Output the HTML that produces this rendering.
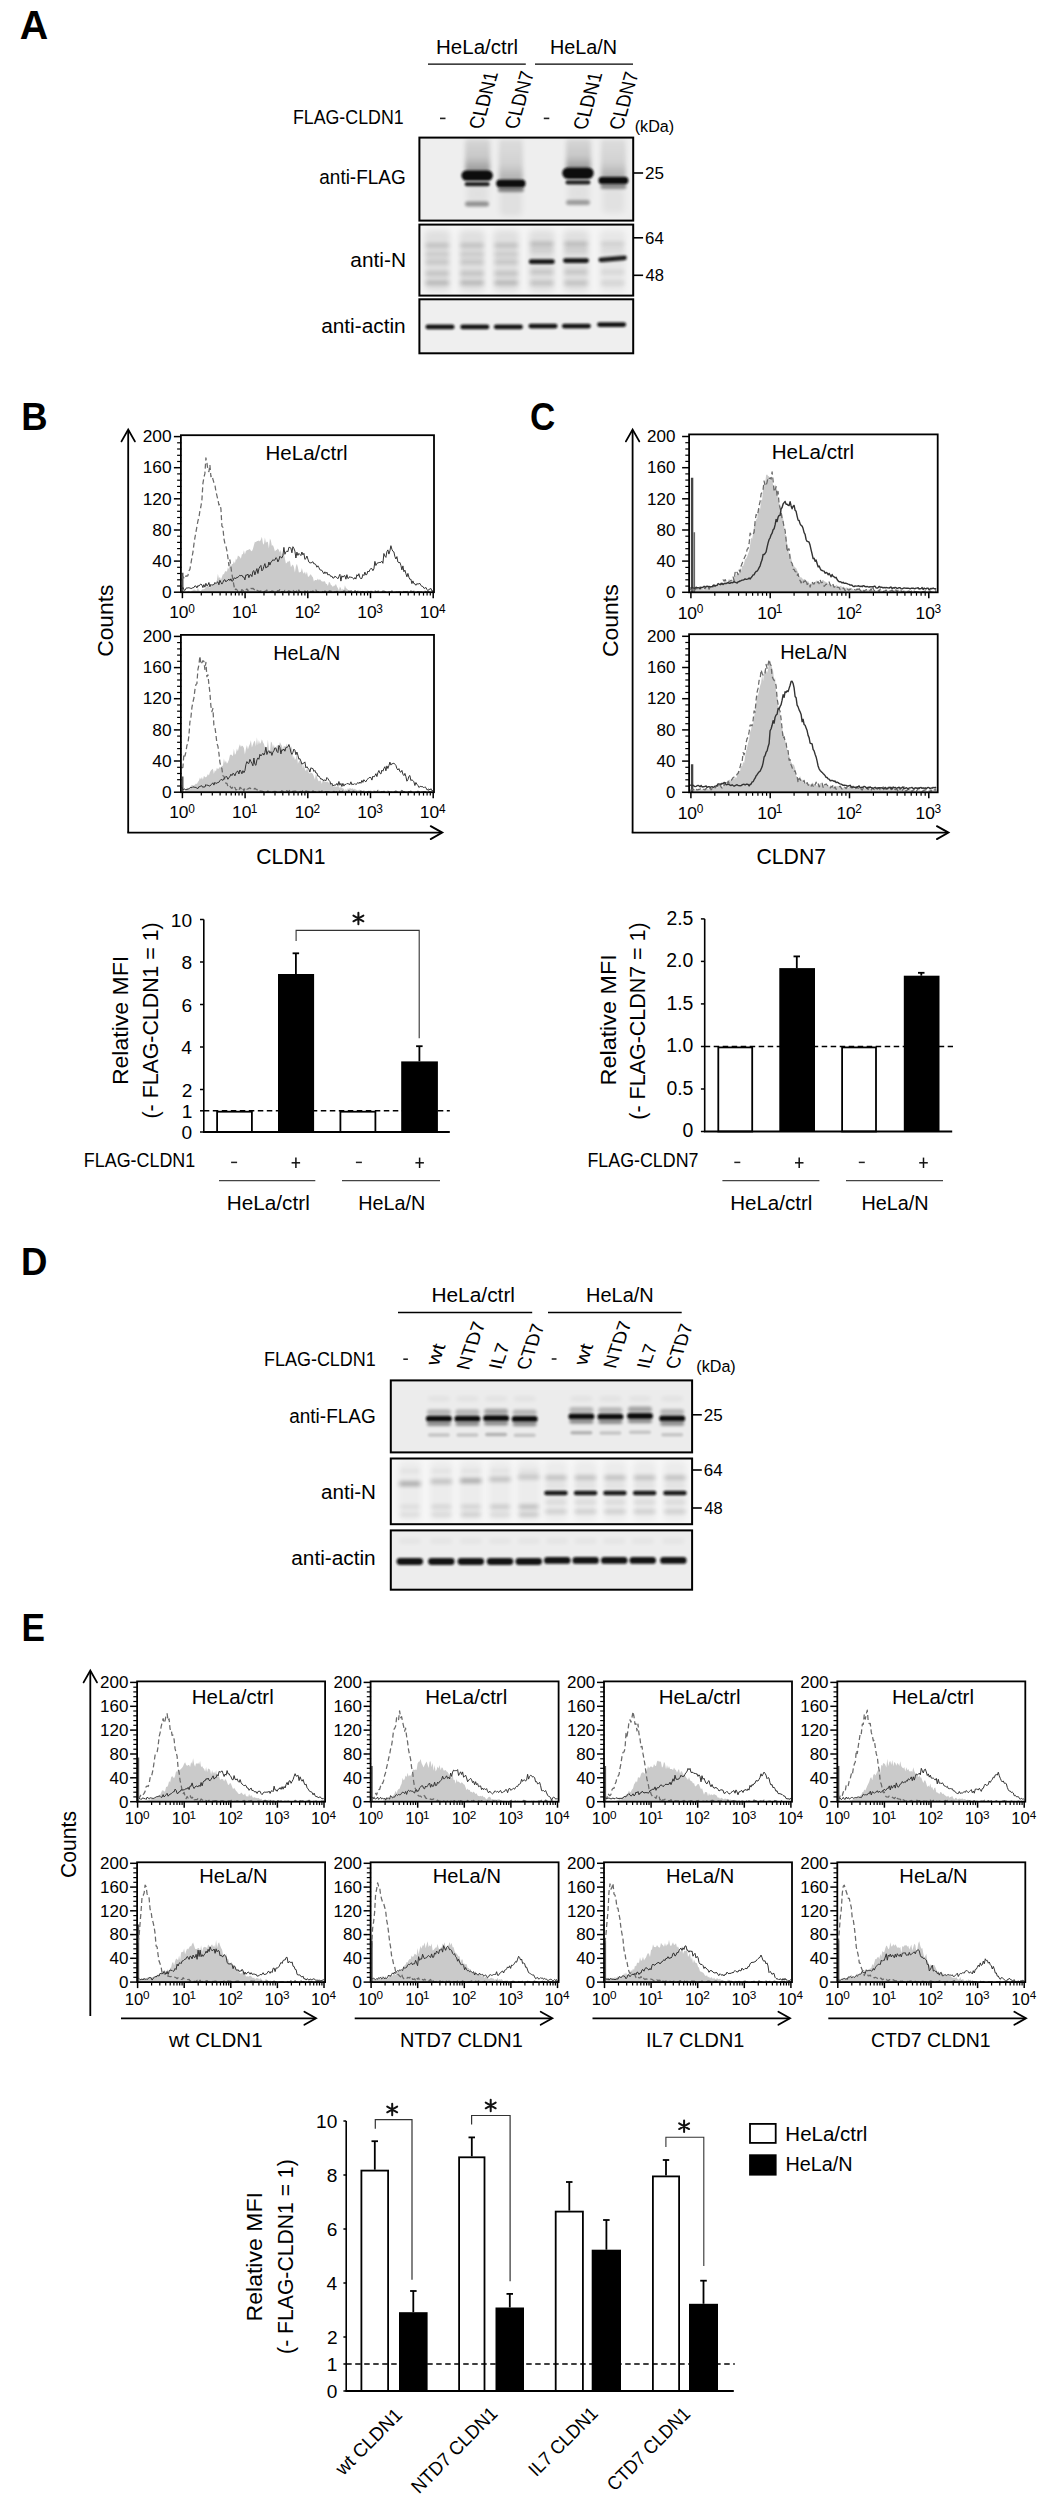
<!DOCTYPE html>
<html><head><meta charset="utf-8"><title>Figure</title>
<style>
html,body{margin:0;padding:0;background:#fff;}
svg{display:block;font-family:"Liberation Sans",sans-serif;}
text{stroke:none;}
</style></head><body>
<svg width="1044" height="2500" viewBox="0 0 1044 2500">
<defs><filter id="b1" x="-40%" y="-300%" width="180%" height="700%"><feGaussianBlur stdDeviation="1"/></filter><filter id="b15" x="-40%" y="-300%" width="180%" height="700%"><feGaussianBlur stdDeviation="1.5"/></filter><filter id="b2" x="-40%" y="-300%" width="180%" height="700%"><feGaussianBlur stdDeviation="2"/></filter><filter id="b3" x="-40%" y="-300%" width="180%" height="700%"><feGaussianBlur stdDeviation="3"/></filter><filter id="b5" x="-40%" y="-300%" width="180%" height="700%"><feGaussianBlur stdDeviation="5"/></filter><linearGradient id="smr" x1="0" y1="0" x2="0" y2="1"><stop offset="0" stop-color="#000" stop-opacity="0.10"/><stop offset="0.55" stop-color="#000" stop-opacity="0.16"/><stop offset="1" stop-color="#000" stop-opacity="0.38"/></linearGradient><linearGradient id="smr2" x1="0" y1="0" x2="0" y2="1"><stop offset="0" stop-color="#000" stop-opacity="0.07"/><stop offset="0.6" stop-color="#000" stop-opacity="0.12"/><stop offset="1" stop-color="#000" stop-opacity="0.28"/></linearGradient><clipPath id="ca1"><rect x="419.4" y="137.6" width="213.80000000000007" height="83.0"/></clipPath><clipPath id="ca2"><rect x="419.4" y="224.6" width="213.80000000000007" height="71.00000000000003"/></clipPath><clipPath id="ca3"><rect x="419.4" y="299.3" width="213.80000000000007" height="54.0"/></clipPath><clipPath id="cd1"><rect x="390.8" y="1380.4" width="301.3" height="72.0"/></clipPath><clipPath id="cd2"><rect x="390.8" y="1458.5" width="301.3" height="65.70000000000005"/></clipPath><clipPath id="cd3"><rect x="390.8" y="1530.4" width="301.3" height="59.299999999999955"/></clipPath><clipPath id="hc1"><rect x="180.9" y="435.2" width="253.1" height="157.00000000000006"/></clipPath><clipPath id="hc2"><rect x="180.9" y="634.9" width="253.1" height="157.30000000000007"/></clipPath><clipPath id="hc3"><rect x="689.1" y="434.4" width="248.60000000000002" height="157.89999999999998"/></clipPath><clipPath id="hc4"><rect x="689.1" y="634.2" width="248.60000000000002" height="158.0999999999999"/></clipPath><clipPath id="hc10"><rect x="137.1" y="1681.4" width="188.00000000000003" height="120.29999999999995"/></clipPath><clipPath id="hc20"><rect x="137.1" y="1862.3" width="188.00000000000003" height="119.79999999999995"/></clipPath><clipPath id="hc11"><rect x="370.6" y="1681.4" width="188.0" height="120.29999999999995"/></clipPath><clipPath id="hc21"><rect x="370.6" y="1862.3" width="188.0" height="119.79999999999995"/></clipPath><clipPath id="hc12"><rect x="604.0" y="1681.4" width="188.0" height="120.29999999999995"/></clipPath><clipPath id="hc22"><rect x="604.0" y="1862.3" width="188.0" height="119.79999999999995"/></clipPath><clipPath id="hc13"><rect x="837.3" y="1681.4" width="188.0" height="120.29999999999995"/></clipPath><clipPath id="hc23"><rect x="837.3" y="1862.3" width="188.0" height="119.79999999999995"/></clipPath></defs>
<rect width="1044" height="2500" fill="#fff"/>
<text x="19.71" y="39.10" font-size="40.00" textLength="28.46" lengthAdjust="spacingAndGlyphs" font-weight="bold" fill="#000" >A</text>
<text x="436.06" y="53.70" font-size="19.71" textLength="82.00" lengthAdjust="spacingAndGlyphs" >HeLa/ctrl</text>
<text x="549.91" y="53.70" font-size="19.71" textLength="67.18" lengthAdjust="spacingAndGlyphs" >HeLa/N</text>
<line x1="428.0" y1="64.1" x2="525.8" y2="64.1" stroke="#000" stroke-width="1.4" />
<line x1="535.0" y1="64.1" x2="633.0" y2="64.1" stroke="#000" stroke-width="1.4" />
<text x="292.88" y="123.60" font-size="20.00" textLength="110.80" lengthAdjust="spacingAndGlyphs" >FLAG-CLDN1</text>
<line x1="440.0" y1="118.4" x2="445.5" y2="118.4" stroke="#222" stroke-width="1.6" />
<line x1="543.8" y1="118.4" x2="549.3" y2="118.4" stroke="#222" stroke-width="1.6" />
<g transform="translate(482.37 128.79) skewX(-16) rotate(-90)"><text x="0" y="0" font-size="20.50" textLength="56.58" lengthAdjust="spacingAndGlyphs" font-style="italic">CLDN1</text></g>
<g transform="translate(517.94 128.81) skewX(-16) rotate(-90)"><text x="0" y="0" font-size="20.50" textLength="57.61" lengthAdjust="spacingAndGlyphs" font-style="italic">CLDN7</text></g>
<g transform="translate(586.56 129.60) skewX(-16) rotate(-90)"><text x="0" y="0" font-size="20.50" textLength="56.90" lengthAdjust="spacingAndGlyphs" font-style="italic">CLDN1</text></g>
<g transform="translate(622.54 129.61) skewX(-16) rotate(-90)"><text x="0" y="0" font-size="20.50" textLength="57.61" lengthAdjust="spacingAndGlyphs" font-style="italic">CLDN7</text></g>
<text x="634.73" y="132.00" font-size="16.23" textLength="39.41" lengthAdjust="spacingAndGlyphs" >(kDa)</text>
<text x="319.34" y="184.10" font-size="19.71" textLength="86.33" lengthAdjust="spacingAndGlyphs" >anti-FLAG</text>
<text x="350.37" y="267.20" font-size="19.71" textLength="55.66" lengthAdjust="spacingAndGlyphs" >anti-N</text>
<text x="321.17" y="333.30" font-size="19.71" textLength="84.54" lengthAdjust="spacingAndGlyphs" >anti-actin</text>
<g clip-path="url(#ca1)">
<rect x="419.4" y="137.6" width="213.8" height="83.0" fill="#eeeeee" />
<rect x="465.1" y="139.0" width="25.0" height="33.0" rx="3" fill="url(#smr)" filter="url(#b2)"/>
<rect x="498.9" y="139.0" width="24.0" height="42.0" rx="3" fill="url(#smr2)" filter="url(#b2)"/>
<rect x="566.0" y="139.0" width="25.0" height="31.0" rx="3" fill="url(#smr)" filter="url(#b2)"/>
<rect x="600.9" y="139.0" width="25.0" height="39.0" rx="3" fill="url(#smr2)" filter="url(#b2)"/>
<rect x="499.9" y="190.0" width="22.0" height="26.0" rx="4.0" fill="#000" opacity="0.06" filter="url(#b3)"/>
<rect x="602.4" y="187.0" width="22.0" height="26.0" rx="4.0" fill="#000" opacity="0.05" filter="url(#b3)"/>
<rect x="466.6" y="184.0" width="22.0" height="20.0" rx="4.0" fill="#000" opacity="0.05" filter="url(#b3)"/>
<rect x="567.5" y="183.0" width="22.0" height="20.0" rx="4.0" fill="#000" opacity="0.05" filter="url(#b3)"/>
<rect x="497.9" y="187.0" width="26.0" height="5.0" rx="2.5" fill="#000" opacity="0.45" filter="url(#b15)"/>
<rect x="600.4" y="184.0" width="26.0" height="5.0" rx="2.5" fill="#000" opacity="0.4" filter="url(#b15)"/>
<rect x="464.7" y="182.1" width="25.0" height="4.2" rx="2.1" fill="#000" opacity="0.85" filter="url(#b1)"/>
<rect x="565.5" y="180.3" width="25.0" height="4.2" rx="2.1" fill="#000" opacity="0.85" filter="url(#b1)"/>
<rect x="465.0" y="201.5" width="24.0" height="5.0" rx="2.5" fill="#000" opacity="0.38" filter="url(#b15)"/>
<rect x="566.0" y="200.0" width="24.0" height="5.0" rx="2.5" fill="#000" opacity="0.33" filter="url(#b15)"/>
<rect x="461.4" y="170.2" width="31.5" height="10.5" rx="5.2" fill="#111" opacity="1.0" filter="url(#b1)"/>
<rect x="496.1" y="179.4" width="29.5" height="8.0" rx="4.0" fill="#111" opacity="1.0" filter="url(#b1)"/>
<rect x="562.2" y="167.4" width="31.5" height="11.5" rx="5.8" fill="#111" opacity="1.0" filter="url(#b1)"/>
<rect x="598.4" y="176.7" width="30.0" height="7.5" rx="3.8" fill="#111" opacity="1.0" filter="url(#b1)"/>
</g>
<rect x="419.4" y="137.6" width="213.8" height="83.0" fill="none" stroke="#000" stroke-width="2" />
<line x1="633.6" y1="173.0" x2="643.1" y2="173.0" stroke="#000" stroke-width="1.6" />
<text x="645.05" y="178.90" font-size="16.86" textLength="18.98" lengthAdjust="spacingAndGlyphs" >25</text>
<g clip-path="url(#ca2)">
<rect x="419.4" y="224.6" width="213.8" height="71.0" fill="#f4f4f4" />
<rect x="424.3" y="230.0" width="26.0" height="62.0" rx="5.0" fill="#000" opacity="0.08" filter="url(#b3)"/>
<rect x="425.3" y="243.4" width="24.0" height="4.0" rx="2.0" fill="#000" opacity="0.17" filter="url(#b2)"/>
<rect x="425.3" y="252.2" width="24.0" height="4.0" rx="2.0" fill="#000" opacity="0.12" filter="url(#b2)"/>
<rect x="425.3" y="259.9" width="24.0" height="4.0" rx="2.0" fill="#000" opacity="0.14" filter="url(#b2)"/>
<rect x="425.3" y="271.4" width="24.0" height="4.0" rx="2.0" fill="#000" opacity="0.16" filter="url(#b2)"/>
<rect x="425.3" y="280.8" width="24.0" height="4.0" rx="2.0" fill="#000" opacity="0.22" filter="url(#b2)"/>
<rect x="459.0" y="230.0" width="26.0" height="62.0" rx="5.0" fill="#000" opacity="0.08" filter="url(#b3)"/>
<rect x="460.0" y="243.4" width="24.0" height="4.0" rx="2.0" fill="#000" opacity="0.17" filter="url(#b2)"/>
<rect x="460.0" y="252.2" width="24.0" height="4.0" rx="2.0" fill="#000" opacity="0.12" filter="url(#b2)"/>
<rect x="460.0" y="259.9" width="24.0" height="4.0" rx="2.0" fill="#000" opacity="0.14" filter="url(#b2)"/>
<rect x="460.0" y="271.4" width="24.0" height="4.0" rx="2.0" fill="#000" opacity="0.16" filter="url(#b2)"/>
<rect x="460.0" y="280.8" width="24.0" height="4.0" rx="2.0" fill="#000" opacity="0.22" filter="url(#b2)"/>
<rect x="493.2" y="230.0" width="26.0" height="62.0" rx="5.0" fill="#000" opacity="0.08" filter="url(#b3)"/>
<rect x="494.2" y="243.4" width="24.0" height="4.0" rx="2.0" fill="#000" opacity="0.17" filter="url(#b2)"/>
<rect x="494.2" y="252.2" width="24.0" height="4.0" rx="2.0" fill="#000" opacity="0.12" filter="url(#b2)"/>
<rect x="494.2" y="259.9" width="24.0" height="4.0" rx="2.0" fill="#000" opacity="0.14" filter="url(#b2)"/>
<rect x="494.2" y="271.4" width="24.0" height="4.0" rx="2.0" fill="#000" opacity="0.16" filter="url(#b2)"/>
<rect x="494.2" y="280.8" width="24.0" height="4.0" rx="2.0" fill="#000" opacity="0.22" filter="url(#b2)"/>
<rect x="528.8" y="230.0" width="26.0" height="62.0" rx="5.0" fill="#000" opacity="0.08" filter="url(#b3)"/>
<rect x="529.8" y="241.9" width="24.0" height="4.0" rx="2.0" fill="#000" opacity="0.2" filter="url(#b2)"/>
<rect x="529.8" y="248.2" width="24.0" height="4.0" rx="2.0" fill="#000" opacity="0.1" filter="url(#b2)"/>
<rect x="529.8" y="270.1" width="24.0" height="4.0" rx="2.0" fill="#000" opacity="0.14" filter="url(#b2)"/>
<rect x="529.8" y="281.0" width="24.0" height="4.0" rx="2.0" fill="#000" opacity="0.16" filter="url(#b2)"/>
<rect x="563.0" y="230.0" width="26.0" height="62.0" rx="5.0" fill="#000" opacity="0.08" filter="url(#b3)"/>
<rect x="564.0" y="241.9" width="24.0" height="4.0" rx="2.0" fill="#000" opacity="0.2" filter="url(#b2)"/>
<rect x="564.0" y="248.2" width="24.0" height="4.0" rx="2.0" fill="#000" opacity="0.1" filter="url(#b2)"/>
<rect x="564.0" y="270.1" width="24.0" height="4.0" rx="2.0" fill="#000" opacity="0.14" filter="url(#b2)"/>
<rect x="564.0" y="281.0" width="24.0" height="4.0" rx="2.0" fill="#000" opacity="0.16" filter="url(#b2)"/>
<rect x="599.6" y="230.0" width="26.0" height="62.0" rx="5.0" fill="#000" opacity="0.05" filter="url(#b3)"/>
<rect x="600.6" y="241.9" width="24.0" height="4.0" rx="2.0" fill="#000" opacity="0.12" filter="url(#b2)"/>
<rect x="600.6" y="248.2" width="24.0" height="4.0" rx="2.0" fill="#000" opacity="0.06" filter="url(#b2)"/>
<rect x="600.6" y="270.1" width="24.0" height="4.0" rx="2.0" fill="#000" opacity="0.084" filter="url(#b2)"/>
<rect x="600.6" y="281.0" width="24.0" height="4.0" rx="2.0" fill="#000" opacity="0.096" filter="url(#b2)"/>
<rect x="528.8" y="259.3" width="26.0" height="4.8" rx="2.4" fill="#111" opacity="0.95" filter="url(#b1)"/>
<rect x="563.0" y="258.2" width="26.0" height="4.8" rx="2.4" fill="#111" opacity="0.95" filter="url(#b1)"/>
<rect x="598.4" y="256.4" width="28.5" height="4.8" rx="2.4" fill="#111" opacity="0.93" filter="url(#b1)" transform="rotate(-5 612.6 258.8)"/>
</g>
<rect x="419.4" y="224.6" width="213.8" height="71.0" fill="none" stroke="#000" stroke-width="2" />
<line x1="633.6" y1="237.8" x2="643.1" y2="237.8" stroke="#000" stroke-width="1.6" />
<text x="645.06" y="243.70" font-size="16.86" textLength="18.79" lengthAdjust="spacingAndGlyphs" >64</text>
<line x1="633.6" y1="275.3" x2="643.1" y2="275.3" stroke="#000" stroke-width="1.6" />
<text x="645.57" y="281.20" font-size="16.86" textLength="18.43" lengthAdjust="spacingAndGlyphs" >48</text>
<g clip-path="url(#ca3)">
<rect x="419.4" y="299.3" width="213.8" height="54.0" fill="#efefef" />
<rect x="425.5" y="324.6" width="29.0" height="4.6" rx="2.3" fill="#111" opacity="0.97" filter="url(#b1)"/>
<rect x="460.3" y="324.6" width="29.0" height="4.6" rx="2.3" fill="#111" opacity="0.97" filter="url(#b1)"/>
<rect x="493.9" y="324.6" width="29.0" height="4.6" rx="2.3" fill="#111" opacity="0.97" filter="url(#b1)"/>
<rect x="528.5" y="323.8" width="29.0" height="4.6" rx="2.3" fill="#111" opacity="0.97" filter="url(#b1)"/>
<rect x="561.9" y="323.8" width="29.0" height="4.6" rx="2.3" fill="#111" opacity="0.97" filter="url(#b1)"/>
<rect x="597.1" y="322.3" width="29.0" height="4.6" rx="2.3" fill="#111" opacity="0.97" filter="url(#b1)"/>
</g>
<rect x="419.4" y="299.3" width="213.8" height="54.0" fill="none" stroke="#000" stroke-width="2" />
<text x="21.02" y="1274.50" font-size="39.57" textLength="26.42" lengthAdjust="spacingAndGlyphs" font-weight="bold" fill="#000" >D</text>
<text x="431.43" y="1302.20" font-size="19.71" textLength="83.56" lengthAdjust="spacingAndGlyphs" >HeLa/ctrl</text>
<text x="586.10" y="1302.20" font-size="19.71" textLength="67.60" lengthAdjust="spacingAndGlyphs" >HeLa/N</text>
<line x1="398.0" y1="1312.5" x2="532.2" y2="1312.5" stroke="#000" stroke-width="1.4" />
<line x1="548.0" y1="1312.5" x2="681.7" y2="1312.5" stroke="#000" stroke-width="1.4" />
<text x="264.06" y="1365.60" font-size="19.57" textLength="111.72" lengthAdjust="spacingAndGlyphs" >FLAG-CLDN1</text>
<line x1="403.3" y1="1359.2" x2="407.9" y2="1359.2" stroke="#222" stroke-width="1.6" />
<line x1="551.7" y1="1359.0" x2="556.5" y2="1359.0" stroke="#222" stroke-width="1.6" />
<g transform="translate(438.59 1365.31) skewX(-19.5) rotate(-90)"><text x="0" y="0" font-size="19.50" textLength="21.13" lengthAdjust="spacingAndGlyphs" font-style="italic">wt</text></g>
<g transform="translate(469.01 1369.80) skewX(-19.5) rotate(-90)"><text x="0" y="0" font-size="19.50" textLength="48.12" lengthAdjust="spacingAndGlyphs" font-style="italic">NTD7</text></g>
<g transform="translate(501.34 1369.29) skewX(-19.5) rotate(-90)"><text x="0" y="0" font-size="19.50" textLength="25.78" lengthAdjust="spacingAndGlyphs" font-style="italic">IL7</text></g>
<g transform="translate(529.07 1369.50) skewX(-19.5) rotate(-90)"><text x="0" y="0" font-size="19.50" textLength="45.35" lengthAdjust="spacingAndGlyphs" font-style="italic">CTD7</text></g>
<g transform="translate(586.50 1364.99) skewX(-19.5) rotate(-90)"><text x="0" y="0" font-size="19.50" textLength="20.72" lengthAdjust="spacingAndGlyphs" font-style="italic">wt</text></g>
<g transform="translate(615.74 1368.29) skewX(-19.5) rotate(-90)"><text x="0" y="0" font-size="19.50" textLength="47.12" lengthAdjust="spacingAndGlyphs" font-style="italic">NTD7</text></g>
<g transform="translate(649.31 1368.44) skewX(-19.5) rotate(-90)"><text x="0" y="0" font-size="19.50" textLength="24.26" lengthAdjust="spacingAndGlyphs" font-style="italic">IL7</text></g>
<g transform="translate(677.90 1368.68) skewX(-19.5) rotate(-90)"><text x="0" y="0" font-size="19.50" textLength="44.64" lengthAdjust="spacingAndGlyphs" font-style="italic">CTD7</text></g>
<text x="696.33" y="1371.60" font-size="16.23" textLength="39.41" lengthAdjust="spacingAndGlyphs" >(kDa)</text>
<text x="289.24" y="1423.30" font-size="19.57" textLength="86.43" lengthAdjust="spacingAndGlyphs" >anti-FLAG</text>
<text x="320.97" y="1498.80" font-size="19.57" textLength="55.03" lengthAdjust="spacingAndGlyphs" >anti-N</text>
<text x="291.27" y="1564.90" font-size="19.57" textLength="84.44" lengthAdjust="spacingAndGlyphs" >anti-actin</text>
<g clip-path="url(#cd1)">
<rect x="390.8" y="1380.4" width="301.3" height="72.0" fill="#ececec" />
<rect x="426.9" y="1409.2" width="24.0" height="6.0" rx="3.0" fill="#000" opacity="0.22" filter="url(#b15)"/>
<rect x="426.9" y="1421.5" width="24.0" height="4.5" rx="2.2" fill="#000" opacity="0.4" filter="url(#b15)"/>
<rect x="427.9" y="1433.2" width="22.0" height="3.5" rx="1.8" fill="#000" opacity="0.16" filter="url(#b1)"/>
<rect x="427.9" y="1396.8" width="22.0" height="4.0" rx="2.0" fill="#000" opacity="0.05" filter="url(#b2)"/>
<rect x="455.4" y="1409.2" width="24.0" height="6.0" rx="3.0" fill="#000" opacity="0.22" filter="url(#b15)"/>
<rect x="455.4" y="1421.5" width="24.0" height="4.5" rx="2.2" fill="#000" opacity="0.4" filter="url(#b15)"/>
<rect x="456.4" y="1433.2" width="22.0" height="3.5" rx="1.8" fill="#000" opacity="0.16" filter="url(#b1)"/>
<rect x="456.4" y="1396.8" width="22.0" height="4.0" rx="2.0" fill="#000" opacity="0.05" filter="url(#b2)"/>
<rect x="484.1" y="1408.7" width="24.0" height="6.0" rx="3.0" fill="#000" opacity="0.3" filter="url(#b15)"/>
<rect x="484.1" y="1421.0" width="24.0" height="4.5" rx="2.2" fill="#000" opacity="0.4" filter="url(#b15)"/>
<rect x="485.1" y="1432.8" width="22.0" height="3.5" rx="1.8" fill="#000" opacity="0.24" filter="url(#b1)"/>
<rect x="485.1" y="1396.8" width="22.0" height="4.0" rx="2.0" fill="#000" opacity="0.05" filter="url(#b2)"/>
<rect x="512.7" y="1409.4" width="24.0" height="6.0" rx="3.0" fill="#000" opacity="0.22" filter="url(#b15)"/>
<rect x="512.7" y="1421.7" width="24.0" height="4.5" rx="2.2" fill="#000" opacity="0.4" filter="url(#b15)"/>
<rect x="513.7" y="1433.5" width="22.0" height="3.5" rx="1.8" fill="#000" opacity="0.16" filter="url(#b1)"/>
<rect x="513.7" y="1396.8" width="22.0" height="4.0" rx="2.0" fill="#000" opacity="0.05" filter="url(#b2)"/>
<rect x="569.4" y="1406.9" width="24.0" height="6.0" rx="3.0" fill="#000" opacity="0.22" filter="url(#b15)"/>
<rect x="569.4" y="1419.2" width="24.0" height="4.5" rx="2.2" fill="#000" opacity="0.4" filter="url(#b15)"/>
<rect x="570.4" y="1431.0" width="22.0" height="3.5" rx="1.8" fill="#000" opacity="0.24" filter="url(#b1)"/>
<rect x="570.4" y="1396.8" width="22.0" height="4.0" rx="2.0" fill="#000" opacity="0.05" filter="url(#b2)"/>
<rect x="598.4" y="1407.2" width="24.0" height="6.0" rx="3.0" fill="#000" opacity="0.22" filter="url(#b15)"/>
<rect x="598.4" y="1419.5" width="24.0" height="4.5" rx="2.2" fill="#000" opacity="0.4" filter="url(#b15)"/>
<rect x="599.4" y="1431.2" width="22.0" height="3.5" rx="1.8" fill="#000" opacity="0.16" filter="url(#b1)"/>
<rect x="599.4" y="1396.8" width="22.0" height="4.0" rx="2.0" fill="#000" opacity="0.05" filter="url(#b2)"/>
<rect x="628.0" y="1406.5" width="24.0" height="6.0" rx="3.0" fill="#000" opacity="0.3" filter="url(#b15)"/>
<rect x="628.0" y="1418.8" width="24.0" height="4.5" rx="2.2" fill="#000" opacity="0.4" filter="url(#b15)"/>
<rect x="629.0" y="1430.5" width="22.0" height="3.5" rx="1.8" fill="#000" opacity="0.16" filter="url(#b1)"/>
<rect x="629.0" y="1396.8" width="22.0" height="4.0" rx="2.0" fill="#000" opacity="0.05" filter="url(#b2)"/>
<rect x="660.2" y="1408.9" width="24.0" height="6.0" rx="3.0" fill="#000" opacity="0.22" filter="url(#b15)"/>
<rect x="660.2" y="1421.2" width="24.0" height="4.5" rx="2.2" fill="#000" opacity="0.4" filter="url(#b15)"/>
<rect x="661.2" y="1433.0" width="22.0" height="3.5" rx="1.8" fill="#000" opacity="0.16" filter="url(#b1)"/>
<rect x="661.2" y="1396.8" width="22.0" height="4.0" rx="2.0" fill="#000" opacity="0.05" filter="url(#b2)"/>
<rect x="425.9" y="1415.8" width="26.0" height="5.8" rx="2.9" fill="#111" opacity="1.0" filter="url(#b1)"/>
<rect x="454.4" y="1415.8" width="26.0" height="5.8" rx="2.9" fill="#111" opacity="1.0" filter="url(#b1)"/>
<rect x="483.1" y="1415.3" width="26.0" height="5.8" rx="2.9" fill="#111" opacity="1.0" filter="url(#b1)"/>
<rect x="511.7" y="1416.0" width="26.0" height="5.8" rx="2.9" fill="#111" opacity="1.0" filter="url(#b1)"/>
<rect x="568.4" y="1413.5" width="26.0" height="5.8" rx="2.9" fill="#111" opacity="1.0" filter="url(#b1)"/>
<rect x="597.4" y="1413.8" width="26.0" height="5.8" rx="2.9" fill="#111" opacity="1.0" filter="url(#b1)"/>
<rect x="627.0" y="1413.1" width="26.0" height="5.8" rx="2.9" fill="#111" opacity="1.0" filter="url(#b1)"/>
<rect x="659.2" y="1415.5" width="26.0" height="5.8" rx="2.9" fill="#111" opacity="1.0" filter="url(#b1)"/>
</g>
<rect x="390.8" y="1380.4" width="301.3" height="72.0" fill="none" stroke="#000" stroke-width="2" />
<line x1="692.3" y1="1414.8" x2="701.8" y2="1414.8" stroke="#000" stroke-width="1.6" />
<text x="703.75" y="1420.70" font-size="16.86" textLength="18.98" lengthAdjust="spacingAndGlyphs" >25</text>
<g clip-path="url(#cd2)">
<rect x="390.8" y="1458.5" width="301.3" height="65.7" fill="#f6f6f6" />
<rect x="398.4" y="1461.0" width="23.0" height="60.0" rx="5.0" fill="#000" opacity="0.04" filter="url(#b3)"/>
<rect x="398.9" y="1481.5" width="22.0" height="4.5" rx="2.2" fill="#000" opacity="0.3" filter="url(#b2)"/>
<rect x="399.9" y="1469.5" width="20.0" height="3.0" rx="1.5" fill="#000" opacity="0.06" filter="url(#b2)"/>
<rect x="399.9" y="1505.0" width="20.0" height="3.5" rx="1.8" fill="#000" opacity="0.08" filter="url(#b2)"/>
<rect x="399.9" y="1512.8" width="20.0" height="3.5" rx="1.8" fill="#000" opacity="0.08" filter="url(#b2)"/>
<rect x="429.8" y="1461.0" width="23.0" height="60.0" rx="5.0" fill="#000" opacity="0.04" filter="url(#b3)"/>
<rect x="430.3" y="1479.2" width="22.0" height="4.5" rx="2.2" fill="#000" opacity="0.2" filter="url(#b2)"/>
<rect x="431.3" y="1469.5" width="20.0" height="3.0" rx="1.5" fill="#000" opacity="0.06" filter="url(#b2)"/>
<rect x="431.3" y="1505.0" width="20.0" height="3.5" rx="1.8" fill="#000" opacity="0.12" filter="url(#b2)"/>
<rect x="431.3" y="1512.8" width="20.0" height="3.5" rx="1.8" fill="#000" opacity="0.1" filter="url(#b2)"/>
<rect x="459.3" y="1461.0" width="23.0" height="60.0" rx="5.0" fill="#000" opacity="0.04" filter="url(#b3)"/>
<rect x="459.8" y="1478.5" width="22.0" height="4.5" rx="2.2" fill="#000" opacity="0.3" filter="url(#b2)"/>
<rect x="460.8" y="1469.5" width="20.0" height="3.0" rx="1.5" fill="#000" opacity="0.06" filter="url(#b2)"/>
<rect x="460.8" y="1505.0" width="20.0" height="3.5" rx="1.8" fill="#000" opacity="0.14" filter="url(#b2)"/>
<rect x="460.8" y="1512.8" width="20.0" height="3.5" rx="1.8" fill="#000" opacity="0.16" filter="url(#b2)"/>
<rect x="488.5" y="1461.0" width="23.0" height="60.0" rx="5.0" fill="#000" opacity="0.04" filter="url(#b3)"/>
<rect x="489.0" y="1477.0" width="22.0" height="4.5" rx="2.2" fill="#000" opacity="0.2" filter="url(#b2)"/>
<rect x="490.0" y="1469.5" width="20.0" height="3.0" rx="1.5" fill="#000" opacity="0.06" filter="url(#b2)"/>
<rect x="490.0" y="1505.0" width="20.0" height="3.5" rx="1.8" fill="#000" opacity="0.18" filter="url(#b2)"/>
<rect x="490.0" y="1512.8" width="20.0" height="3.5" rx="1.8" fill="#000" opacity="0.1" filter="url(#b2)"/>
<rect x="517.2" y="1461.0" width="23.0" height="60.0" rx="5.0" fill="#000" opacity="0.04" filter="url(#b3)"/>
<rect x="517.7" y="1474.8" width="22.0" height="4.5" rx="2.2" fill="#000" opacity="0.18" filter="url(#b2)"/>
<rect x="518.7" y="1469.5" width="20.0" height="3.0" rx="1.5" fill="#000" opacity="0.06" filter="url(#b2)"/>
<rect x="518.7" y="1505.0" width="20.0" height="3.5" rx="1.8" fill="#000" opacity="0.25" filter="url(#b2)"/>
<rect x="518.7" y="1512.8" width="20.0" height="3.5" rx="1.8" fill="#000" opacity="0.2" filter="url(#b2)"/>
<rect x="544.5" y="1461.0" width="23.0" height="60.0" rx="5.0" fill="#000" opacity="0.04" filter="url(#b3)"/>
<rect x="545.0" y="1475.5" width="22.0" height="4.5" rx="2.2" fill="#000" opacity="0.2" filter="url(#b2)"/>
<rect x="545.0" y="1483.5" width="22.0" height="3.5" rx="1.8" fill="#000" opacity="0.06" filter="url(#b2)"/>
<rect x="545.0" y="1500.5" width="22.0" height="3.5" rx="1.8" fill="#000" opacity="0.1" filter="url(#b2)"/>
<rect x="545.0" y="1509.7" width="22.0" height="3.5" rx="1.8" fill="#000" opacity="0.16" filter="url(#b2)"/>
<rect x="574.0" y="1461.0" width="23.0" height="60.0" rx="5.0" fill="#000" opacity="0.04" filter="url(#b3)"/>
<rect x="574.5" y="1475.5" width="22.0" height="4.5" rx="2.2" fill="#000" opacity="0.2" filter="url(#b2)"/>
<rect x="574.5" y="1483.5" width="22.0" height="3.5" rx="1.8" fill="#000" opacity="0.06" filter="url(#b2)"/>
<rect x="574.5" y="1500.5" width="22.0" height="3.5" rx="1.8" fill="#000" opacity="0.1" filter="url(#b2)"/>
<rect x="574.5" y="1509.7" width="22.0" height="3.5" rx="1.8" fill="#000" opacity="0.16" filter="url(#b2)"/>
<rect x="603.5" y="1461.0" width="23.0" height="60.0" rx="5.0" fill="#000" opacity="0.04" filter="url(#b3)"/>
<rect x="604.0" y="1475.5" width="22.0" height="4.5" rx="2.2" fill="#000" opacity="0.2" filter="url(#b2)"/>
<rect x="604.0" y="1483.5" width="22.0" height="3.5" rx="1.8" fill="#000" opacity="0.06" filter="url(#b2)"/>
<rect x="604.0" y="1500.5" width="22.0" height="3.5" rx="1.8" fill="#000" opacity="0.1" filter="url(#b2)"/>
<rect x="604.0" y="1509.7" width="22.0" height="3.5" rx="1.8" fill="#000" opacity="0.16" filter="url(#b2)"/>
<rect x="633.1" y="1461.0" width="23.0" height="60.0" rx="5.0" fill="#000" opacity="0.04" filter="url(#b3)"/>
<rect x="633.6" y="1475.5" width="22.0" height="4.5" rx="2.2" fill="#000" opacity="0.2" filter="url(#b2)"/>
<rect x="633.6" y="1483.5" width="22.0" height="3.5" rx="1.8" fill="#000" opacity="0.06" filter="url(#b2)"/>
<rect x="633.6" y="1500.5" width="22.0" height="3.5" rx="1.8" fill="#000" opacity="0.1" filter="url(#b2)"/>
<rect x="633.6" y="1509.7" width="22.0" height="3.5" rx="1.8" fill="#000" opacity="0.16" filter="url(#b2)"/>
<rect x="663.5" y="1461.0" width="23.0" height="60.0" rx="5.0" fill="#000" opacity="0.04" filter="url(#b3)"/>
<rect x="664.0" y="1475.5" width="22.0" height="4.5" rx="2.2" fill="#000" opacity="0.2" filter="url(#b2)"/>
<rect x="664.0" y="1483.5" width="22.0" height="3.5" rx="1.8" fill="#000" opacity="0.06" filter="url(#b2)"/>
<rect x="664.0" y="1500.5" width="22.0" height="3.5" rx="1.8" fill="#000" opacity="0.1" filter="url(#b2)"/>
<rect x="664.0" y="1509.7" width="22.0" height="3.5" rx="1.8" fill="#000" opacity="0.16" filter="url(#b2)"/>
<rect x="544.2" y="1490.8" width="23.5" height="4.5" rx="2.2" fill="#111" opacity="0.95" filter="url(#b1)"/>
<rect x="573.8" y="1490.8" width="23.5" height="4.5" rx="2.2" fill="#111" opacity="0.95" filter="url(#b1)"/>
<rect x="603.2" y="1490.8" width="23.5" height="4.5" rx="2.2" fill="#111" opacity="0.95" filter="url(#b1)"/>
<rect x="632.9" y="1490.8" width="23.5" height="4.5" rx="2.2" fill="#111" opacity="0.95" filter="url(#b1)"/>
<rect x="663.2" y="1490.8" width="23.5" height="4.5" rx="2.2" fill="#111" opacity="0.95" filter="url(#b1)"/>
</g>
<rect x="390.8" y="1458.5" width="301.3" height="65.7" fill="none" stroke="#000" stroke-width="2" />
<line x1="692.3" y1="1470.0" x2="701.8" y2="1470.0" stroke="#000" stroke-width="1.6" />
<text x="703.76" y="1475.90" font-size="16.86" textLength="18.79" lengthAdjust="spacingAndGlyphs" >64</text>
<line x1="692.3" y1="1508.0" x2="701.8" y2="1508.0" stroke="#000" stroke-width="1.6" />
<text x="704.27" y="1513.90" font-size="16.86" textLength="18.43" lengthAdjust="spacingAndGlyphs" >48</text>
<g clip-path="url(#cd3)">
<rect x="390.8" y="1530.4" width="301.3" height="59.3" fill="#ededed" />
<rect x="398.9" y="1538.5" width="22.0" height="5.0" rx="2.5" fill="#000" opacity="0.04" filter="url(#b2)"/>
<rect x="396.6" y="1558.1" width="26.5" height="6.8" rx="3.4" fill="#111" opacity="0.97" filter="url(#b1)"/>
<rect x="430.3" y="1538.5" width="22.0" height="5.0" rx="2.5" fill="#000" opacity="0.04" filter="url(#b2)"/>
<rect x="428.1" y="1558.1" width="26.5" height="6.8" rx="3.4" fill="#111" opacity="0.97" filter="url(#b1)"/>
<rect x="459.8" y="1538.5" width="22.0" height="5.0" rx="2.5" fill="#000" opacity="0.04" filter="url(#b2)"/>
<rect x="457.6" y="1558.1" width="26.5" height="6.8" rx="3.4" fill="#111" opacity="0.97" filter="url(#b1)"/>
<rect x="489.0" y="1538.5" width="22.0" height="5.0" rx="2.5" fill="#000" opacity="0.04" filter="url(#b2)"/>
<rect x="486.8" y="1558.1" width="26.5" height="6.8" rx="3.4" fill="#111" opacity="0.97" filter="url(#b1)"/>
<rect x="517.7" y="1538.5" width="22.0" height="5.0" rx="2.5" fill="#000" opacity="0.04" filter="url(#b2)"/>
<rect x="515.5" y="1558.1" width="26.5" height="6.8" rx="3.4" fill="#111" opacity="0.97" filter="url(#b1)"/>
<rect x="546.2" y="1538.5" width="22.0" height="5.0" rx="2.5" fill="#000" opacity="0.04" filter="url(#b2)"/>
<rect x="544.0" y="1557.0" width="26.5" height="6.8" rx="3.4" fill="#111" opacity="0.97" filter="url(#b1)"/>
<rect x="574.6" y="1538.5" width="22.0" height="5.0" rx="2.5" fill="#000" opacity="0.04" filter="url(#b2)"/>
<rect x="572.4" y="1557.0" width="26.5" height="6.8" rx="3.4" fill="#111" opacity="0.97" filter="url(#b1)"/>
<rect x="603.3" y="1538.5" width="22.0" height="5.0" rx="2.5" fill="#000" opacity="0.04" filter="url(#b2)"/>
<rect x="601.0" y="1557.0" width="26.5" height="6.8" rx="3.4" fill="#111" opacity="0.97" filter="url(#b1)"/>
<rect x="631.7" y="1538.5" width="22.0" height="5.0" rx="2.5" fill="#000" opacity="0.04" filter="url(#b2)"/>
<rect x="629.5" y="1557.0" width="26.5" height="6.8" rx="3.4" fill="#111" opacity="0.97" filter="url(#b1)"/>
<rect x="662.4" y="1538.5" width="22.0" height="5.0" rx="2.5" fill="#000" opacity="0.04" filter="url(#b2)"/>
<rect x="660.1" y="1557.0" width="26.5" height="6.8" rx="3.4" fill="#111" opacity="0.97" filter="url(#b1)"/>
</g>
<rect x="390.8" y="1530.4" width="301.3" height="59.3" fill="none" stroke="#000" stroke-width="2" />
<text x="21.28" y="430.20" font-size="39.28" textLength="26.34" lengthAdjust="spacingAndGlyphs" font-weight="bold" fill="#000" >B</text>
<line x1="128.2" y1="832.6" x2="128.2" y2="430.0" stroke="#000" stroke-width="1.8" />
<path d="M121.5,441.4 L128.2,429.5 L134.9,441.4" fill="none" stroke="#000" stroke-width="1.8" stroke-linecap="round" stroke-linejoin="miter"/>
<line x1="127.3" y1="832.6" x2="441.8" y2="832.6" stroke="#000" stroke-width="1.8" />
<path d="M430.7,826.1 L442.3,832.6 L430.7,839.1" fill="none" stroke="#000" stroke-width="1.8" stroke-linecap="round" stroke-linejoin="miter"/>
<text x="76.96" y="620.50" font-size="22.90" textLength="72.31" lengthAdjust="spacingAndGlyphs" transform="rotate(-90 113.30 620.50)" >Counts</text>
<text x="256.24" y="863.80" font-size="21.30" textLength="69.39" lengthAdjust="spacingAndGlyphs" >CLDN1</text>
<g clip-path="url(#hc1)">
<path d="M181.9,592.2 L181.9,592.0 L182.9,592.0 L183.9,591.6 L184.9,592.0 L185.9,592.0 L186.9,591.8 L187.9,591.3 L188.9,590.7 L189.9,592.0 L190.9,592.0 L191.9,590.4 L192.9,590.5 L193.9,589.4 L194.9,589.7 L195.9,590.5 L196.9,590.5 L197.9,587.8 L198.9,590.3 L199.9,590.7 L200.9,591.0 L201.9,589.6 L202.9,589.2 L203.9,589.2 L204.9,588.4 L205.9,587.4 L206.9,586.4 L207.9,585.3 L208.9,586.0 L209.9,588.3 L210.9,584.6 L211.9,586.9 L212.9,584.3 L213.9,585.4 L214.9,582.2 L215.9,582.4 L216.9,579.9 L217.9,573.8 L218.9,578.8 L219.9,576.8 L220.9,579.9 L221.9,577.1 L222.9,574.2 L223.9,574.2 L224.9,571.8 L225.9,570.9 L226.9,571.8 L227.9,567.2 L228.9,569.2 L229.9,562.4 L230.9,567.2 L231.9,563.7 L232.9,564.3 L233.9,561.0 L234.9,563.5 L235.9,558.5 L236.9,560.0 L237.9,555.6 L238.9,556.3 L239.9,556.9 L240.9,558.8 L241.9,554.2 L242.9,554.2 L243.9,550.2 L244.9,554.5 L245.9,551.0 L246.9,550.2 L247.9,549.9 L248.9,549.4 L249.9,549.0 L250.9,550.7 L251.9,551.3 L252.9,548.9 L253.9,545.3 L254.9,541.7 L255.9,542.3 L256.9,541.1 L257.9,541.1 L258.9,540.6 L259.9,541.5 L260.9,539.4 L261.9,536.7 L262.9,543.3 L263.9,544.8 L264.9,537.5 L265.9,543.1 L266.9,541.5 L267.9,542.3 L268.9,548.4 L269.9,538.5 L270.9,540.8 L271.9,545.9 L272.9,545.1 L273.9,547.7 L274.9,551.5 L275.9,550.3 L276.9,549.8 L277.9,548.6 L278.9,550.3 L279.9,552.5 L280.9,549.8 L281.9,556.3 L282.9,553.3 L283.9,553.7 L284.9,558.6 L285.9,563.6 L286.9,562.7 L287.9,561.3 L288.9,561.8 L289.9,560.5 L290.9,567.2 L291.9,565.6 L292.9,564.6 L293.9,566.9 L294.9,572.4 L295.9,566.2 L296.9,563.8 L297.9,567.5 L298.9,572.4 L299.9,572.2 L300.9,571.7 L301.9,567.9 L302.9,572.3 L303.9,573.8 L304.9,571.4 L305.9,574.8 L306.9,571.4 L307.9,576.6 L308.9,576.7 L309.9,575.0 L310.9,574.2 L311.9,576.2 L312.9,577.3 L313.9,581.5 L314.9,579.9 L315.9,580.1 L316.9,580.2 L317.9,578.5 L318.9,580.4 L319.9,578.9 L320.9,580.5 L321.9,581.6 L322.9,581.4 L323.9,581.4 L324.9,581.3 L325.9,583.8 L326.9,583.9 L327.9,585.9 L328.9,581.9 L329.9,582.4 L330.9,584.9 L331.9,585.6 L332.9,587.0 L333.9,585.4 L334.9,585.8 L335.9,583.7 L336.9,586.6 L337.9,588.3 L338.9,590.6 L339.9,586.5 L340.9,588.2 L341.9,590.4 L342.9,588.6 L343.9,590.6 L344.9,585.3 L345.9,588.0 L346.9,588.8 L347.9,589.7 L348.9,591.9 L349.9,590.1 L350.9,591.7 L351.9,589.9 L352.9,592.0 L353.9,591.6 L354.9,590.0 L355.9,589.9 L356.9,592.0 L357.9,592.0 L358.9,590.8 L359.9,590.8 L360.9,592.0 L361.9,592.0 L362.9,592.0 L363.9,592.0 L364.9,592.0 L365.9,590.6 L366.9,591.0 L367.9,590.0 L368.9,591.6 L369.9,591.6 L370.9,592.0 L371.9,591.6 L372.9,592.0 L373.9,592.0 L374.9,591.1 L375.9,590.6 L376.9,591.0 L377.9,590.7 L378.9,591.4 L379.9,592.0 L380.9,591.6 L381.9,591.9 L382.9,592.0 L383.9,592.0 L384.9,592.0 L385.9,591.7 L386.9,591.6 L387.9,592.0 L388.9,590.8 L389.9,591.6 L390.9,591.4 L391.9,591.0 L392.9,592.0 L393.9,592.0 L394.9,591.3 L395.9,592.0 L396.9,591.0 L397.9,591.6 L398.9,591.2 L399.9,591.4 L400.9,592.0 L401.9,591.5 L402.9,592.0 L403.9,592.0 L404.9,592.0 L405.9,591.5 L406.9,591.4 L407.9,591.4 L408.9,592.0 L409.9,592.0 L410.9,592.0 L411.9,592.0 L412.9,591.7 L413.9,592.0 L414.9,591.9 L415.9,591.9 L416.9,591.5 L417.9,592.0 L418.9,592.0 L419.9,592.0 L420.9,591.2 L421.9,591.6 L422.9,592.0 L423.9,592.0 L424.9,592.0 L425.9,592.0 L426.9,592.0 L427.9,592.0 L428.9,592.0 L429.9,592.0 L430.9,591.4 L431.9,592.0 L432.9,592.0 L433.0,592.2 Z" fill="#cacaca" />
<line x1="182.7" y1="592.2" x2="182.7" y2="572.8" stroke="#555" stroke-width="1.6" />
<path d="M181.9,579.0 L182.9,576.5 L183.9,578.1 L184.9,578.9 L185.9,575.9 L186.9,576.2 L187.9,575.7 L188.9,570.8 L189.9,569.3 L190.9,563.7 L191.9,557.8 L192.9,552.3 L193.9,544.4 L194.9,537.8 L195.9,532.3 L196.9,526.7 L197.9,521.0 L198.9,517.6 L199.9,511.0 L200.9,506.5 L201.9,500.1 L202.9,483.7 L203.9,477.6 L204.9,473.4 L205.9,457.8 L206.9,462.5 L207.9,470.1 L208.9,471.7 L209.9,465.0 L210.9,476.7 L211.9,475.4 L212.9,479.1 L213.9,482.7 L214.9,484.7 L215.9,491.3 L216.9,495.6 L217.9,499.6 L218.9,505.0 L219.9,504.3 L220.9,508.6 L221.9,526.1 L222.9,527.4 L223.9,538.5 L224.9,543.6 L225.9,546.0 L226.9,550.6 L227.9,557.5 L228.9,565.6 L229.9,559.9 L230.9,566.9 L231.9,574.1 L232.9,579.5 L233.9,585.5 L234.9,590.1 L235.9,589.0 L236.9,589.8 L237.9,591.5 L238.9,590.8 L239.9,591.0 L240.9,591.9 L241.9,589.6 L242.9,590.5 L243.9,591.4 L244.9,589.9 L245.9,589.9 L246.9,588.9 L247.9,590.8 L248.9,588.4 L249.9,588.3 L250.9,588.4 L251.9,588.6 L252.9,588.3 L253.9,589.3 L254.9,590.3 L255.9,591.5 L256.9,590.4 L257.9,590.7 L258.9,591.2 L259.9,591.3 L260.9,590.9 L261.9,592.0 L262.9,591.2 L263.9,592.0 L264.9,591.2 L265.9,590.7 L266.9,590.1 L267.9,591.7 L268.9,591.1 L269.9,591.5 L270.9,592.0 L271.9,590.9 L272.9,591.4 L273.9,591.4 L274.9,592.0 L275.9,591.4 L276.9,591.4 L277.9,590.6 L278.9,591.2 L279.9,589.1 L280.9,591.7 L281.9,591.6 L282.9,591.5 L283.9,592.0 L284.9,590.4 L285.9,591.0 L286.9,592.0 L287.9,591.4 L288.9,590.7 L289.9,592.0 L290.9,591.3 L291.9,591.6 L292.9,589.9 L293.9,591.2 L294.9,591.7 L295.9,591.8 L296.9,590.2 L297.9,591.8 L298.9,590.0 L299.9,592.0 L300.9,591.6 L301.9,591.6 L302.9,591.9 L303.9,591.6 L304.9,591.0 L305.9,591.9 L306.9,592.0 L307.9,590.6 L308.9,590.5 L309.9,591.9 L310.9,591.3 L311.9,592.0 L312.9,590.8 L313.9,592.0 L314.9,591.9 L315.9,590.1 L316.9,592.0 L317.9,591.5 L318.9,592.0 L319.9,592.0 L320.9,592.0 L321.9,591.3 L322.9,592.0 L323.9,591.9 L324.9,591.1 L325.9,591.6 L326.9,592.0 L327.9,590.6 L328.9,591.5 L329.9,590.7 L330.9,592.0 L331.9,590.5 L332.9,592.0 L333.9,592.0 L334.9,591.8 L335.9,591.8 L336.9,591.4 L337.9,591.9 L338.9,591.2 L339.9,590.7 L340.9,592.0 L341.9,592.0 L342.9,591.8 L343.9,591.1 L344.9,591.1 L345.9,591.8 L346.9,592.0 L347.9,591.6 L348.9,591.0 L349.9,592.0 L350.9,590.8 L351.9,591.5 L352.9,591.4 L353.9,592.0 L354.9,590.8 L355.9,591.6 L356.9,592.0 L357.9,591.1 L358.9,591.9 L359.9,591.0 L360.9,591.5 L361.9,592.0 L362.9,591.5 L363.9,591.9 L364.9,592.0 L365.9,591.6 L366.9,591.1 L367.9,591.6 L368.9,591.7 L369.9,592.0 L370.9,591.3 L371.9,591.5 L372.9,591.1 L373.9,591.4 L374.9,590.4 L375.9,592.0 L376.9,591.7 L377.9,591.4 L378.9,591.1 L379.9,592.0 L380.9,592.0 L381.9,591.7 L382.9,591.1 L383.9,591.0 L384.9,592.0 L385.9,591.6 L386.9,591.0 L387.9,591.7 L388.9,592.0 L389.9,592.0 L390.9,592.0 L391.9,591.0 L392.9,591.9 L393.9,592.0 L394.9,592.0 L395.9,591.8 L396.9,592.0 L397.9,592.0 L398.9,591.8 L399.9,591.9 L400.9,591.5 L401.9,591.7 L402.9,591.0 L403.9,591.8 L404.9,591.6 L405.9,591.6 L406.9,592.0 L407.9,591.1 L408.9,592.0 L409.9,592.0 L410.9,591.0 L411.9,591.4 L412.9,592.0 L413.9,591.2 L414.9,591.2 L415.9,591.4 L416.9,592.0 L417.9,591.7 L418.9,592.0 L419.9,592.0 L420.9,592.0 L421.9,592.0 L422.9,591.5 L423.9,592.0 L424.9,591.4 L425.9,591.7 L426.9,592.0 L427.9,591.7 L428.9,591.4 L429.9,591.1 L430.9,591.9 L431.9,590.8 L432.9,591.5" fill="none" stroke="#6a6a6a" stroke-width="1.25" stroke-dasharray="5 3" stroke-linejoin="round"/>
<path d="M181.9,588.9 L182.9,587.4 L183.9,589.6 L184.9,590.5 L185.9,588.4 L186.9,587.9 L187.9,588.0 L188.9,587.7 L189.9,588.1 L190.9,588.4 L191.9,588.4 L192.9,587.6 L193.9,587.6 L194.9,585.9 L195.9,586.0 L196.9,587.9 L197.9,585.5 L198.9,586.2 L199.9,584.7 L200.9,584.0 L201.9,585.0 L202.9,587.6 L203.9,584.6 L204.9,587.2 L205.9,583.3 L206.9,585.9 L207.9,585.1 L208.9,582.5 L209.9,586.8 L210.9,584.3 L211.9,585.5 L212.9,584.6 L213.9,584.7 L214.9,582.5 L215.9,583.6 L216.9,582.5 L217.9,581.8 L218.9,584.8 L219.9,580.3 L220.9,582.3 L221.9,584.1 L222.9,582.4 L223.9,580.1 L224.9,579.7 L225.9,581.9 L226.9,580.6 L227.9,580.3 L228.9,579.0 L229.9,580.6 L230.9,578.8 L231.9,581.3 L232.9,580.8 L233.9,578.3 L234.9,577.9 L235.9,578.7 L236.9,577.2 L237.9,577.5 L238.9,576.2 L239.9,575.2 L240.9,575.9 L241.9,575.2 L242.9,577.1 L243.9,577.1 L244.9,579.9 L245.9,574.9 L246.9,575.2 L247.9,574.0 L248.9,577.7 L249.9,574.9 L250.9,574.7 L251.9,576.6 L252.9,571.4 L253.9,570.6 L254.9,574.9 L255.9,571.5 L256.9,568.6 L257.9,573.5 L258.9,568.7 L259.9,566.8 L260.9,565.4 L261.9,570.9 L262.9,569.6 L263.9,566.3 L264.9,563.6 L265.9,568.1 L266.9,566.6 L267.9,567.0 L268.9,562.0 L269.9,565.1 L270.9,562.1 L271.9,561.4 L272.9,559.6 L273.9,560.5 L274.9,560.0 L275.9,557.6 L276.9,558.5 L277.9,561.9 L278.9,559.9 L279.9,556.3 L280.9,557.5 L281.9,557.9 L282.9,555.6 L283.9,547.4 L284.9,554.3 L285.9,551.9 L286.9,550.9 L287.9,551.8 L288.9,547.3 L289.9,547.5 L290.9,548.1 L291.9,552.8 L292.9,546.7 L293.9,548.4 L294.9,551.1 L295.9,558.0 L296.9,552.1 L297.9,555.4 L298.9,553.4 L299.9,554.4 L300.9,555.6 L301.9,552.0 L302.9,554.9 L303.9,553.3 L304.9,559.4 L305.9,558.6 L306.9,556.0 L307.9,559.1 L308.9,562.1 L309.9,562.9 L310.9,562.8 L311.9,562.5 L312.9,561.7 L313.9,563.9 L314.9,563.8 L315.9,564.7 L316.9,567.2 L317.9,565.8 L318.9,567.6 L319.9,569.8 L320.9,570.1 L321.9,570.3 L322.9,572.1 L323.9,573.8 L324.9,571.8 L325.9,573.5 L326.9,572.2 L327.9,575.0 L328.9,574.5 L329.9,574.9 L330.9,576.7 L331.9,576.1 L332.9,578.1 L333.9,578.0 L334.9,576.2 L335.9,576.9 L336.9,577.6 L337.9,578.8 L338.9,576.4 L339.9,574.3 L340.9,581.1 L341.9,575.8 L342.9,577.2 L343.9,575.8 L344.9,575.7 L345.9,579.2 L346.9,574.7 L347.9,578.5 L348.9,578.0 L349.9,576.5 L350.9,577.7 L351.9,577.1 L352.9,578.4 L353.9,579.2 L354.9,577.5 L355.9,579.1 L356.9,574.7 L357.9,576.1 L358.9,573.7 L359.9,577.7 L360.9,578.6 L361.9,578.4 L362.9,574.5 L363.9,575.6 L364.9,572.1 L365.9,575.0 L366.9,574.4 L367.9,571.0 L368.9,572.0 L369.9,569.5 L370.9,568.6 L371.9,568.6 L372.9,570.7 L373.9,568.9 L374.9,561.4 L375.9,565.5 L376.9,563.4 L377.9,562.9 L378.9,562.6 L379.9,562.4 L380.9,562.4 L381.9,561.2 L382.9,563.3 L383.9,553.5 L384.9,556.1 L385.9,557.4 L386.9,551.6 L387.9,549.9 L388.9,554.1 L389.9,550.9 L390.9,545.7 L391.9,549.3 L392.9,551.3 L393.9,551.9 L394.9,556.6 L395.9,559.0 L396.9,556.6 L397.9,562.0 L398.9,562.7 L399.9,562.4 L400.9,565.4 L401.9,569.9 L402.9,565.9 L403.9,571.7 L404.9,570.1 L405.9,573.7 L406.9,576.8 L407.9,573.4 L408.9,577.2 L409.9,579.4 L410.9,579.2 L411.9,583.6 L412.9,580.9 L413.9,583.6 L414.9,583.8 L415.9,585.3 L416.9,583.5 L417.9,584.2 L418.9,583.7 L419.9,583.4 L420.9,585.5 L421.9,586.2 L422.9,586.5 L423.9,588.2 L424.9,588.3 L425.9,587.4 L426.9,589.4 L427.9,590.7 L428.9,589.3 L429.9,589.1 L430.9,588.4 L431.9,590.8 L432.9,591.2" fill="none" stroke="#333" stroke-width="1.0" stroke-linejoin="round"/>
</g>
<rect x="180.9" y="435.2" width="253.1" height="157.0" fill="none" stroke="#000" stroke-width="1.8" />
<line x1="173.9" y1="592.2" x2="180.9" y2="592.2" stroke="#000" stroke-width="1.5" />
<text x="161.98" y="597.90" font-size="16.52" textLength="9.65" lengthAdjust="spacingAndGlyphs" >0</text>
<line x1="177.1" y1="586.0" x2="181.4" y2="586.0" stroke="#000" stroke-width="1.2" />
<line x1="177.1" y1="579.8" x2="181.4" y2="579.8" stroke="#000" stroke-width="1.2" />
<line x1="177.1" y1="573.5" x2="181.4" y2="573.5" stroke="#000" stroke-width="1.2" />
<line x1="177.1" y1="567.3" x2="181.4" y2="567.3" stroke="#000" stroke-width="1.2" />
<line x1="173.9" y1="561.1" x2="180.9" y2="561.1" stroke="#000" stroke-width="1.5" />
<text x="152.35" y="566.78" font-size="16.52" textLength="19.30" lengthAdjust="spacingAndGlyphs" >40</text>
<line x1="177.1" y1="554.9" x2="181.4" y2="554.9" stroke="#000" stroke-width="1.2" />
<line x1="177.1" y1="548.6" x2="181.4" y2="548.6" stroke="#000" stroke-width="1.2" />
<line x1="177.1" y1="542.4" x2="181.4" y2="542.4" stroke="#000" stroke-width="1.2" />
<line x1="177.1" y1="536.2" x2="181.4" y2="536.2" stroke="#000" stroke-width="1.2" />
<line x1="173.9" y1="530.0" x2="180.9" y2="530.0" stroke="#000" stroke-width="1.5" />
<text x="152.35" y="535.66" font-size="16.52" textLength="19.30" lengthAdjust="spacingAndGlyphs" >80</text>
<line x1="177.1" y1="523.7" x2="181.4" y2="523.7" stroke="#000" stroke-width="1.2" />
<line x1="177.1" y1="517.5" x2="181.4" y2="517.5" stroke="#000" stroke-width="1.2" />
<line x1="177.1" y1="511.3" x2="181.4" y2="511.3" stroke="#000" stroke-width="1.2" />
<line x1="177.1" y1="505.1" x2="181.4" y2="505.1" stroke="#000" stroke-width="1.2" />
<line x1="173.9" y1="498.8" x2="180.9" y2="498.8" stroke="#000" stroke-width="1.5" />
<text x="142.72" y="504.54" font-size="16.52" textLength="28.95" lengthAdjust="spacingAndGlyphs" >120</text>
<line x1="177.1" y1="492.6" x2="181.4" y2="492.6" stroke="#000" stroke-width="1.2" />
<line x1="177.1" y1="486.4" x2="181.4" y2="486.4" stroke="#000" stroke-width="1.2" />
<line x1="177.1" y1="480.2" x2="181.4" y2="480.2" stroke="#000" stroke-width="1.2" />
<line x1="177.1" y1="473.9" x2="181.4" y2="473.9" stroke="#000" stroke-width="1.2" />
<line x1="173.9" y1="467.7" x2="180.9" y2="467.7" stroke="#000" stroke-width="1.5" />
<text x="142.72" y="473.42" font-size="16.52" textLength="28.95" lengthAdjust="spacingAndGlyphs" >160</text>
<line x1="177.1" y1="461.5" x2="181.4" y2="461.5" stroke="#000" stroke-width="1.2" />
<line x1="177.1" y1="455.3" x2="181.4" y2="455.3" stroke="#000" stroke-width="1.2" />
<line x1="177.1" y1="449.0" x2="181.4" y2="449.0" stroke="#000" stroke-width="1.2" />
<line x1="177.1" y1="442.8" x2="181.4" y2="442.8" stroke="#000" stroke-width="1.2" />
<line x1="173.9" y1="436.6" x2="180.9" y2="436.6" stroke="#000" stroke-width="1.5" />
<text x="142.72" y="442.30" font-size="16.52" textLength="28.95" lengthAdjust="spacingAndGlyphs" >200</text>
<line x1="182.4" y1="592.2" x2="182.4" y2="598.2" stroke="#000" stroke-width="1.5" />
<line x1="201.3" y1="592.2" x2="201.3" y2="595.6" stroke="#000" stroke-width="1.2" />
<line x1="212.3" y1="592.2" x2="212.3" y2="595.6" stroke="#000" stroke-width="1.2" />
<line x1="220.1" y1="592.2" x2="220.1" y2="595.6" stroke="#000" stroke-width="1.2" />
<line x1="226.2" y1="592.2" x2="226.2" y2="595.6" stroke="#000" stroke-width="1.2" />
<line x1="231.2" y1="592.2" x2="231.2" y2="595.6" stroke="#000" stroke-width="1.2" />
<line x1="235.4" y1="592.2" x2="235.4" y2="595.6" stroke="#000" stroke-width="1.2" />
<line x1="239.0" y1="592.2" x2="239.0" y2="595.6" stroke="#000" stroke-width="1.2" />
<line x1="242.2" y1="592.2" x2="242.2" y2="595.6" stroke="#000" stroke-width="1.2" />
<text x="169.15" y="618.40" font-size="17.39" textLength="19.35" lengthAdjust="spacingAndGlyphs" >10</text>
<text x="188.17" y="613.10" font-size="11.88" textLength="6.61" lengthAdjust="spacingAndGlyphs" >0</text>
<line x1="245.1" y1="592.2" x2="245.1" y2="598.2" stroke="#000" stroke-width="1.5" />
<line x1="264.0" y1="592.2" x2="264.0" y2="595.6" stroke="#000" stroke-width="1.2" />
<line x1="275.0" y1="592.2" x2="275.0" y2="595.6" stroke="#000" stroke-width="1.2" />
<line x1="282.8" y1="592.2" x2="282.8" y2="595.6" stroke="#000" stroke-width="1.2" />
<line x1="288.9" y1="592.2" x2="288.9" y2="595.6" stroke="#000" stroke-width="1.2" />
<line x1="293.9" y1="592.2" x2="293.9" y2="595.6" stroke="#000" stroke-width="1.2" />
<line x1="298.1" y1="592.2" x2="298.1" y2="595.6" stroke="#000" stroke-width="1.2" />
<line x1="301.7" y1="592.2" x2="301.7" y2="595.6" stroke="#000" stroke-width="1.2" />
<line x1="304.9" y1="592.2" x2="304.9" y2="595.6" stroke="#000" stroke-width="1.2" />
<text x="232.12" y="618.40" font-size="17.39" textLength="19.35" lengthAdjust="spacingAndGlyphs" >10</text>
<text x="250.72" y="613.10" font-size="11.88" textLength="6.61" lengthAdjust="spacingAndGlyphs" >1</text>
<line x1="307.8" y1="592.2" x2="307.8" y2="598.2" stroke="#000" stroke-width="1.5" />
<line x1="326.7" y1="592.2" x2="326.7" y2="595.6" stroke="#000" stroke-width="1.2" />
<line x1="337.7" y1="592.2" x2="337.7" y2="595.6" stroke="#000" stroke-width="1.2" />
<line x1="345.5" y1="592.2" x2="345.5" y2="595.6" stroke="#000" stroke-width="1.2" />
<line x1="351.6" y1="592.2" x2="351.6" y2="595.6" stroke="#000" stroke-width="1.2" />
<line x1="356.6" y1="592.2" x2="356.6" y2="595.6" stroke="#000" stroke-width="1.2" />
<line x1="360.8" y1="592.2" x2="360.8" y2="595.6" stroke="#000" stroke-width="1.2" />
<line x1="364.4" y1="592.2" x2="364.4" y2="595.6" stroke="#000" stroke-width="1.2" />
<line x1="367.6" y1="592.2" x2="367.6" y2="595.6" stroke="#000" stroke-width="1.2" />
<text x="294.70" y="618.40" font-size="17.39" textLength="19.35" lengthAdjust="spacingAndGlyphs" >10</text>
<text x="313.60" y="613.10" font-size="11.88" textLength="6.61" lengthAdjust="spacingAndGlyphs" >2</text>
<line x1="370.5" y1="592.2" x2="370.5" y2="598.2" stroke="#000" stroke-width="1.5" />
<line x1="389.4" y1="592.2" x2="389.4" y2="595.6" stroke="#000" stroke-width="1.2" />
<line x1="400.4" y1="592.2" x2="400.4" y2="595.6" stroke="#000" stroke-width="1.2" />
<line x1="408.2" y1="592.2" x2="408.2" y2="595.6" stroke="#000" stroke-width="1.2" />
<line x1="414.3" y1="592.2" x2="414.3" y2="595.6" stroke="#000" stroke-width="1.2" />
<line x1="419.3" y1="592.2" x2="419.3" y2="595.6" stroke="#000" stroke-width="1.2" />
<line x1="423.5" y1="592.2" x2="423.5" y2="595.6" stroke="#000" stroke-width="1.2" />
<line x1="427.1" y1="592.2" x2="427.1" y2="595.6" stroke="#000" stroke-width="1.2" />
<line x1="430.3" y1="592.2" x2="430.3" y2="595.6" stroke="#000" stroke-width="1.2" />
<text x="357.28" y="618.40" font-size="17.39" textLength="19.35" lengthAdjust="spacingAndGlyphs" >10</text>
<text x="376.30" y="613.10" font-size="11.88" textLength="6.61" lengthAdjust="spacingAndGlyphs" >3</text>
<line x1="433.2" y1="592.2" x2="433.2" y2="598.2" stroke="#000" stroke-width="1.5" />
<text x="419.80" y="618.40" font-size="17.39" textLength="19.35" lengthAdjust="spacingAndGlyphs" >10</text>
<text x="439.06" y="613.10" font-size="11.88" textLength="6.61" lengthAdjust="spacingAndGlyphs" >4</text>
<text x="265.56" y="459.60" font-size="19.86" textLength="82.00" lengthAdjust="spacingAndGlyphs" >HeLa/ctrl</text>
<g clip-path="url(#hc2)">
<path d="M181.9,792.2 L181.9,791.9 L182.9,791.3 L183.9,792.0 L184.9,791.6 L185.9,789.8 L186.9,787.6 L187.9,788.1 L188.9,789.1 L189.9,787.9 L190.9,786.4 L191.9,784.7 L192.9,785.5 L193.9,785.5 L194.9,784.7 L195.9,783.5 L196.9,784.0 L197.9,782.0 L198.9,780.7 L199.9,777.6 L200.9,779.5 L201.9,777.0 L202.9,779.7 L203.9,775.9 L204.9,776.7 L205.9,777.6 L206.9,776.2 L207.9,774.0 L208.9,775.6 L209.9,772.3 L210.9,770.6 L211.9,769.6 L212.9,768.8 L213.9,773.9 L214.9,770.0 L215.9,771.6 L216.9,767.8 L217.9,769.2 L218.9,768.2 L219.9,766.8 L220.9,768.1 L221.9,765.4 L222.9,766.0 L223.9,758.4 L224.9,762.9 L225.9,760.6 L226.9,763.8 L227.9,762.2 L228.9,759.8 L229.9,755.2 L230.9,754.6 L231.9,755.0 L232.9,756.3 L233.9,748.7 L234.9,754.9 L235.9,753.2 L236.9,748.4 L237.9,751.3 L238.9,747.0 L239.9,744.3 L240.9,747.0 L241.9,745.5 L242.9,746.2 L243.9,747.9 L244.9,754.6 L245.9,748.8 L246.9,745.1 L247.9,749.5 L248.9,746.3 L249.9,743.9 L250.9,740.2 L251.9,747.4 L252.9,744.4 L253.9,741.8 L254.9,740.8 L255.9,746.5 L256.9,737.3 L257.9,745.3 L258.9,740.1 L259.9,744.1 L260.9,742.6 L261.9,739.3 L262.9,742.3 L263.9,744.1 L264.9,747.5 L265.9,746.6 L266.9,749.1 L267.9,739.6 L268.9,749.9 L269.9,753.1 L270.9,741.5 L271.9,742.8 L272.9,747.7 L273.9,744.5 L274.9,749.2 L275.9,748.5 L276.9,745.4 L277.9,745.6 L278.9,747.8 L279.9,741.9 L280.9,744.3 L281.9,745.8 L282.9,749.4 L283.9,745.6 L284.9,746.8 L285.9,746.0 L286.9,743.5 L287.9,748.0 L288.9,746.8 L289.9,746.7 L290.9,749.5 L291.9,746.1 L292.9,758.5 L293.9,755.7 L294.9,760.0 L295.9,758.5 L296.9,753.1 L297.9,763.8 L298.9,761.3 L299.9,759.9 L300.9,762.3 L301.9,761.6 L302.9,768.5 L303.9,764.1 L304.9,769.6 L305.9,771.3 L306.9,768.6 L307.9,769.7 L308.9,772.9 L309.9,773.6 L310.9,772.8 L311.9,773.0 L312.9,774.0 L313.9,776.4 L314.9,779.7 L315.9,773.8 L316.9,776.8 L317.9,780.1 L318.9,781.5 L319.9,780.6 L320.9,780.7 L321.9,784.0 L322.9,778.5 L323.9,780.4 L324.9,782.0 L325.9,781.4 L326.9,782.1 L327.9,781.4 L328.9,783.3 L329.9,782.3 L330.9,782.4 L331.9,785.4 L332.9,786.0 L333.9,786.8 L334.9,786.1 L335.9,787.0 L336.9,786.3 L337.9,786.2 L338.9,786.2 L339.9,788.6 L340.9,786.3 L341.9,788.3 L342.9,788.3 L343.9,789.1 L344.9,790.9 L345.9,788.7 L346.9,790.9 L347.9,788.0 L348.9,789.2 L349.9,787.7 L350.9,788.8 L351.9,788.8 L352.9,788.3 L353.9,789.8 L354.9,788.4 L355.9,790.1 L356.9,789.8 L357.9,790.8 L358.9,789.7 L359.9,789.7 L360.9,790.8 L361.9,791.5 L362.9,790.4 L363.9,790.1 L364.9,790.7 L365.9,791.4 L366.9,791.3 L367.9,791.0 L368.9,792.0 L369.9,791.4 L370.9,789.8 L371.9,792.0 L372.9,791.3 L373.9,790.0 L374.9,790.8 L375.9,790.7 L376.9,791.6 L377.9,792.0 L378.9,789.6 L379.9,791.5 L380.9,791.6 L381.9,790.7 L382.9,791.3 L383.9,791.8 L384.9,792.0 L385.9,791.9 L386.9,791.9 L387.9,792.0 L388.9,792.0 L389.9,792.0 L390.9,791.9 L391.9,792.0 L392.9,791.6 L393.9,791.2 L394.9,791.7 L395.9,791.9 L396.9,790.9 L397.9,791.5 L398.9,792.0 L399.9,792.0 L400.9,791.8 L401.9,792.0 L402.9,791.5 L403.9,792.0 L404.9,792.0 L405.9,791.4 L406.9,791.7 L407.9,792.0 L408.9,792.0 L409.9,791.3 L410.9,792.0 L411.9,792.0 L412.9,792.0 L413.9,792.0 L414.9,792.0 L415.9,792.0 L416.9,792.0 L417.9,792.0 L418.9,790.9 L419.9,792.0 L420.9,791.7 L421.9,791.5 L422.9,792.0 L423.9,792.0 L424.9,792.0 L425.9,792.0 L426.9,791.8 L427.9,792.0 L428.9,792.0 L429.9,792.0 L430.9,792.0 L431.9,792.0 L432.9,791.2 L433.0,792.2 Z" fill="#cacaca" />
<line x1="182.7" y1="792.2" x2="182.7" y2="776.6" stroke="#555" stroke-width="1.6" />
<path d="M181.9,767.8 L182.9,767.4 L183.9,753.9 L184.9,756.0 L185.9,752.1 L186.9,745.4 L187.9,743.5 L188.9,735.8 L189.9,722.0 L190.9,717.5 L191.9,707.7 L192.9,702.1 L193.9,698.1 L194.9,689.9 L195.9,684.6 L196.9,683.6 L197.9,669.7 L198.9,664.9 L199.9,656.0 L200.9,664.2 L201.9,662.7 L202.9,660.7 L203.9,661.3 L204.9,669.4 L205.9,662.3 L206.9,676.6 L207.9,674.8 L208.9,684.3 L209.9,692.5 L210.9,706.1 L211.9,711.6 L212.9,708.5 L213.9,725.2 L214.9,726.9 L215.9,734.4 L216.9,743.4 L217.9,746.1 L218.9,753.1 L219.9,762.3 L220.9,766.3 L221.9,768.6 L222.9,775.7 L223.9,776.2 L224.9,779.8 L225.9,783.4 L226.9,783.3 L227.9,786.3 L228.9,785.1 L229.9,786.1 L230.9,787.6 L231.9,788.4 L232.9,786.8 L233.9,788.6 L234.9,787.4 L235.9,790.0 L236.9,789.6 L237.9,790.2 L238.9,790.8 L239.9,787.3 L240.9,788.1 L241.9,790.1 L242.9,788.7 L243.9,791.0 L244.9,787.9 L245.9,787.9 L246.9,789.1 L247.9,789.0 L248.9,788.3 L249.9,787.9 L250.9,788.7 L251.9,789.3 L252.9,788.8 L253.9,789.2 L254.9,788.3 L255.9,789.2 L256.9,789.4 L257.9,791.4 L258.9,790.6 L259.9,790.9 L260.9,791.2 L261.9,791.2 L262.9,791.5 L263.9,792.0 L264.9,790.8 L265.9,790.8 L266.9,791.8 L267.9,791.0 L268.9,792.0 L269.9,792.0 L270.9,791.6 L271.9,790.4 L272.9,791.5 L273.9,792.0 L274.9,791.3 L275.9,791.8 L276.9,791.9 L277.9,791.2 L278.9,792.0 L279.9,792.0 L280.9,792.0 L281.9,790.7 L282.9,791.4 L283.9,791.8 L284.9,791.9 L285.9,791.0 L286.9,790.6 L287.9,791.9 L288.9,791.3 L289.9,789.8 L290.9,791.0 L291.9,791.7 L292.9,791.2 L293.9,791.4 L294.9,791.0 L295.9,791.2 L296.9,791.8 L297.9,791.5 L298.9,791.2 L299.9,791.9 L300.9,791.4 L301.9,792.0 L302.9,790.6 L303.9,790.4 L304.9,792.0 L305.9,790.9 L306.9,791.4 L307.9,791.4 L308.9,791.6 L309.9,791.3 L310.9,790.8 L311.9,792.0 L312.9,790.8 L313.9,791.7 L314.9,792.0 L315.9,791.5 L316.9,791.1 L317.9,791.6 L318.9,791.3 L319.9,791.7 L320.9,791.9 L321.9,790.8 L322.9,792.0 L323.9,790.8 L324.9,791.3 L325.9,791.7 L326.9,791.7 L327.9,791.7 L328.9,791.5 L329.9,791.6 L330.9,791.6 L331.9,792.0 L332.9,792.0 L333.9,791.3 L334.9,792.0 L335.9,791.9 L336.9,791.7 L337.9,792.0 L338.9,790.5 L339.9,791.6 L340.9,791.7 L341.9,792.0 L342.9,791.0 L343.9,791.1 L344.9,790.6 L345.9,791.0 L346.9,792.0 L347.9,792.0 L348.9,790.7 L349.9,792.0 L350.9,791.7 L351.9,791.7 L352.9,791.3 L353.9,791.2 L354.9,792.0 L355.9,792.0 L356.9,792.0 L357.9,791.3 L358.9,791.7 L359.9,792.0 L360.9,791.0 L361.9,791.6 L362.9,792.0 L363.9,791.9 L364.9,792.0 L365.9,791.6 L366.9,791.5 L367.9,792.0 L368.9,791.4 L369.9,792.0 L370.9,791.9 L371.9,791.2 L372.9,791.1 L373.9,791.2 L374.9,792.0 L375.9,792.0 L376.9,791.9 L377.9,790.3 L378.9,791.5 L379.9,792.0 L380.9,792.0 L381.9,791.6 L382.9,792.0 L383.9,791.4 L384.9,791.6 L385.9,792.0 L386.9,791.8 L387.9,791.2 L388.9,792.0 L389.9,792.0 L390.9,792.0 L391.9,792.0 L392.9,790.4 L393.9,790.9 L394.9,792.0 L395.9,790.9 L396.9,792.0 L397.9,792.0 L398.9,792.0 L399.9,791.8 L400.9,791.3 L401.9,790.5 L402.9,791.3 L403.9,791.8 L404.9,791.6 L405.9,791.9 L406.9,791.5 L407.9,792.0 L408.9,791.6 L409.9,791.5 L410.9,791.2 L411.9,792.0 L412.9,791.5 L413.9,791.6 L414.9,792.0 L415.9,792.0 L416.9,792.0 L417.9,791.2 L418.9,791.9 L419.9,790.4 L420.9,791.4 L421.9,792.0 L422.9,791.8 L423.9,791.5 L424.9,791.5 L425.9,791.9 L426.9,791.5 L427.9,790.0 L428.9,791.2 L429.9,791.7 L430.9,792.0 L431.9,792.0 L432.9,791.7" fill="none" stroke="#6a6a6a" stroke-width="1.25" stroke-dasharray="5 3" stroke-linejoin="round"/>
<path d="M181.9,787.1 L182.9,790.1 L183.9,788.8 L184.9,789.3 L185.9,789.8 L186.9,789.4 L187.9,789.2 L188.9,788.7 L189.9,788.0 L190.9,787.2 L191.9,787.8 L192.9,786.7 L193.9,787.2 L194.9,787.3 L195.9,787.5 L196.9,788.1 L197.9,788.6 L198.9,786.7 L199.9,786.7 L200.9,785.9 L201.9,785.8 L202.9,787.5 L203.9,786.7 L204.9,787.1 L205.9,784.5 L206.9,785.6 L207.9,785.0 L208.9,785.9 L209.9,786.1 L210.9,784.9 L211.9,783.9 L212.9,782.8 L213.9,785.1 L214.9,782.3 L215.9,783.6 L216.9,783.0 L217.9,782.5 L218.9,782.3 L219.9,780.7 L220.9,779.5 L221.9,779.7 L222.9,780.4 L223.9,778.4 L224.9,777.8 L225.9,776.4 L226.9,776.8 L227.9,779.3 L228.9,777.5 L229.9,776.7 L230.9,774.2 L231.9,775.6 L232.9,773.3 L233.9,773.8 L234.9,775.8 L235.9,773.0 L236.9,771.5 L237.9,771.1 L238.9,774.0 L239.9,770.0 L240.9,771.4 L241.9,773.8 L242.9,770.7 L243.9,772.7 L244.9,770.7 L245.9,764.7 L246.9,761.6 L247.9,763.3 L248.9,763.4 L249.9,759.3 L250.9,761.5 L251.9,763.4 L252.9,765.8 L253.9,758.0 L254.9,764.4 L255.9,765.3 L256.9,760.0 L257.9,757.9 L258.9,759.3 L259.9,754.3 L260.9,756.0 L261.9,754.6 L262.9,753.3 L263.9,755.1 L264.9,752.6 L265.9,747.2 L266.9,754.5 L267.9,751.7 L268.9,750.7 L269.9,753.1 L270.9,751.7 L271.9,755.4 L272.9,752.1 L273.9,750.7 L274.9,747.9 L275.9,748.1 L276.9,751.5 L277.9,752.6 L278.9,745.4 L279.9,747.5 L280.9,753.9 L281.9,749.6 L282.9,750.4 L283.9,749.0 L284.9,751.2 L285.9,747.5 L286.9,747.3 L287.9,747.0 L288.9,744.5 L289.9,747.5 L290.9,752.1 L291.9,754.4 L292.9,752.4 L293.9,749.1 L294.9,750.2 L295.9,754.7 L296.9,752.0 L297.9,755.3 L298.9,759.3 L299.9,758.6 L300.9,761.1 L301.9,764.2 L302.9,763.4 L303.9,763.1 L304.9,761.9 L305.9,767.9 L306.9,766.7 L307.9,768.2 L308.9,769.3 L309.9,772.1 L310.9,767.8 L311.9,768.4 L312.9,768.5 L313.9,771.4 L314.9,770.4 L315.9,773.0 L316.9,773.1 L317.9,776.2 L318.9,776.0 L319.9,777.6 L320.9,779.3 L321.9,778.8 L322.9,780.2 L323.9,780.5 L324.9,779.9 L325.9,780.8 L326.9,777.5 L327.9,778.6 L328.9,780.3 L329.9,781.4 L330.9,784.3 L331.9,783.3 L332.9,786.0 L333.9,785.2 L334.9,785.1 L335.9,785.0 L336.9,783.4 L337.9,785.5 L338.9,781.5 L339.9,785.2 L340.9,783.4 L341.9,786.5 L342.9,783.4 L343.9,786.1 L344.9,784.3 L345.9,784.5 L346.9,783.5 L347.9,783.7 L348.9,784.0 L349.9,784.6 L350.9,781.8 L351.9,784.8 L352.9,784.0 L353.9,784.5 L354.9,783.5 L355.9,784.7 L356.9,783.8 L357.9,782.4 L358.9,783.6 L359.9,782.0 L360.9,783.3 L361.9,780.4 L362.9,782.4 L363.9,779.7 L364.9,781.2 L365.9,781.8 L366.9,779.8 L367.9,778.9 L368.9,777.8 L369.9,777.4 L370.9,777.5 L371.9,780.1 L372.9,776.1 L373.9,777.1 L374.9,775.7 L375.9,773.7 L376.9,776.6 L377.9,772.7 L378.9,770.5 L379.9,773.2 L380.9,774.0 L381.9,770.1 L382.9,771.2 L383.9,768.4 L384.9,766.7 L385.9,770.8 L386.9,765.9 L387.9,768.5 L388.9,765.7 L389.9,762.1 L390.9,765.1 L391.9,763.6 L392.9,763.7 L393.9,763.1 L394.9,764.2 L395.9,765.4 L396.9,768.5 L397.9,770.0 L398.9,768.6 L399.9,771.6 L400.9,772.2 L401.9,770.4 L402.9,774.2 L403.9,775.6 L404.9,773.4 L405.9,776.6 L406.9,781.2 L407.9,779.7 L408.9,776.3 L409.9,775.5 L410.9,780.6 L411.9,779.8 L412.9,780.5 L413.9,781.8 L414.9,785.5 L415.9,782.5 L416.9,784.2 L417.9,785.4 L418.9,787.5 L419.9,786.6 L420.9,786.3 L421.9,786.8 L422.9,786.7 L423.9,787.8 L424.9,786.8 L425.9,787.6 L426.9,789.8 L427.9,789.6 L428.9,788.9 L429.9,790.0 L430.9,788.7 L431.9,790.7 L432.9,790.4" fill="none" stroke="#333" stroke-width="1.0" stroke-linejoin="round"/>
</g>
<rect x="180.9" y="634.9" width="253.1" height="157.3" fill="none" stroke="#000" stroke-width="1.8" />
<line x1="173.9" y1="792.2" x2="180.9" y2="792.2" stroke="#000" stroke-width="1.5" />
<text x="161.98" y="797.90" font-size="16.52" textLength="9.65" lengthAdjust="spacingAndGlyphs" >0</text>
<line x1="177.1" y1="786.0" x2="181.4" y2="786.0" stroke="#000" stroke-width="1.2" />
<line x1="177.1" y1="779.7" x2="181.4" y2="779.7" stroke="#000" stroke-width="1.2" />
<line x1="177.1" y1="773.5" x2="181.4" y2="773.5" stroke="#000" stroke-width="1.2" />
<line x1="177.1" y1="767.3" x2="181.4" y2="767.3" stroke="#000" stroke-width="1.2" />
<line x1="173.9" y1="761.0" x2="180.9" y2="761.0" stroke="#000" stroke-width="1.5" />
<text x="152.35" y="766.74" font-size="16.52" textLength="19.30" lengthAdjust="spacingAndGlyphs" >40</text>
<line x1="177.1" y1="754.8" x2="181.4" y2="754.8" stroke="#000" stroke-width="1.2" />
<line x1="177.1" y1="748.6" x2="181.4" y2="748.6" stroke="#000" stroke-width="1.2" />
<line x1="177.1" y1="742.3" x2="181.4" y2="742.3" stroke="#000" stroke-width="1.2" />
<line x1="177.1" y1="736.1" x2="181.4" y2="736.1" stroke="#000" stroke-width="1.2" />
<line x1="173.9" y1="729.9" x2="180.9" y2="729.9" stroke="#000" stroke-width="1.5" />
<text x="152.35" y="735.58" font-size="16.52" textLength="19.30" lengthAdjust="spacingAndGlyphs" >80</text>
<line x1="177.1" y1="723.6" x2="181.4" y2="723.6" stroke="#000" stroke-width="1.2" />
<line x1="177.1" y1="717.4" x2="181.4" y2="717.4" stroke="#000" stroke-width="1.2" />
<line x1="177.1" y1="711.2" x2="181.4" y2="711.2" stroke="#000" stroke-width="1.2" />
<line x1="177.1" y1="705.0" x2="181.4" y2="705.0" stroke="#000" stroke-width="1.2" />
<line x1="173.9" y1="698.7" x2="180.9" y2="698.7" stroke="#000" stroke-width="1.5" />
<text x="142.72" y="704.42" font-size="16.52" textLength="28.95" lengthAdjust="spacingAndGlyphs" >120</text>
<line x1="177.1" y1="692.5" x2="181.4" y2="692.5" stroke="#000" stroke-width="1.2" />
<line x1="177.1" y1="686.3" x2="181.4" y2="686.3" stroke="#000" stroke-width="1.2" />
<line x1="177.1" y1="680.0" x2="181.4" y2="680.0" stroke="#000" stroke-width="1.2" />
<line x1="177.1" y1="673.8" x2="181.4" y2="673.8" stroke="#000" stroke-width="1.2" />
<line x1="173.9" y1="667.6" x2="180.9" y2="667.6" stroke="#000" stroke-width="1.5" />
<text x="142.72" y="673.26" font-size="16.52" textLength="28.95" lengthAdjust="spacingAndGlyphs" >160</text>
<line x1="177.1" y1="661.3" x2="181.4" y2="661.3" stroke="#000" stroke-width="1.2" />
<line x1="177.1" y1="655.1" x2="181.4" y2="655.1" stroke="#000" stroke-width="1.2" />
<line x1="177.1" y1="648.9" x2="181.4" y2="648.9" stroke="#000" stroke-width="1.2" />
<line x1="177.1" y1="642.6" x2="181.4" y2="642.6" stroke="#000" stroke-width="1.2" />
<line x1="173.9" y1="636.4" x2="180.9" y2="636.4" stroke="#000" stroke-width="1.5" />
<text x="142.72" y="642.10" font-size="16.52" textLength="28.95" lengthAdjust="spacingAndGlyphs" >200</text>
<line x1="182.4" y1="792.2" x2="182.4" y2="798.2" stroke="#000" stroke-width="1.5" />
<line x1="201.3" y1="792.2" x2="201.3" y2="795.6" stroke="#000" stroke-width="1.2" />
<line x1="212.3" y1="792.2" x2="212.3" y2="795.6" stroke="#000" stroke-width="1.2" />
<line x1="220.1" y1="792.2" x2="220.1" y2="795.6" stroke="#000" stroke-width="1.2" />
<line x1="226.2" y1="792.2" x2="226.2" y2="795.6" stroke="#000" stroke-width="1.2" />
<line x1="231.2" y1="792.2" x2="231.2" y2="795.6" stroke="#000" stroke-width="1.2" />
<line x1="235.4" y1="792.2" x2="235.4" y2="795.6" stroke="#000" stroke-width="1.2" />
<line x1="239.0" y1="792.2" x2="239.0" y2="795.6" stroke="#000" stroke-width="1.2" />
<line x1="242.2" y1="792.2" x2="242.2" y2="795.6" stroke="#000" stroke-width="1.2" />
<text x="169.15" y="818.40" font-size="17.39" textLength="19.35" lengthAdjust="spacingAndGlyphs" >10</text>
<text x="188.17" y="813.10" font-size="11.88" textLength="6.61" lengthAdjust="spacingAndGlyphs" >0</text>
<line x1="245.1" y1="792.2" x2="245.1" y2="798.2" stroke="#000" stroke-width="1.5" />
<line x1="264.0" y1="792.2" x2="264.0" y2="795.6" stroke="#000" stroke-width="1.2" />
<line x1="275.0" y1="792.2" x2="275.0" y2="795.6" stroke="#000" stroke-width="1.2" />
<line x1="282.8" y1="792.2" x2="282.8" y2="795.6" stroke="#000" stroke-width="1.2" />
<line x1="288.9" y1="792.2" x2="288.9" y2="795.6" stroke="#000" stroke-width="1.2" />
<line x1="293.9" y1="792.2" x2="293.9" y2="795.6" stroke="#000" stroke-width="1.2" />
<line x1="298.1" y1="792.2" x2="298.1" y2="795.6" stroke="#000" stroke-width="1.2" />
<line x1="301.7" y1="792.2" x2="301.7" y2="795.6" stroke="#000" stroke-width="1.2" />
<line x1="304.9" y1="792.2" x2="304.9" y2="795.6" stroke="#000" stroke-width="1.2" />
<text x="232.12" y="818.40" font-size="17.39" textLength="19.35" lengthAdjust="spacingAndGlyphs" >10</text>
<text x="250.72" y="813.10" font-size="11.88" textLength="6.61" lengthAdjust="spacingAndGlyphs" >1</text>
<line x1="307.8" y1="792.2" x2="307.8" y2="798.2" stroke="#000" stroke-width="1.5" />
<line x1="326.7" y1="792.2" x2="326.7" y2="795.6" stroke="#000" stroke-width="1.2" />
<line x1="337.7" y1="792.2" x2="337.7" y2="795.6" stroke="#000" stroke-width="1.2" />
<line x1="345.5" y1="792.2" x2="345.5" y2="795.6" stroke="#000" stroke-width="1.2" />
<line x1="351.6" y1="792.2" x2="351.6" y2="795.6" stroke="#000" stroke-width="1.2" />
<line x1="356.6" y1="792.2" x2="356.6" y2="795.6" stroke="#000" stroke-width="1.2" />
<line x1="360.8" y1="792.2" x2="360.8" y2="795.6" stroke="#000" stroke-width="1.2" />
<line x1="364.4" y1="792.2" x2="364.4" y2="795.6" stroke="#000" stroke-width="1.2" />
<line x1="367.6" y1="792.2" x2="367.6" y2="795.6" stroke="#000" stroke-width="1.2" />
<text x="294.70" y="818.40" font-size="17.39" textLength="19.35" lengthAdjust="spacingAndGlyphs" >10</text>
<text x="313.60" y="813.10" font-size="11.88" textLength="6.61" lengthAdjust="spacingAndGlyphs" >2</text>
<line x1="370.5" y1="792.2" x2="370.5" y2="798.2" stroke="#000" stroke-width="1.5" />
<line x1="389.4" y1="792.2" x2="389.4" y2="795.6" stroke="#000" stroke-width="1.2" />
<line x1="400.4" y1="792.2" x2="400.4" y2="795.6" stroke="#000" stroke-width="1.2" />
<line x1="408.2" y1="792.2" x2="408.2" y2="795.6" stroke="#000" stroke-width="1.2" />
<line x1="414.3" y1="792.2" x2="414.3" y2="795.6" stroke="#000" stroke-width="1.2" />
<line x1="419.3" y1="792.2" x2="419.3" y2="795.6" stroke="#000" stroke-width="1.2" />
<line x1="423.5" y1="792.2" x2="423.5" y2="795.6" stroke="#000" stroke-width="1.2" />
<line x1="427.1" y1="792.2" x2="427.1" y2="795.6" stroke="#000" stroke-width="1.2" />
<line x1="430.3" y1="792.2" x2="430.3" y2="795.6" stroke="#000" stroke-width="1.2" />
<text x="357.28" y="818.40" font-size="17.39" textLength="19.35" lengthAdjust="spacingAndGlyphs" >10</text>
<text x="376.30" y="813.10" font-size="11.88" textLength="6.61" lengthAdjust="spacingAndGlyphs" >3</text>
<line x1="433.2" y1="792.2" x2="433.2" y2="798.2" stroke="#000" stroke-width="1.5" />
<text x="419.80" y="818.40" font-size="17.39" textLength="19.35" lengthAdjust="spacingAndGlyphs" >10</text>
<text x="439.06" y="813.10" font-size="11.88" textLength="6.61" lengthAdjust="spacingAndGlyphs" >4</text>
<text x="273.21" y="659.50" font-size="19.86" textLength="67.18" lengthAdjust="spacingAndGlyphs" >HeLa/N</text>
<text x="529.90" y="429.90" font-size="39.13" textLength="25.25" lengthAdjust="spacingAndGlyphs" font-weight="bold" fill="#000" >C</text>
<line x1="632.6" y1="832.6" x2="632.6" y2="430.0" stroke="#000" stroke-width="1.8" />
<path d="M625.9,441.4 L632.6,429.5 L639.3,441.4" fill="none" stroke="#000" stroke-width="1.8" stroke-linecap="round" stroke-linejoin="miter"/>
<line x1="631.7" y1="832.6" x2="948.0" y2="832.6" stroke="#000" stroke-width="1.8" />
<path d="M936.9,826.1 L948.5,832.6 L936.9,839.1" fill="none" stroke="#000" stroke-width="1.8" stroke-linecap="round" stroke-linejoin="miter"/>
<text x="581.10" y="620.50" font-size="22.90" textLength="72.61" lengthAdjust="spacingAndGlyphs" transform="rotate(-90 617.60 620.50)" >Counts</text>
<text x="756.44" y="863.80" font-size="21.30" textLength="69.60" lengthAdjust="spacingAndGlyphs" >CLDN7</text>
<g clip-path="url(#hc3)">
<path d="M690.1,592.3 L690.1,589.6 L691.1,589.9 L692.1,590.6 L693.1,589.2 L694.1,589.5 L695.1,589.3 L696.1,589.3 L697.1,588.1 L698.1,588.5 L699.1,588.1 L700.1,589.1 L701.1,589.0 L702.1,589.3 L703.1,588.5 L704.1,590.4 L705.1,586.7 L706.1,587.8 L707.1,587.7 L708.1,586.9 L709.1,587.8 L710.1,587.2 L711.1,586.7 L712.1,588.6 L713.1,585.5 L714.1,586.7 L715.1,585.9 L716.1,587.1 L717.1,586.3 L718.1,583.7 L719.1,585.4 L720.1,584.8 L721.1,583.4 L722.1,582.0 L723.1,585.6 L724.1,580.9 L725.1,581.8 L726.1,580.7 L727.1,582.5 L728.1,580.6 L729.1,578.8 L730.1,580.5 L731.1,580.9 L732.1,580.1 L733.1,579.4 L734.1,576.6 L735.1,576.2 L736.1,575.8 L737.1,572.8 L738.1,574.3 L739.1,573.8 L740.1,567.3 L741.1,571.0 L742.1,565.7 L743.1,565.9 L744.1,563.2 L745.1,558.9 L746.1,558.7 L747.1,556.6 L748.1,553.8 L749.1,551.2 L750.1,544.9 L751.1,537.4 L752.1,539.0 L753.1,533.6 L754.1,526.0 L755.1,523.9 L756.1,519.3 L757.1,519.1 L758.1,510.5 L759.1,507.9 L760.1,509.4 L761.1,499.8 L762.1,500.0 L763.1,488.4 L764.1,487.0 L765.1,484.2 L766.1,475.1 L767.1,474.4 L768.1,475.9 L769.1,476.5 L770.1,481.0 L771.1,476.0 L772.1,479.2 L773.1,484.9 L774.1,488.3 L775.1,484.2 L776.1,487.1 L777.1,489.5 L778.1,500.6 L779.1,503.8 L780.1,503.9 L781.1,510.1 L782.1,513.7 L783.1,518.1 L784.1,526.2 L785.1,534.4 L786.1,535.3 L787.1,543.6 L788.1,546.8 L789.1,555.4 L790.1,553.6 L791.1,557.6 L792.1,562.9 L793.1,564.3 L794.1,566.3 L795.1,567.6 L796.1,568.0 L797.1,570.2 L798.1,572.5 L799.1,575.5 L800.1,577.2 L801.1,577.2 L802.1,577.9 L803.1,579.7 L804.1,578.9 L805.1,578.9 L806.1,581.1 L807.1,582.5 L808.1,581.1 L809.1,583.1 L810.1,584.2 L811.1,582.7 L812.1,584.0 L813.1,581.9 L814.1,582.8 L815.1,582.0 L816.1,580.7 L817.1,580.6 L818.1,581.8 L819.1,584.2 L820.1,582.0 L821.1,582.8 L822.1,580.4 L823.1,579.8 L824.1,581.2 L825.1,581.6 L826.1,582.2 L827.1,582.5 L828.1,584.1 L829.1,583.3 L830.1,584.9 L831.1,586.0 L832.1,585.0 L833.1,583.6 L834.1,585.5 L835.1,587.2 L836.1,584.6 L837.1,585.8 L838.1,585.7 L839.1,586.9 L840.1,586.3 L841.1,585.5 L842.1,587.7 L843.1,586.6 L844.1,587.0 L845.1,588.2 L846.1,587.5 L847.1,587.4 L848.1,588.9 L849.1,587.5 L850.1,589.6 L851.1,588.1 L852.1,588.8 L853.1,589.3 L854.1,590.3 L855.1,590.4 L856.1,591.5 L857.1,590.0 L858.1,590.1 L859.1,589.6 L860.1,589.3 L861.1,589.9 L862.1,590.2 L863.1,589.4 L864.1,590.0 L865.1,590.1 L866.1,590.9 L867.1,589.4 L868.1,590.5 L869.1,588.8 L870.1,590.7 L871.1,590.5 L872.1,590.1 L873.1,590.6 L874.1,591.2 L875.1,591.0 L876.1,590.8 L877.1,590.4 L878.1,589.6 L879.1,589.8 L880.1,590.1 L881.1,589.8 L882.1,591.8 L883.1,590.8 L884.1,590.7 L885.1,591.1 L886.1,590.1 L887.1,590.9 L888.1,591.2 L889.1,589.9 L890.1,590.9 L891.1,590.7 L892.1,591.5 L893.1,590.0 L894.1,590.6 L895.1,589.7 L896.1,589.3 L897.1,590.2 L898.1,590.9 L899.1,591.2 L900.1,589.7 L901.1,590.9 L902.1,590.4 L903.1,590.6 L904.1,592.1 L905.1,590.7 L906.1,590.8 L907.1,590.8 L908.1,591.0 L909.1,590.8 L910.1,591.5 L911.1,590.6 L912.1,591.3 L913.1,590.9 L914.1,590.1 L915.1,590.9 L916.1,591.7 L917.1,590.9 L918.1,591.9 L919.1,591.0 L920.1,590.4 L921.1,591.8 L922.1,591.3 L923.1,591.7 L924.1,591.1 L925.1,591.1 L926.1,591.2 L927.1,591.4 L928.1,592.1 L929.1,591.8 L930.1,591.6 L931.1,590.9 L932.1,592.1 L933.1,590.8 L934.1,591.8 L935.1,592.1 L936.1,590.6 L936.7,592.3 Z" fill="#cacaca" />
<line x1="692.1" y1="592.3" x2="692.1" y2="477.8" stroke="#444" stroke-width="2.4" />
<line x1="694.3" y1="592.3" x2="694.3" y2="532.3" stroke="#666" stroke-width="1.6" />
<path d="M690.1,589.4 L691.1,589.7 L692.1,590.5 L693.1,588.0 L694.1,591.1 L695.1,589.5 L696.1,588.6 L697.1,588.7 L698.1,588.5 L699.1,590.0 L700.1,587.0 L701.1,589.4 L702.1,588.6 L703.1,588.3 L704.1,588.2 L705.1,588.6 L706.1,586.2 L707.1,587.7 L708.1,586.5 L709.1,589.2 L710.1,586.8 L711.1,587.6 L712.1,586.8 L713.1,586.8 L714.1,586.2 L715.1,586.5 L716.1,586.0 L717.1,585.5 L718.1,584.9 L719.1,584.7 L720.1,584.7 L721.1,583.2 L722.1,584.4 L723.1,579.9 L724.1,581.0 L725.1,579.6 L726.1,581.5 L727.1,582.9 L728.1,582.9 L729.1,581.5 L730.1,581.0 L731.1,580.4 L732.1,579.6 L733.1,577.0 L734.1,580.6 L735.1,572.4 L736.1,574.4 L737.1,572.2 L738.1,574.7 L739.1,570.1 L740.1,572.0 L741.1,566.0 L742.1,563.6 L743.1,560.7 L744.1,558.5 L745.1,556.2 L746.1,554.5 L747.1,549.5 L748.1,548.3 L749.1,543.7 L750.1,533.1 L751.1,534.7 L752.1,533.4 L753.1,534.0 L754.1,532.4 L755.1,521.4 L756.1,514.5 L757.1,515.7 L758.1,511.8 L759.1,505.7 L760.1,501.4 L761.1,493.9 L762.1,492.2 L763.1,489.3 L764.1,481.0 L765.1,485.7 L766.1,485.6 L767.1,482.1 L768.1,477.6 L769.1,478.5 L770.1,478.0 L771.1,479.2 L772.1,471.9 L773.1,480.8 L774.1,491.8 L775.1,489.9 L776.1,486.6 L777.1,496.0 L778.1,491.5 L779.1,504.5 L780.1,508.1 L781.1,511.9 L782.1,519.1 L783.1,521.6 L784.1,527.2 L785.1,530.4 L786.1,539.7 L787.1,551.8 L788.1,549.1 L789.1,548.9 L790.1,558.6 L791.1,562.0 L792.1,563.4 L793.1,569.3 L794.1,569.4 L795.1,571.5 L796.1,571.9 L797.1,575.3 L798.1,573.8 L799.1,578.8 L800.1,580.6 L801.1,582.9 L802.1,580.9 L803.1,582.9 L804.1,581.0 L805.1,581.7 L806.1,579.3 L807.1,584.5 L808.1,583.7 L809.1,582.9 L810.1,587.1 L811.1,583.6 L812.1,581.8 L813.1,584.0 L814.1,583.9 L815.1,581.9 L816.1,583.0 L817.1,582.7 L818.1,581.7 L819.1,583.7 L820.1,579.7 L821.1,582.8 L822.1,582.2 L823.1,583.0 L824.1,586.4 L825.1,585.4 L826.1,584.2 L827.1,584.3 L828.1,583.3 L829.1,581.9 L830.1,584.7 L831.1,586.1 L832.1,586.9 L833.1,584.6 L834.1,587.2 L835.1,586.7 L836.1,585.3 L837.1,587.2 L838.1,587.5 L839.1,587.4 L840.1,589.6 L841.1,588.1 L842.1,588.0 L843.1,588.0 L844.1,588.8 L845.1,590.7 L846.1,589.5 L847.1,588.1 L848.1,589.8 L849.1,590.1 L850.1,589.0 L851.1,589.2 L852.1,589.7 L853.1,589.5 L854.1,589.5 L855.1,589.9 L856.1,590.1 L857.1,588.8 L858.1,591.3 L859.1,588.5 L860.1,590.1 L861.1,591.0 L862.1,589.8 L863.1,589.5 L864.1,591.4 L865.1,590.3 L866.1,589.7 L867.1,589.8 L868.1,590.4 L869.1,591.3 L870.1,590.5 L871.1,588.7 L872.1,591.3 L873.1,588.0 L874.1,590.6 L875.1,590.6 L876.1,591.0 L877.1,590.4 L878.1,590.4 L879.1,591.4 L880.1,589.0 L881.1,589.6 L882.1,590.3 L883.1,591.7 L884.1,591.0 L885.1,590.8 L886.1,590.1 L887.1,590.8 L888.1,591.6 L889.1,590.9 L890.1,590.9 L891.1,590.8 L892.1,590.1 L893.1,591.4 L894.1,592.0 L895.1,589.9 L896.1,590.1 L897.1,591.8 L898.1,590.3 L899.1,591.3 L900.1,590.4 L901.1,590.5 L902.1,592.0 L903.1,591.8 L904.1,591.1 L905.1,592.0 L906.1,591.9 L907.1,591.7 L908.1,591.2 L909.1,591.1 L910.1,591.7 L911.1,591.3 L912.1,590.2 L913.1,590.7 L914.1,590.9 L915.1,591.7 L916.1,591.7 L917.1,592.1 L918.1,591.8 L919.1,592.1 L920.1,591.4 L921.1,591.5 L922.1,591.8 L923.1,591.7 L924.1,592.1 L925.1,590.8 L926.1,590.9 L927.1,590.5 L928.1,591.1 L929.1,591.5 L930.1,590.8 L931.1,592.1 L932.1,592.1 L933.1,590.8 L934.1,591.1 L935.1,591.3 L936.1,590.5" fill="none" stroke="#6a6a6a" stroke-width="1.25" stroke-dasharray="5 3" stroke-linejoin="round"/>
<path d="M690.1,588.2 L691.1,587.9 L692.1,587.4 L693.1,587.9 L694.1,588.1 L695.1,588.3 L696.1,587.2 L697.1,587.6 L698.1,587.7 L699.1,587.9 L700.1,588.5 L701.1,587.3 L702.1,587.7 L703.1,587.2 L704.1,586.3 L705.1,587.1 L706.1,586.9 L707.1,586.2 L708.1,586.7 L709.1,586.4 L710.1,586.9 L711.1,586.6 L712.1,586.8 L713.1,585.3 L714.1,585.0 L715.1,585.7 L716.1,585.4 L717.1,585.3 L718.1,583.5 L719.1,584.2 L720.1,584.7 L721.1,584.0 L722.1,583.5 L723.1,584.6 L724.1,583.6 L725.1,583.4 L726.1,583.6 L727.1,583.0 L728.1,582.6 L729.1,583.2 L730.1,583.3 L731.1,582.4 L732.1,582.8 L733.1,582.5 L734.1,581.5 L735.1,582.4 L736.1,582.5 L737.1,583.1 L738.1,581.8 L739.1,581.5 L740.1,581.0 L741.1,580.6 L742.1,580.1 L743.1,580.0 L744.1,579.6 L745.1,578.9 L746.1,579.4 L747.1,579.2 L748.1,578.9 L749.1,577.9 L750.1,579.0 L751.1,577.6 L752.1,576.5 L753.1,574.9 L754.1,574.7 L755.1,572.6 L756.1,571.5 L757.1,571.2 L758.1,569.6 L759.1,567.7 L760.1,565.8 L761.1,562.2 L762.1,559.8 L763.1,554.5 L764.1,554.6 L765.1,553.5 L766.1,551.9 L767.1,547.1 L768.1,542.9 L769.1,539.5 L770.1,537.8 L771.1,534.8 L772.1,533.2 L773.1,529.8 L774.1,528.7 L775.1,524.9 L776.1,519.4 L777.1,521.6 L778.1,517.2 L779.1,515.4 L780.1,515.4 L781.1,508.9 L782.1,507.5 L783.1,504.0 L784.1,502.6 L785.1,501.4 L786.1,504.4 L787.1,504.3 L788.1,505.3 L789.1,505.5 L790.1,501.7 L791.1,505.9 L792.1,508.8 L793.1,506.2 L794.1,505.4 L795.1,510.3 L796.1,511.3 L797.1,516.1 L798.1,520.1 L799.1,520.5 L800.1,523.9 L801.1,525.4 L802.1,526.1 L803.1,528.6 L804.1,532.7 L805.1,534.3 L806.1,539.5 L807.1,541.4 L808.1,541.6 L809.1,542.2 L810.1,545.3 L811.1,549.8 L812.1,554.0 L813.1,558.6 L814.1,558.3 L815.1,561.3 L816.1,560.0 L817.1,563.5 L818.1,566.9 L819.1,565.9 L820.1,568.3 L821.1,570.2 L822.1,570.5 L823.1,570.9 L824.1,571.1 L825.1,573.3 L826.1,572.5 L827.1,572.8 L828.1,574.8 L829.1,573.4 L830.1,575.0 L831.1,576.8 L832.1,574.5 L833.1,576.4 L834.1,576.8 L835.1,577.8 L836.1,577.3 L837.1,579.5 L838.1,580.9 L839.1,581.7 L840.1,581.6 L841.1,582.1 L842.1,583.0 L843.1,582.3 L844.1,583.4 L845.1,583.2 L846.1,583.3 L847.1,583.7 L848.1,584.1 L849.1,584.4 L850.1,585.1 L851.1,585.0 L852.1,585.2 L853.1,586.3 L854.1,586.6 L855.1,585.9 L856.1,586.1 L857.1,586.1 L858.1,585.8 L859.1,586.0 L860.1,586.6 L861.1,586.1 L862.1,586.7 L863.1,585.6 L864.1,586.0 L865.1,586.5 L866.1,586.9 L867.1,586.4 L868.1,586.8 L869.1,587.2 L870.1,586.6 L871.1,586.9 L872.1,586.6 L873.1,587.1 L874.1,586.2 L875.1,586.3 L876.1,587.9 L877.1,588.2 L878.1,587.7 L879.1,586.5 L880.1,587.0 L881.1,587.3 L882.1,587.2 L883.1,588.0 L884.1,587.4 L885.1,588.0 L886.1,587.4 L887.1,587.8 L888.1,587.9 L889.1,588.0 L890.1,587.5 L891.1,587.0 L892.1,588.7 L893.1,587.6 L894.1,588.2 L895.1,587.4 L896.1,587.7 L897.1,588.6 L898.1,588.2 L899.1,587.7 L900.1,587.6 L901.1,588.7 L902.1,588.9 L903.1,588.3 L904.1,587.9 L905.1,588.1 L906.1,588.3 L907.1,588.2 L908.1,588.2 L909.1,588.4 L910.1,588.9 L911.1,588.2 L912.1,588.3 L913.1,588.1 L914.1,588.5 L915.1,588.7 L916.1,588.1 L917.1,588.1 L918.1,587.7 L919.1,589.0 L920.1,588.7 L921.1,588.6 L922.1,587.5 L923.1,589.5 L924.1,588.1 L925.1,588.8 L926.1,588.9 L927.1,588.1 L928.1,588.1 L929.1,589.8 L930.1,589.0 L931.1,588.5 L932.1,588.7 L933.1,588.0 L934.1,588.8 L935.1,588.6 L936.1,589.4" fill="none" stroke="#333" stroke-width="1.4" stroke-linejoin="round"/>
</g>
<rect x="689.1" y="434.4" width="248.6" height="157.9" fill="none" stroke="#000" stroke-width="1.8" />
<line x1="682.1" y1="592.3" x2="689.1" y2="592.3" stroke="#000" stroke-width="1.5" />
<text x="665.95" y="598.00" font-size="16.52" textLength="9.46" lengthAdjust="spacingAndGlyphs" >0</text>
<line x1="685.3" y1="586.1" x2="689.6" y2="586.1" stroke="#000" stroke-width="1.2" />
<line x1="685.3" y1="579.8" x2="689.6" y2="579.8" stroke="#000" stroke-width="1.2" />
<line x1="685.3" y1="573.6" x2="689.6" y2="573.6" stroke="#000" stroke-width="1.2" />
<line x1="685.3" y1="567.4" x2="689.6" y2="567.4" stroke="#000" stroke-width="1.2" />
<line x1="682.1" y1="561.1" x2="689.1" y2="561.1" stroke="#000" stroke-width="1.5" />
<text x="656.51" y="566.84" font-size="16.52" textLength="18.93" lengthAdjust="spacingAndGlyphs" >40</text>
<line x1="685.3" y1="554.9" x2="689.6" y2="554.9" stroke="#000" stroke-width="1.2" />
<line x1="685.3" y1="548.7" x2="689.6" y2="548.7" stroke="#000" stroke-width="1.2" />
<line x1="685.3" y1="542.4" x2="689.6" y2="542.4" stroke="#000" stroke-width="1.2" />
<line x1="685.3" y1="536.2" x2="689.6" y2="536.2" stroke="#000" stroke-width="1.2" />
<line x1="682.1" y1="530.0" x2="689.1" y2="530.0" stroke="#000" stroke-width="1.5" />
<text x="656.51" y="535.68" font-size="16.52" textLength="18.93" lengthAdjust="spacingAndGlyphs" >80</text>
<line x1="685.3" y1="523.7" x2="689.6" y2="523.7" stroke="#000" stroke-width="1.2" />
<line x1="685.3" y1="517.5" x2="689.6" y2="517.5" stroke="#000" stroke-width="1.2" />
<line x1="685.3" y1="511.3" x2="689.6" y2="511.3" stroke="#000" stroke-width="1.2" />
<line x1="685.3" y1="505.1" x2="689.6" y2="505.1" stroke="#000" stroke-width="1.2" />
<line x1="682.1" y1="498.8" x2="689.1" y2="498.8" stroke="#000" stroke-width="1.5" />
<text x="647.06" y="504.52" font-size="16.52" textLength="28.39" lengthAdjust="spacingAndGlyphs" >120</text>
<line x1="685.3" y1="492.6" x2="689.6" y2="492.6" stroke="#000" stroke-width="1.2" />
<line x1="685.3" y1="486.4" x2="689.6" y2="486.4" stroke="#000" stroke-width="1.2" />
<line x1="685.3" y1="480.1" x2="689.6" y2="480.1" stroke="#000" stroke-width="1.2" />
<line x1="685.3" y1="473.9" x2="689.6" y2="473.9" stroke="#000" stroke-width="1.2" />
<line x1="682.1" y1="467.7" x2="689.1" y2="467.7" stroke="#000" stroke-width="1.5" />
<text x="647.06" y="473.36" font-size="16.52" textLength="28.39" lengthAdjust="spacingAndGlyphs" >160</text>
<line x1="685.3" y1="461.4" x2="689.6" y2="461.4" stroke="#000" stroke-width="1.2" />
<line x1="685.3" y1="455.2" x2="689.6" y2="455.2" stroke="#000" stroke-width="1.2" />
<line x1="685.3" y1="449.0" x2="689.6" y2="449.0" stroke="#000" stroke-width="1.2" />
<line x1="685.3" y1="442.7" x2="689.6" y2="442.7" stroke="#000" stroke-width="1.2" />
<line x1="682.1" y1="436.5" x2="689.1" y2="436.5" stroke="#000" stroke-width="1.5" />
<text x="647.06" y="442.20" font-size="16.52" textLength="28.39" lengthAdjust="spacingAndGlyphs" >200</text>
<line x1="690.9" y1="592.3" x2="690.9" y2="598.3" stroke="#000" stroke-width="1.5" />
<line x1="714.8" y1="592.3" x2="714.8" y2="595.7" stroke="#000" stroke-width="1.2" />
<line x1="728.7" y1="592.3" x2="728.7" y2="595.7" stroke="#000" stroke-width="1.2" />
<line x1="738.6" y1="592.3" x2="738.6" y2="595.7" stroke="#000" stroke-width="1.2" />
<line x1="746.3" y1="592.3" x2="746.3" y2="595.7" stroke="#000" stroke-width="1.2" />
<line x1="752.6" y1="592.3" x2="752.6" y2="595.7" stroke="#000" stroke-width="1.2" />
<line x1="757.9" y1="592.3" x2="757.9" y2="595.7" stroke="#000" stroke-width="1.2" />
<line x1="762.5" y1="592.3" x2="762.5" y2="595.7" stroke="#000" stroke-width="1.2" />
<line x1="766.6" y1="592.3" x2="766.6" y2="595.7" stroke="#000" stroke-width="1.2" />
<text x="677.65" y="618.50" font-size="17.39" textLength="19.35" lengthAdjust="spacingAndGlyphs" >10</text>
<text x="696.67" y="613.20" font-size="11.88" textLength="6.61" lengthAdjust="spacingAndGlyphs" >0</text>
<line x1="770.2" y1="592.3" x2="770.2" y2="598.3" stroke="#000" stroke-width="1.5" />
<line x1="794.1" y1="592.3" x2="794.1" y2="595.7" stroke="#000" stroke-width="1.2" />
<line x1="808.0" y1="592.3" x2="808.0" y2="595.7" stroke="#000" stroke-width="1.2" />
<line x1="817.9" y1="592.3" x2="817.9" y2="595.7" stroke="#000" stroke-width="1.2" />
<line x1="825.6" y1="592.3" x2="825.6" y2="595.7" stroke="#000" stroke-width="1.2" />
<line x1="831.9" y1="592.3" x2="831.9" y2="595.7" stroke="#000" stroke-width="1.2" />
<line x1="837.2" y1="592.3" x2="837.2" y2="595.7" stroke="#000" stroke-width="1.2" />
<line x1="841.8" y1="592.3" x2="841.8" y2="595.7" stroke="#000" stroke-width="1.2" />
<line x1="845.9" y1="592.3" x2="845.9" y2="595.7" stroke="#000" stroke-width="1.2" />
<text x="757.22" y="618.50" font-size="17.39" textLength="19.35" lengthAdjust="spacingAndGlyphs" >10</text>
<text x="775.82" y="613.20" font-size="11.88" textLength="6.61" lengthAdjust="spacingAndGlyphs" >1</text>
<line x1="849.5" y1="592.3" x2="849.5" y2="598.3" stroke="#000" stroke-width="1.5" />
<line x1="873.4" y1="592.3" x2="873.4" y2="595.7" stroke="#000" stroke-width="1.2" />
<line x1="887.3" y1="592.3" x2="887.3" y2="595.7" stroke="#000" stroke-width="1.2" />
<line x1="897.2" y1="592.3" x2="897.2" y2="595.7" stroke="#000" stroke-width="1.2" />
<line x1="904.9" y1="592.3" x2="904.9" y2="595.7" stroke="#000" stroke-width="1.2" />
<line x1="911.2" y1="592.3" x2="911.2" y2="595.7" stroke="#000" stroke-width="1.2" />
<line x1="916.5" y1="592.3" x2="916.5" y2="595.7" stroke="#000" stroke-width="1.2" />
<line x1="921.1" y1="592.3" x2="921.1" y2="595.7" stroke="#000" stroke-width="1.2" />
<line x1="925.2" y1="592.3" x2="925.2" y2="595.7" stroke="#000" stroke-width="1.2" />
<text x="836.40" y="618.50" font-size="17.39" textLength="19.35" lengthAdjust="spacingAndGlyphs" >10</text>
<text x="855.30" y="613.20" font-size="11.88" textLength="6.61" lengthAdjust="spacingAndGlyphs" >2</text>
<line x1="928.8" y1="592.3" x2="928.8" y2="598.3" stroke="#000" stroke-width="1.5" />
<text x="915.58" y="618.50" font-size="17.39" textLength="19.35" lengthAdjust="spacingAndGlyphs" >10</text>
<text x="934.60" y="613.20" font-size="11.88" textLength="6.61" lengthAdjust="spacingAndGlyphs" >3</text>
<text x="771.65" y="458.60" font-size="19.86" textLength="82.52" lengthAdjust="spacingAndGlyphs" >HeLa/ctrl</text>
<g clip-path="url(#hc4)">
<path d="M690.1,792.3 L690.1,790.3 L691.1,789.6 L692.1,789.2 L693.1,788.6 L694.1,790.7 L695.1,790.2 L696.1,790.3 L697.1,789.8 L698.1,789.6 L699.1,790.3 L700.1,789.1 L701.1,790.2 L702.1,788.7 L703.1,789.7 L704.1,788.7 L705.1,788.5 L706.1,788.8 L707.1,789.1 L708.1,789.2 L709.1,789.4 L710.1,787.3 L711.1,788.0 L712.1,786.9 L713.1,787.8 L714.1,787.6 L715.1,788.0 L716.1,787.4 L717.1,788.1 L718.1,785.5 L719.1,785.0 L720.1,784.1 L721.1,783.8 L722.1,785.9 L723.1,787.1 L724.1,783.7 L725.1,783.8 L726.1,784.5 L727.1,783.9 L728.1,781.4 L729.1,779.6 L730.1,780.3 L731.1,780.9 L732.1,778.3 L733.1,777.4 L734.1,779.6 L735.1,776.8 L736.1,778.4 L737.1,775.7 L738.1,772.9 L739.1,771.1 L740.1,770.9 L741.1,765.6 L742.1,766.6 L743.1,761.8 L744.1,763.2 L745.1,756.2 L746.1,751.1 L747.1,747.4 L748.1,742.9 L749.1,739.6 L750.1,731.7 L751.1,729.6 L752.1,723.2 L753.1,724.6 L754.1,716.5 L755.1,712.1 L756.1,703.9 L757.1,696.0 L758.1,695.0 L759.1,690.4 L760.1,685.7 L761.1,683.1 L762.1,674.1 L763.1,681.2 L764.1,672.7 L765.1,668.6 L766.1,670.7 L767.1,672.7 L768.1,669.0 L769.1,662.6 L770.1,660.6 L771.1,664.5 L772.1,668.1 L773.1,670.8 L774.1,680.1 L775.1,677.5 L776.1,692.8 L777.1,692.3 L778.1,708.0 L779.1,704.9 L780.1,713.1 L781.1,723.9 L782.1,727.5 L783.1,732.7 L784.1,736.0 L785.1,739.9 L786.1,744.4 L787.1,749.1 L788.1,753.0 L789.1,755.3 L790.1,760.1 L791.1,761.9 L792.1,764.2 L793.1,764.3 L794.1,765.3 L795.1,768.3 L796.1,775.6 L797.1,777.1 L798.1,778.7 L799.1,778.3 L800.1,775.9 L801.1,779.4 L802.1,779.6 L803.1,780.8 L804.1,783.5 L805.1,783.3 L806.1,783.4 L807.1,784.0 L808.1,783.7 L809.1,783.9 L810.1,783.7 L811.1,785.3 L812.1,782.6 L813.1,783.2 L814.1,784.6 L815.1,784.4 L816.1,784.9 L817.1,786.1 L818.1,783.6 L819.1,784.8 L820.1,783.3 L821.1,782.9 L822.1,785.9 L823.1,785.7 L824.1,784.2 L825.1,785.4 L826.1,785.7 L827.1,785.6 L828.1,785.0 L829.1,786.9 L830.1,785.8 L831.1,785.0 L832.1,786.8 L833.1,786.8 L834.1,786.2 L835.1,785.8 L836.1,785.9 L837.1,786.4 L838.1,785.4 L839.1,787.5 L840.1,785.5 L841.1,786.5 L842.1,787.4 L843.1,788.5 L844.1,785.9 L845.1,787.1 L846.1,786.9 L847.1,786.1 L848.1,787.9 L849.1,787.0 L850.1,787.0 L851.1,786.4 L852.1,787.6 L853.1,786.3 L854.1,788.4 L855.1,788.0 L856.1,788.6 L857.1,788.8 L858.1,786.6 L859.1,787.8 L860.1,788.1 L861.1,787.9 L862.1,788.0 L863.1,789.4 L864.1,788.5 L865.1,787.9 L866.1,789.2 L867.1,788.4 L868.1,788.6 L869.1,789.1 L870.1,789.4 L871.1,788.8 L872.1,788.2 L873.1,788.0 L874.1,789.7 L875.1,788.3 L876.1,788.0 L877.1,789.9 L878.1,789.6 L879.1,788.2 L880.1,788.0 L881.1,788.2 L882.1,787.4 L883.1,788.2 L884.1,787.7 L885.1,788.8 L886.1,788.8 L887.1,789.6 L888.1,788.8 L889.1,789.2 L890.1,789.4 L891.1,788.5 L892.1,788.8 L893.1,789.4 L894.1,789.0 L895.1,788.9 L896.1,788.9 L897.1,789.8 L898.1,788.8 L899.1,789.7 L900.1,789.1 L901.1,789.8 L902.1,787.9 L903.1,790.5 L904.1,788.8 L905.1,790.3 L906.1,788.4 L907.1,790.5 L908.1,789.2 L909.1,789.8 L910.1,789.1 L911.1,790.7 L912.1,790.1 L913.1,789.5 L914.1,789.3 L915.1,790.4 L916.1,791.3 L917.1,790.3 L918.1,790.5 L919.1,790.0 L920.1,790.4 L921.1,790.9 L922.1,790.3 L923.1,789.3 L924.1,789.9 L925.1,790.5 L926.1,789.9 L927.1,791.3 L928.1,790.8 L929.1,790.5 L930.1,790.7 L931.1,790.9 L932.1,790.5 L933.1,789.3 L934.1,790.6 L935.1,790.3 L936.1,789.5 L936.7,792.3 Z" fill="#cacaca" />
<line x1="692.1" y1="792.3" x2="692.1" y2="764.2" stroke="#444" stroke-width="2.4" />
<path d="M690.1,790.1 L691.1,790.1 L692.1,790.0 L693.1,789.2 L694.1,789.9 L695.1,791.1 L696.1,789.4 L697.1,789.8 L698.1,789.7 L699.1,789.3 L700.1,789.1 L701.1,788.1 L702.1,788.5 L703.1,788.9 L704.1,789.6 L705.1,789.8 L706.1,788.5 L707.1,787.4 L708.1,788.6 L709.1,788.6 L710.1,788.0 L711.1,789.9 L712.1,788.7 L713.1,787.7 L714.1,787.0 L715.1,787.8 L716.1,786.8 L717.1,786.5 L718.1,785.5 L719.1,787.3 L720.1,784.9 L721.1,787.1 L722.1,788.1 L723.1,785.4 L724.1,785.6 L725.1,782.9 L726.1,782.7 L727.1,784.6 L728.1,781.1 L729.1,783.0 L730.1,780.9 L731.1,780.5 L732.1,779.2 L733.1,777.5 L734.1,777.2 L735.1,777.2 L736.1,776.1 L737.1,774.3 L738.1,773.3 L739.1,770.3 L740.1,766.8 L741.1,762.5 L742.1,762.1 L743.1,752.6 L744.1,754.9 L745.1,750.9 L746.1,742.7 L747.1,738.5 L748.1,737.4 L749.1,731.9 L750.1,725.2 L751.1,725.1 L752.1,725.7 L753.1,720.3 L754.1,710.9 L755.1,712.2 L756.1,700.0 L757.1,692.1 L758.1,688.2 L759.1,680.4 L760.1,679.2 L761.1,669.9 L762.1,673.2 L763.1,675.1 L764.1,673.0 L765.1,673.0 L766.1,664.4 L767.1,668.4 L768.1,664.5 L769.1,659.5 L770.1,664.2 L771.1,665.4 L772.1,676.6 L773.1,678.8 L774.1,680.4 L775.1,681.3 L776.1,685.8 L777.1,698.3 L778.1,704.5 L779.1,709.4 L780.1,711.3 L781.1,719.1 L782.1,728.7 L783.1,738.6 L784.1,736.7 L785.1,741.0 L786.1,742.8 L787.1,750.5 L788.1,750.6 L789.1,760.2 L790.1,759.6 L791.1,764.9 L792.1,767.5 L793.1,770.6 L794.1,771.1 L795.1,770.8 L796.1,774.3 L797.1,776.5 L798.1,782.6 L799.1,778.3 L800.1,779.0 L801.1,781.3 L802.1,782.0 L803.1,781.9 L804.1,780.3 L805.1,784.7 L806.1,784.4 L807.1,782.6 L808.1,785.1 L809.1,785.0 L810.1,784.5 L811.1,786.2 L812.1,784.4 L813.1,786.3 L814.1,783.7 L815.1,784.9 L816.1,782.2 L817.1,784.7 L818.1,783.4 L819.1,786.8 L820.1,785.4 L821.1,784.9 L822.1,783.2 L823.1,787.4 L824.1,784.3 L825.1,784.9 L826.1,784.0 L827.1,785.2 L828.1,786.1 L829.1,787.0 L830.1,788.0 L831.1,786.6 L832.1,787.2 L833.1,785.0 L834.1,788.0 L835.1,787.1 L836.1,789.3 L837.1,788.1 L838.1,787.4 L839.1,786.8 L840.1,786.2 L841.1,787.8 L842.1,789.0 L843.1,787.4 L844.1,787.4 L845.1,787.5 L846.1,788.7 L847.1,786.9 L848.1,788.0 L849.1,787.5 L850.1,786.9 L851.1,787.6 L852.1,788.0 L853.1,786.2 L854.1,788.1 L855.1,788.7 L856.1,788.3 L857.1,786.9 L858.1,788.3 L859.1,787.9 L860.1,787.3 L861.1,789.0 L862.1,790.2 L863.1,788.2 L864.1,788.3 L865.1,789.2 L866.1,787.7 L867.1,788.0 L868.1,789.6 L869.1,788.1 L870.1,788.9 L871.1,790.1 L872.1,788.3 L873.1,788.8 L874.1,789.5 L875.1,788.3 L876.1,788.3 L877.1,789.4 L878.1,788.5 L879.1,787.9 L880.1,789.6 L881.1,788.6 L882.1,789.0 L883.1,786.9 L884.1,790.8 L885.1,788.4 L886.1,789.4 L887.1,789.2 L888.1,787.4 L889.1,789.2 L890.1,787.1 L891.1,789.7 L892.1,789.0 L893.1,789.8 L894.1,790.0 L895.1,789.3 L896.1,789.7 L897.1,789.3 L898.1,791.4 L899.1,787.7 L900.1,789.7 L901.1,788.0 L902.1,790.5 L903.1,789.4 L904.1,786.9 L905.1,790.5 L906.1,791.1 L907.1,790.3 L908.1,789.4 L909.1,789.3 L910.1,788.8 L911.1,790.2 L912.1,791.3 L913.1,790.4 L914.1,789.0 L915.1,789.7 L916.1,791.7 L917.1,790.2 L918.1,789.0 L919.1,788.4 L920.1,789.7 L921.1,790.0 L922.1,791.3 L923.1,791.0 L924.1,790.3 L925.1,789.9 L926.1,789.9 L927.1,790.8 L928.1,791.4 L929.1,791.1 L930.1,791.4 L931.1,790.0 L932.1,792.1 L933.1,790.8 L934.1,790.2 L935.1,789.4 L936.1,790.5" fill="none" stroke="#6a6a6a" stroke-width="1.25" stroke-dasharray="5 3" stroke-linejoin="round"/>
<path d="M690.1,784.9 L691.1,785.5 L692.1,785.3 L693.1,785.2 L694.1,786.2 L695.1,786.6 L696.1,786.4 L697.1,785.7 L698.1,785.4 L699.1,785.9 L700.1,786.8 L701.1,785.4 L702.1,787.0 L703.1,786.6 L704.1,786.7 L705.1,786.3 L706.1,786.0 L707.1,787.3 L708.1,786.8 L709.1,786.6 L710.1,787.3 L711.1,786.9 L712.1,786.7 L713.1,787.3 L714.1,787.0 L715.1,786.1 L716.1,785.9 L717.1,785.3 L718.1,783.8 L719.1,784.1 L720.1,784.0 L721.1,784.4 L722.1,783.2 L723.1,783.9 L724.1,782.4 L725.1,782.8 L726.1,784.8 L727.1,784.5 L728.1,784.2 L729.1,784.5 L730.1,785.3 L731.1,785.5 L732.1,784.7 L733.1,785.5 L734.1,786.2 L735.1,785.7 L736.1,785.2 L737.1,784.7 L738.1,785.5 L739.1,785.6 L740.1,785.8 L741.1,785.6 L742.1,784.9 L743.1,784.4 L744.1,784.3 L745.1,785.0 L746.1,784.3 L747.1,784.3 L748.1,784.4 L749.1,785.9 L750.1,784.5 L751.1,784.0 L752.1,782.0 L753.1,781.7 L754.1,779.7 L755.1,778.2 L756.1,775.9 L757.1,774.7 L758.1,773.2 L759.1,771.8 L760.1,771.2 L761.1,769.0 L762.1,766.8 L763.1,762.8 L764.1,757.0 L765.1,755.6 L766.1,752.2 L767.1,750.8 L768.1,746.7 L769.1,743.5 L770.1,730.8 L771.1,728.7 L772.1,725.3 L773.1,720.6 L774.1,723.2 L775.1,717.2 L776.1,715.0 L777.1,714.2 L778.1,708.5 L779.1,709.1 L780.1,706.5 L781.1,704.6 L782.1,700.2 L783.1,694.8 L784.1,697.3 L785.1,691.7 L786.1,692.4 L787.1,690.8 L788.1,691.6 L789.1,688.4 L790.1,685.3 L791.1,681.5 L792.1,681.3 L793.1,683.5 L794.1,687.8 L795.1,696.5 L796.1,697.7 L797.1,705.1 L798.1,706.9 L799.1,709.9 L800.1,711.8 L801.1,714.4 L802.1,721.7 L803.1,719.3 L804.1,724.5 L805.1,725.3 L806.1,728.0 L807.1,730.6 L808.1,735.4 L809.1,737.6 L810.1,743.1 L811.1,743.5 L812.1,743.8 L813.1,749.4 L814.1,750.9 L815.1,754.2 L816.1,756.9 L817.1,761.1 L818.1,766.0 L819.1,768.8 L820.1,770.4 L821.1,771.4 L822.1,772.4 L823.1,773.5 L824.1,774.5 L825.1,775.6 L826.1,777.3 L827.1,777.5 L828.1,778.9 L829.1,779.1 L830.1,780.7 L831.1,780.5 L832.1,780.4 L833.1,780.7 L834.1,781.5 L835.1,781.0 L836.1,782.6 L837.1,782.1 L838.1,782.6 L839.1,783.4 L840.1,783.9 L841.1,784.1 L842.1,784.7 L843.1,785.3 L844.1,785.1 L845.1,785.3 L846.1,785.4 L847.1,785.8 L848.1,786.2 L849.1,785.7 L850.1,785.3 L851.1,786.6 L852.1,787.3 L853.1,786.8 L854.1,787.3 L855.1,787.3 L856.1,787.5 L857.1,787.0 L858.1,786.7 L859.1,785.9 L860.1,787.6 L861.1,787.7 L862.1,787.2 L863.1,787.2 L864.1,786.4 L865.1,786.7 L866.1,787.6 L867.1,788.4 L868.1,787.2 L869.1,787.7 L870.1,786.9 L871.1,787.7 L872.1,787.8 L873.1,788.3 L874.1,787.8 L875.1,787.3 L876.1,788.3 L877.1,787.8 L878.1,788.2 L879.1,787.6 L880.1,788.0 L881.1,787.8 L882.1,787.9 L883.1,788.4 L884.1,788.5 L885.1,787.4 L886.1,788.2 L887.1,788.5 L888.1,788.3 L889.1,787.3 L890.1,788.0 L891.1,787.5 L892.1,789.0 L893.1,787.0 L894.1,788.0 L895.1,787.4 L896.1,788.2 L897.1,788.0 L898.1,787.6 L899.1,787.2 L900.1,787.9 L901.1,788.3 L902.1,787.5 L903.1,787.0 L904.1,788.6 L905.1,788.4 L906.1,787.7 L907.1,788.2 L908.1,789.0 L909.1,788.0 L910.1,787.9 L911.1,787.7 L912.1,787.4 L913.1,788.6 L914.1,788.3 L915.1,788.0 L916.1,787.8 L917.1,788.3 L918.1,788.0 L919.1,788.4 L920.1,787.6 L921.1,787.4 L922.1,788.4 L923.1,787.7 L924.1,788.5 L925.1,787.8 L926.1,788.7 L927.1,787.9 L928.1,787.5 L929.1,787.6 L930.1,788.8 L931.1,787.9 L932.1,788.2 L933.1,787.4 L934.1,787.8 L935.1,787.3 L936.1,788.2" fill="none" stroke="#333" stroke-width="1.4" stroke-linejoin="round"/>
</g>
<rect x="689.1" y="634.2" width="248.6" height="158.1" fill="none" stroke="#000" stroke-width="1.8" />
<line x1="682.1" y1="792.3" x2="689.1" y2="792.3" stroke="#000" stroke-width="1.5" />
<text x="665.95" y="798.00" font-size="16.52" textLength="9.46" lengthAdjust="spacingAndGlyphs" >0</text>
<line x1="685.3" y1="786.1" x2="689.6" y2="786.1" stroke="#000" stroke-width="1.2" />
<line x1="685.3" y1="779.8" x2="689.6" y2="779.8" stroke="#000" stroke-width="1.2" />
<line x1="685.3" y1="773.6" x2="689.6" y2="773.6" stroke="#000" stroke-width="1.2" />
<line x1="685.3" y1="767.3" x2="689.6" y2="767.3" stroke="#000" stroke-width="1.2" />
<line x1="682.1" y1="761.1" x2="689.1" y2="761.1" stroke="#000" stroke-width="1.5" />
<text x="656.51" y="766.80" font-size="16.52" textLength="18.93" lengthAdjust="spacingAndGlyphs" >40</text>
<line x1="685.3" y1="754.9" x2="689.6" y2="754.9" stroke="#000" stroke-width="1.2" />
<line x1="685.3" y1="748.6" x2="689.6" y2="748.6" stroke="#000" stroke-width="1.2" />
<line x1="685.3" y1="742.4" x2="689.6" y2="742.4" stroke="#000" stroke-width="1.2" />
<line x1="685.3" y1="736.1" x2="689.6" y2="736.1" stroke="#000" stroke-width="1.2" />
<line x1="682.1" y1="729.9" x2="689.1" y2="729.9" stroke="#000" stroke-width="1.5" />
<text x="656.51" y="735.60" font-size="16.52" textLength="18.93" lengthAdjust="spacingAndGlyphs" >80</text>
<line x1="685.3" y1="723.7" x2="689.6" y2="723.7" stroke="#000" stroke-width="1.2" />
<line x1="685.3" y1="717.4" x2="689.6" y2="717.4" stroke="#000" stroke-width="1.2" />
<line x1="685.3" y1="711.2" x2="689.6" y2="711.2" stroke="#000" stroke-width="1.2" />
<line x1="685.3" y1="704.9" x2="689.6" y2="704.9" stroke="#000" stroke-width="1.2" />
<line x1="682.1" y1="698.7" x2="689.1" y2="698.7" stroke="#000" stroke-width="1.5" />
<text x="647.06" y="704.40" font-size="16.52" textLength="28.39" lengthAdjust="spacingAndGlyphs" >120</text>
<line x1="685.3" y1="692.5" x2="689.6" y2="692.5" stroke="#000" stroke-width="1.2" />
<line x1="685.3" y1="686.2" x2="689.6" y2="686.2" stroke="#000" stroke-width="1.2" />
<line x1="685.3" y1="680.0" x2="689.6" y2="680.0" stroke="#000" stroke-width="1.2" />
<line x1="685.3" y1="673.7" x2="689.6" y2="673.7" stroke="#000" stroke-width="1.2" />
<line x1="682.1" y1="667.5" x2="689.1" y2="667.5" stroke="#000" stroke-width="1.5" />
<text x="647.06" y="673.20" font-size="16.52" textLength="28.39" lengthAdjust="spacingAndGlyphs" >160</text>
<line x1="685.3" y1="661.3" x2="689.6" y2="661.3" stroke="#000" stroke-width="1.2" />
<line x1="685.3" y1="655.0" x2="689.6" y2="655.0" stroke="#000" stroke-width="1.2" />
<line x1="685.3" y1="648.8" x2="689.6" y2="648.8" stroke="#000" stroke-width="1.2" />
<line x1="685.3" y1="642.5" x2="689.6" y2="642.5" stroke="#000" stroke-width="1.2" />
<line x1="682.1" y1="636.3" x2="689.1" y2="636.3" stroke="#000" stroke-width="1.5" />
<text x="647.06" y="642.00" font-size="16.52" textLength="28.39" lengthAdjust="spacingAndGlyphs" >200</text>
<line x1="690.9" y1="792.3" x2="690.9" y2="798.3" stroke="#000" stroke-width="1.5" />
<line x1="714.8" y1="792.3" x2="714.8" y2="795.7" stroke="#000" stroke-width="1.2" />
<line x1="728.7" y1="792.3" x2="728.7" y2="795.7" stroke="#000" stroke-width="1.2" />
<line x1="738.6" y1="792.3" x2="738.6" y2="795.7" stroke="#000" stroke-width="1.2" />
<line x1="746.3" y1="792.3" x2="746.3" y2="795.7" stroke="#000" stroke-width="1.2" />
<line x1="752.6" y1="792.3" x2="752.6" y2="795.7" stroke="#000" stroke-width="1.2" />
<line x1="757.9" y1="792.3" x2="757.9" y2="795.7" stroke="#000" stroke-width="1.2" />
<line x1="762.5" y1="792.3" x2="762.5" y2="795.7" stroke="#000" stroke-width="1.2" />
<line x1="766.6" y1="792.3" x2="766.6" y2="795.7" stroke="#000" stroke-width="1.2" />
<text x="677.65" y="818.50" font-size="17.39" textLength="19.35" lengthAdjust="spacingAndGlyphs" >10</text>
<text x="696.67" y="813.20" font-size="11.88" textLength="6.61" lengthAdjust="spacingAndGlyphs" >0</text>
<line x1="770.2" y1="792.3" x2="770.2" y2="798.3" stroke="#000" stroke-width="1.5" />
<line x1="794.1" y1="792.3" x2="794.1" y2="795.7" stroke="#000" stroke-width="1.2" />
<line x1="808.0" y1="792.3" x2="808.0" y2="795.7" stroke="#000" stroke-width="1.2" />
<line x1="817.9" y1="792.3" x2="817.9" y2="795.7" stroke="#000" stroke-width="1.2" />
<line x1="825.6" y1="792.3" x2="825.6" y2="795.7" stroke="#000" stroke-width="1.2" />
<line x1="831.9" y1="792.3" x2="831.9" y2="795.7" stroke="#000" stroke-width="1.2" />
<line x1="837.2" y1="792.3" x2="837.2" y2="795.7" stroke="#000" stroke-width="1.2" />
<line x1="841.8" y1="792.3" x2="841.8" y2="795.7" stroke="#000" stroke-width="1.2" />
<line x1="845.9" y1="792.3" x2="845.9" y2="795.7" stroke="#000" stroke-width="1.2" />
<text x="757.22" y="818.50" font-size="17.39" textLength="19.35" lengthAdjust="spacingAndGlyphs" >10</text>
<text x="775.82" y="813.20" font-size="11.88" textLength="6.61" lengthAdjust="spacingAndGlyphs" >1</text>
<line x1="849.5" y1="792.3" x2="849.5" y2="798.3" stroke="#000" stroke-width="1.5" />
<line x1="873.4" y1="792.3" x2="873.4" y2="795.7" stroke="#000" stroke-width="1.2" />
<line x1="887.3" y1="792.3" x2="887.3" y2="795.7" stroke="#000" stroke-width="1.2" />
<line x1="897.2" y1="792.3" x2="897.2" y2="795.7" stroke="#000" stroke-width="1.2" />
<line x1="904.9" y1="792.3" x2="904.9" y2="795.7" stroke="#000" stroke-width="1.2" />
<line x1="911.2" y1="792.3" x2="911.2" y2="795.7" stroke="#000" stroke-width="1.2" />
<line x1="916.5" y1="792.3" x2="916.5" y2="795.7" stroke="#000" stroke-width="1.2" />
<line x1="921.1" y1="792.3" x2="921.1" y2="795.7" stroke="#000" stroke-width="1.2" />
<line x1="925.2" y1="792.3" x2="925.2" y2="795.7" stroke="#000" stroke-width="1.2" />
<text x="836.40" y="818.50" font-size="17.39" textLength="19.35" lengthAdjust="spacingAndGlyphs" >10</text>
<text x="855.30" y="813.20" font-size="11.88" textLength="6.61" lengthAdjust="spacingAndGlyphs" >2</text>
<line x1="928.8" y1="792.3" x2="928.8" y2="798.3" stroke="#000" stroke-width="1.5" />
<text x="915.58" y="818.50" font-size="17.39" textLength="19.35" lengthAdjust="spacingAndGlyphs" >10</text>
<text x="934.60" y="813.20" font-size="11.88" textLength="6.61" lengthAdjust="spacingAndGlyphs" >3</text>
<text x="780.21" y="658.70" font-size="19.86" textLength="67.18" lengthAdjust="spacingAndGlyphs" >HeLa/N</text>
<text x="21.61" y="1641.20" font-size="39.28" textLength="23.49" lengthAdjust="spacingAndGlyphs" font-weight="bold" fill="#000" >E</text>
<g clip-path="url(#hc10)">
<path d="M138.1,1801.7 L138.1,1801.5 L139.1,1801.5 L140.1,1800.6 L141.1,1801.5 L142.1,1801.5 L143.1,1801.2 L144.1,1801.2 L145.1,1800.8 L146.1,1801.3 L147.1,1800.2 L148.1,1800.5 L149.1,1798.8 L150.1,1799.7 L151.1,1799.5 L152.1,1798.2 L153.1,1798.2 L154.1,1799.3 L155.1,1797.6 L156.1,1798.6 L157.1,1796.0 L158.1,1796.9 L159.1,1794.8 L160.1,1795.0 L161.1,1792.7 L162.1,1790.5 L163.1,1790.2 L164.1,1791.6 L165.1,1791.3 L166.1,1786.7 L167.1,1787.0 L168.1,1785.3 L169.1,1780.9 L170.1,1782.6 L171.1,1777.6 L172.1,1776.0 L173.1,1777.3 L174.1,1778.2 L175.1,1775.7 L176.1,1771.0 L177.1,1772.3 L178.1,1769.0 L179.1,1770.6 L180.1,1769.8 L181.1,1768.8 L182.1,1767.8 L183.1,1766.2 L184.1,1763.8 L185.1,1762.2 L186.1,1764.8 L187.1,1766.1 L188.1,1764.9 L189.1,1764.9 L190.1,1766.9 L191.1,1761.9 L192.1,1763.9 L193.1,1758.3 L194.1,1764.2 L195.1,1766.7 L196.1,1763.0 L197.1,1764.3 L198.1,1762.6 L199.1,1764.5 L200.1,1761.1 L201.1,1767.3 L202.1,1765.9 L203.1,1768.0 L204.1,1768.7 L205.1,1771.7 L206.1,1767.1 L207.1,1772.3 L208.1,1768.5 L209.1,1768.9 L210.1,1769.7 L211.1,1774.4 L212.1,1770.0 L213.1,1773.5 L214.1,1771.6 L215.1,1773.9 L216.1,1770.1 L217.1,1776.0 L218.1,1776.3 L219.1,1776.2 L220.1,1780.2 L221.1,1778.8 L222.1,1779.1 L223.1,1779.2 L224.1,1781.5 L225.1,1779.0 L226.1,1780.1 L227.1,1782.3 L228.1,1785.1 L229.1,1784.5 L230.1,1782.8 L231.1,1784.1 L232.1,1786.7 L233.1,1789.3 L234.1,1787.8 L235.1,1789.2 L236.1,1790.9 L237.1,1791.7 L238.1,1793.6 L239.1,1794.1 L240.1,1794.1 L241.1,1792.6 L242.1,1793.2 L243.1,1794.8 L244.1,1794.7 L245.1,1793.2 L246.1,1796.6 L247.1,1795.9 L248.1,1797.0 L249.1,1793.8 L250.1,1796.6 L251.1,1795.1 L252.1,1796.2 L253.1,1798.0 L254.1,1797.1 L255.1,1797.8 L256.1,1797.8 L257.1,1798.2 L258.1,1798.0 L259.1,1798.2 L260.1,1799.6 L261.1,1798.6 L262.1,1800.1 L263.1,1800.7 L264.1,1800.2 L265.1,1800.7 L266.1,1800.6 L267.1,1801.0 L268.1,1799.7 L269.1,1799.8 L270.1,1801.0 L271.1,1799.8 L272.1,1800.9 L273.1,1801.4 L274.1,1801.5 L275.1,1801.0 L276.1,1801.4 L277.1,1801.2 L278.1,1799.9 L279.1,1800.9 L280.1,1801.4 L281.1,1801.5 L282.1,1801.5 L283.1,1801.5 L284.1,1801.5 L285.1,1801.5 L286.1,1801.4 L287.1,1801.5 L288.1,1800.4 L289.1,1801.5 L290.1,1801.0 L291.1,1801.3 L292.1,1801.5 L293.1,1801.4 L294.1,1801.5 L295.1,1801.5 L296.1,1801.5 L297.1,1801.5 L298.1,1800.9 L299.1,1801.3 L300.1,1801.5 L301.1,1800.9 L302.1,1801.5 L303.1,1801.5 L304.1,1801.5 L305.1,1801.5 L306.1,1801.5 L307.1,1801.5 L308.1,1801.5 L309.1,1801.5 L310.1,1801.5 L311.1,1801.3 L312.1,1801.5 L313.1,1801.0 L314.1,1801.4 L315.1,1801.5 L316.1,1801.5 L317.1,1801.5 L318.1,1801.5 L319.1,1801.5 L320.1,1801.5 L321.1,1801.5 L322.1,1801.5 L323.1,1801.5 L324.1,1801.5 L324.1,1801.7 Z" fill="#cacaca" />
<line x1="138.4" y1="1801.7" x2="138.4" y2="1757.6" stroke="#555" stroke-width="1.6" />
<path d="M138.1,1799.0 L139.1,1797.6 L140.1,1796.5 L141.1,1794.5 L142.1,1795.6 L143.1,1794.6 L144.1,1793.4 L145.1,1791.4 L146.1,1786.7 L147.1,1786.0 L148.1,1786.5 L149.1,1784.2 L150.1,1777.6 L151.1,1777.7 L152.1,1773.8 L153.1,1769.2 L154.1,1762.0 L155.1,1755.1 L156.1,1753.9 L157.1,1752.3 L158.1,1746.5 L159.1,1736.6 L160.1,1732.8 L161.1,1726.8 L162.1,1722.6 L163.1,1718.6 L164.1,1722.8 L165.1,1720.6 L166.1,1715.2 L167.1,1713.7 L168.1,1720.8 L169.1,1718.8 L170.1,1729.3 L171.1,1728.9 L172.1,1735.4 L173.1,1735.2 L174.1,1739.4 L175.1,1748.9 L176.1,1752.6 L177.1,1756.2 L178.1,1767.8 L179.1,1772.7 L180.1,1780.7 L181.1,1784.8 L182.1,1790.5 L183.1,1793.6 L184.1,1792.3 L185.1,1796.2 L186.1,1798.7 L187.1,1796.5 L188.1,1798.0 L189.1,1796.3 L190.1,1795.6 L191.1,1797.6 L192.1,1798.2 L193.1,1796.8 L194.1,1799.8 L195.1,1799.7 L196.1,1799.5 L197.1,1799.7 L198.1,1798.3 L199.1,1799.6 L200.1,1800.9 L201.1,1799.0 L202.1,1799.8 L203.1,1800.5 L204.1,1799.5 L205.1,1800.3 L206.1,1800.5 L207.1,1801.4 L208.1,1801.1 L209.1,1800.3 L210.1,1800.8 L211.1,1801.2 L212.1,1801.5 L213.1,1800.9 L214.1,1801.0 L215.1,1800.6 L216.1,1800.8 L217.1,1800.7 L218.1,1801.1 L219.1,1800.9 L220.1,1801.3 L221.1,1800.9 L222.1,1800.9 L223.1,1800.9 L224.1,1801.5 L225.1,1800.9 L226.1,1801.2 L227.1,1801.5 L228.1,1801.1 L229.1,1800.8 L230.1,1801.4 L231.1,1800.4 L232.1,1801.0 L233.1,1800.6 L234.1,1800.8 L235.1,1801.5 L236.1,1801.5 L237.1,1800.9 L238.1,1801.4 L239.1,1801.4 L240.1,1800.9 L241.1,1801.0 L242.1,1801.1 L243.1,1801.5 L244.1,1800.5 L245.1,1801.5 L246.1,1800.7 L247.1,1801.5 L248.1,1800.8 L249.1,1801.2 L250.1,1801.1 L251.1,1800.5 L252.1,1801.5 L253.1,1801.5 L254.1,1801.5 L255.1,1801.5 L256.1,1801.5 L257.1,1801.5 L258.1,1801.0 L259.1,1801.5 L260.1,1801.1 L261.1,1801.5 L262.1,1801.1 L263.1,1801.4 L264.1,1800.8 L265.1,1800.2 L266.1,1800.9 L267.1,1800.9 L268.1,1801.5 L269.1,1801.5 L270.1,1800.4 L271.1,1801.5 L272.1,1801.4 L273.1,1801.1 L274.1,1800.8 L275.1,1801.5 L276.1,1801.3 L277.1,1801.0 L278.1,1800.7 L279.1,1801.3 L280.1,1801.4 L281.1,1800.7 L282.1,1800.8 L283.1,1801.5 L284.1,1801.1 L285.1,1801.4 L286.1,1801.3 L287.1,1801.5 L288.1,1801.2 L289.1,1801.4 L290.1,1801.5 L291.1,1801.4 L292.1,1801.5 L293.1,1801.5 L294.1,1801.5 L295.1,1800.4 L296.1,1800.8 L297.1,1801.5 L298.1,1800.8 L299.1,1801.5 L300.1,1800.7 L301.1,1801.0 L302.1,1800.8 L303.1,1800.9 L304.1,1801.5 L305.1,1801.5 L306.1,1801.3 L307.1,1801.2 L308.1,1800.8 L309.1,1800.3 L310.1,1801.3 L311.1,1800.5 L312.1,1801.1 L313.1,1801.1 L314.1,1801.5 L315.1,1801.3 L316.1,1801.1 L317.1,1801.5 L318.1,1801.5 L319.1,1801.4 L320.1,1800.9 L321.1,1801.0 L322.1,1801.5 L323.1,1801.0 L324.1,1801.5" fill="none" stroke="#6a6a6a" stroke-width="1.25" stroke-dasharray="5 3" stroke-linejoin="round"/>
<path d="M138.1,1797.4 L139.1,1798.4 L140.1,1798.6 L141.1,1799.6 L142.1,1798.2 L143.1,1798.0 L144.1,1798.6 L145.1,1798.5 L146.1,1799.5 L147.1,1797.2 L148.1,1798.0 L149.1,1798.6 L150.1,1797.8 L151.1,1798.0 L152.1,1798.2 L153.1,1798.5 L154.1,1798.2 L155.1,1797.6 L156.1,1797.0 L157.1,1796.6 L158.1,1796.6 L159.1,1795.8 L160.1,1796.4 L161.1,1797.4 L162.1,1797.1 L163.1,1794.6 L164.1,1797.0 L165.1,1795.9 L166.1,1794.7 L167.1,1793.3 L168.1,1796.2 L169.1,1794.9 L170.1,1794.2 L171.1,1793.8 L172.1,1792.8 L173.1,1791.8 L174.1,1791.8 L175.1,1789.1 L176.1,1790.2 L177.1,1793.5 L178.1,1793.4 L179.1,1791.7 L180.1,1791.6 L181.1,1789.7 L182.1,1790.1 L183.1,1789.6 L184.1,1790.2 L185.1,1789.1 L186.1,1788.7 L187.1,1788.9 L188.1,1787.3 L189.1,1789.6 L190.1,1786.0 L191.1,1786.2 L192.1,1782.9 L193.1,1786.7 L194.1,1788.5 L195.1,1786.9 L196.1,1785.9 L197.1,1786.4 L198.1,1786.8 L199.1,1785.2 L200.1,1786.5 L201.1,1782.5 L202.1,1785.9 L203.1,1782.2 L204.1,1780.8 L205.1,1780.8 L206.1,1778.6 L207.1,1779.4 L208.1,1778.0 L209.1,1780.3 L210.1,1780.7 L211.1,1779.2 L212.1,1777.7 L213.1,1775.8 L214.1,1779.1 L215.1,1777.7 L216.1,1777.6 L217.1,1774.6 L218.1,1776.0 L219.1,1771.4 L220.1,1772.3 L221.1,1771.6 L222.1,1770.9 L223.1,1773.7 L224.1,1776.5 L225.1,1774.0 L226.1,1775.2 L227.1,1770.6 L228.1,1774.0 L229.1,1773.7 L230.1,1775.7 L231.1,1776.9 L232.1,1779.6 L233.1,1779.8 L234.1,1775.6 L235.1,1779.3 L236.1,1779.9 L237.1,1778.8 L238.1,1781.3 L239.1,1782.3 L240.1,1779.6 L241.1,1782.7 L242.1,1784.2 L243.1,1784.8 L244.1,1785.9 L245.1,1785.1 L246.1,1785.7 L247.1,1788.0 L248.1,1788.1 L249.1,1790.3 L250.1,1788.9 L251.1,1788.0 L252.1,1790.7 L253.1,1790.2 L254.1,1791.6 L255.1,1791.9 L256.1,1791.6 L257.1,1793.5 L258.1,1791.4 L259.1,1791.3 L260.1,1791.3 L261.1,1793.6 L262.1,1794.7 L263.1,1793.0 L264.1,1792.1 L265.1,1792.2 L266.1,1792.3 L267.1,1791.9 L268.1,1792.3 L269.1,1791.1 L270.1,1793.4 L271.1,1791.1 L272.1,1790.7 L273.1,1791.7 L274.1,1786.2 L275.1,1790.1 L276.1,1789.8 L277.1,1791.3 L278.1,1789.2 L279.1,1789.0 L280.1,1787.6 L281.1,1789.4 L282.1,1786.7 L283.1,1789.2 L284.1,1786.5 L285.1,1788.0 L286.1,1784.5 L287.1,1782.4 L288.1,1785.0 L289.1,1780.9 L290.1,1780.8 L291.1,1783.3 L292.1,1781.4 L293.1,1779.5 L294.1,1776.4 L295.1,1773.7 L296.1,1776.2 L297.1,1775.9 L298.1,1775.3 L299.1,1780.6 L300.1,1776.8 L301.1,1779.5 L302.1,1781.2 L303.1,1779.5 L304.1,1783.0 L305.1,1785.0 L306.1,1784.1 L307.1,1787.9 L308.1,1788.9 L309.1,1790.8 L310.1,1791.5 L311.1,1791.8 L312.1,1792.4 L313.1,1794.8 L314.1,1793.1 L315.1,1795.8 L316.1,1796.7 L317.1,1796.3 L318.1,1797.8 L319.1,1797.2 L320.1,1797.0 L321.1,1797.6 L322.1,1799.0 L323.1,1798.3 L324.1,1799.4" fill="none" stroke="#333" stroke-width="1.0" stroke-linejoin="round"/>
</g>
<rect x="137.1" y="1681.4" width="188.0" height="120.3" fill="none" stroke="#000" stroke-width="1.8" />
<line x1="130.1" y1="1801.7" x2="137.1" y2="1801.7" stroke="#000" stroke-width="1.5" />
<text x="118.88" y="1807.55" font-size="16.96" textLength="9.43" lengthAdjust="spacingAndGlyphs" >0</text>
<line x1="133.3" y1="1796.9" x2="137.6" y2="1796.9" stroke="#000" stroke-width="1.2" />
<line x1="133.3" y1="1792.2" x2="137.6" y2="1792.2" stroke="#000" stroke-width="1.2" />
<line x1="133.3" y1="1787.4" x2="137.6" y2="1787.4" stroke="#000" stroke-width="1.2" />
<line x1="133.3" y1="1782.6" x2="137.6" y2="1782.6" stroke="#000" stroke-width="1.2" />
<line x1="130.1" y1="1777.8" x2="137.1" y2="1777.8" stroke="#000" stroke-width="1.5" />
<text x="109.47" y="1783.69" font-size="16.96" textLength="18.86" lengthAdjust="spacingAndGlyphs" >40</text>
<line x1="133.3" y1="1773.1" x2="137.6" y2="1773.1" stroke="#000" stroke-width="1.2" />
<line x1="133.3" y1="1768.3" x2="137.6" y2="1768.3" stroke="#000" stroke-width="1.2" />
<line x1="133.3" y1="1763.5" x2="137.6" y2="1763.5" stroke="#000" stroke-width="1.2" />
<line x1="133.3" y1="1758.8" x2="137.6" y2="1758.8" stroke="#000" stroke-width="1.2" />
<line x1="130.1" y1="1754.0" x2="137.1" y2="1754.0" stroke="#000" stroke-width="1.5" />
<text x="109.47" y="1759.83" font-size="16.96" textLength="18.86" lengthAdjust="spacingAndGlyphs" >80</text>
<line x1="133.3" y1="1749.2" x2="137.6" y2="1749.2" stroke="#000" stroke-width="1.2" />
<line x1="133.3" y1="1744.4" x2="137.6" y2="1744.4" stroke="#000" stroke-width="1.2" />
<line x1="133.3" y1="1739.7" x2="137.6" y2="1739.7" stroke="#000" stroke-width="1.2" />
<line x1="133.3" y1="1734.9" x2="137.6" y2="1734.9" stroke="#000" stroke-width="1.2" />
<line x1="130.1" y1="1730.1" x2="137.1" y2="1730.1" stroke="#000" stroke-width="1.5" />
<text x="100.06" y="1735.97" font-size="16.96" textLength="28.29" lengthAdjust="spacingAndGlyphs" >120</text>
<line x1="133.3" y1="1725.3" x2="137.6" y2="1725.3" stroke="#000" stroke-width="1.2" />
<line x1="133.3" y1="1720.6" x2="137.6" y2="1720.6" stroke="#000" stroke-width="1.2" />
<line x1="133.3" y1="1715.8" x2="137.6" y2="1715.8" stroke="#000" stroke-width="1.2" />
<line x1="133.3" y1="1711.0" x2="137.6" y2="1711.0" stroke="#000" stroke-width="1.2" />
<line x1="130.1" y1="1706.3" x2="137.1" y2="1706.3" stroke="#000" stroke-width="1.5" />
<text x="100.06" y="1712.11" font-size="16.96" textLength="28.29" lengthAdjust="spacingAndGlyphs" >160</text>
<line x1="133.3" y1="1701.5" x2="137.6" y2="1701.5" stroke="#000" stroke-width="1.2" />
<line x1="133.3" y1="1696.7" x2="137.6" y2="1696.7" stroke="#000" stroke-width="1.2" />
<line x1="133.3" y1="1691.9" x2="137.6" y2="1691.9" stroke="#000" stroke-width="1.2" />
<line x1="133.3" y1="1687.2" x2="137.6" y2="1687.2" stroke="#000" stroke-width="1.2" />
<line x1="130.1" y1="1682.4" x2="137.1" y2="1682.4" stroke="#000" stroke-width="1.5" />
<text x="100.06" y="1688.25" font-size="16.96" textLength="28.29" lengthAdjust="spacingAndGlyphs" >200</text>
<line x1="137.6" y1="1801.7" x2="137.6" y2="1807.7" stroke="#000" stroke-width="1.5" />
<line x1="151.6" y1="1801.7" x2="151.6" y2="1805.1" stroke="#000" stroke-width="1.2" />
<line x1="159.8" y1="1801.7" x2="159.8" y2="1805.1" stroke="#000" stroke-width="1.2" />
<line x1="165.7" y1="1801.7" x2="165.7" y2="1805.1" stroke="#000" stroke-width="1.2" />
<line x1="170.2" y1="1801.7" x2="170.2" y2="1805.1" stroke="#000" stroke-width="1.2" />
<line x1="173.9" y1="1801.7" x2="173.9" y2="1805.1" stroke="#000" stroke-width="1.2" />
<line x1="177.0" y1="1801.7" x2="177.0" y2="1805.1" stroke="#000" stroke-width="1.2" />
<line x1="179.7" y1="1801.7" x2="179.7" y2="1805.1" stroke="#000" stroke-width="1.2" />
<line x1="182.1" y1="1801.7" x2="182.1" y2="1805.1" stroke="#000" stroke-width="1.2" />
<text x="124.80" y="1824.10" font-size="16.67" textLength="18.54" lengthAdjust="spacingAndGlyphs" >10</text>
<text x="143.05" y="1818.90" font-size="11.74" textLength="6.53" lengthAdjust="spacingAndGlyphs" >0</text>
<line x1="184.2" y1="1801.7" x2="184.2" y2="1807.7" stroke="#000" stroke-width="1.5" />
<line x1="198.2" y1="1801.7" x2="198.2" y2="1805.1" stroke="#000" stroke-width="1.2" />
<line x1="206.4" y1="1801.7" x2="206.4" y2="1805.1" stroke="#000" stroke-width="1.2" />
<line x1="212.3" y1="1801.7" x2="212.3" y2="1805.1" stroke="#000" stroke-width="1.2" />
<line x1="216.8" y1="1801.7" x2="216.8" y2="1805.1" stroke="#000" stroke-width="1.2" />
<line x1="220.5" y1="1801.7" x2="220.5" y2="1805.1" stroke="#000" stroke-width="1.2" />
<line x1="223.6" y1="1801.7" x2="223.6" y2="1805.1" stroke="#000" stroke-width="1.2" />
<line x1="226.3" y1="1801.7" x2="226.3" y2="1805.1" stroke="#000" stroke-width="1.2" />
<line x1="228.7" y1="1801.7" x2="228.7" y2="1805.1" stroke="#000" stroke-width="1.2" />
<text x="171.66" y="1824.10" font-size="16.67" textLength="18.54" lengthAdjust="spacingAndGlyphs" >10</text>
<text x="189.50" y="1818.90" font-size="11.74" textLength="6.53" lengthAdjust="spacingAndGlyphs" >1</text>
<line x1="230.8" y1="1801.7" x2="230.8" y2="1807.7" stroke="#000" stroke-width="1.5" />
<line x1="244.8" y1="1801.7" x2="244.8" y2="1805.1" stroke="#000" stroke-width="1.2" />
<line x1="253.0" y1="1801.7" x2="253.0" y2="1805.1" stroke="#000" stroke-width="1.2" />
<line x1="258.9" y1="1801.7" x2="258.9" y2="1805.1" stroke="#000" stroke-width="1.2" />
<line x1="263.4" y1="1801.7" x2="263.4" y2="1805.1" stroke="#000" stroke-width="1.2" />
<line x1="267.1" y1="1801.7" x2="267.1" y2="1805.1" stroke="#000" stroke-width="1.2" />
<line x1="270.2" y1="1801.7" x2="270.2" y2="1805.1" stroke="#000" stroke-width="1.2" />
<line x1="272.9" y1="1801.7" x2="272.9" y2="1805.1" stroke="#000" stroke-width="1.2" />
<line x1="275.3" y1="1801.7" x2="275.3" y2="1805.1" stroke="#000" stroke-width="1.2" />
<text x="218.15" y="1824.10" font-size="16.67" textLength="18.54" lengthAdjust="spacingAndGlyphs" >10</text>
<text x="236.28" y="1818.90" font-size="11.74" textLength="6.53" lengthAdjust="spacingAndGlyphs" >2</text>
<line x1="277.4" y1="1801.7" x2="277.4" y2="1807.7" stroke="#000" stroke-width="1.5" />
<line x1="291.4" y1="1801.7" x2="291.4" y2="1805.1" stroke="#000" stroke-width="1.2" />
<line x1="299.6" y1="1801.7" x2="299.6" y2="1805.1" stroke="#000" stroke-width="1.2" />
<line x1="305.5" y1="1801.7" x2="305.5" y2="1805.1" stroke="#000" stroke-width="1.2" />
<line x1="310.0" y1="1801.7" x2="310.0" y2="1805.1" stroke="#000" stroke-width="1.2" />
<line x1="313.7" y1="1801.7" x2="313.7" y2="1805.1" stroke="#000" stroke-width="1.2" />
<line x1="316.8" y1="1801.7" x2="316.8" y2="1805.1" stroke="#000" stroke-width="1.2" />
<line x1="319.5" y1="1801.7" x2="319.5" y2="1805.1" stroke="#000" stroke-width="1.2" />
<line x1="321.9" y1="1801.7" x2="321.9" y2="1805.1" stroke="#000" stroke-width="1.2" />
<text x="264.63" y="1824.10" font-size="16.67" textLength="18.54" lengthAdjust="spacingAndGlyphs" >10</text>
<text x="282.88" y="1818.90" font-size="11.74" textLength="6.53" lengthAdjust="spacingAndGlyphs" >3</text>
<line x1="324.0" y1="1801.7" x2="324.0" y2="1807.7" stroke="#000" stroke-width="1.5" />
<text x="311.05" y="1824.10" font-size="16.67" textLength="18.54" lengthAdjust="spacingAndGlyphs" >10</text>
<text x="329.53" y="1818.90" font-size="11.74" textLength="6.53" lengthAdjust="spacingAndGlyphs" >4</text>
<text x="191.76" y="1703.70" font-size="19.86" textLength="82.00" lengthAdjust="spacingAndGlyphs" >HeLa/ctrl</text>
<g clip-path="url(#hc20)">
<path d="M138.1,1982.1 L138.1,1981.4 L139.1,1980.4 L140.1,1978.9 L141.1,1979.2 L142.1,1979.0 L143.1,1980.2 L144.1,1980.1 L145.1,1978.1 L146.1,1979.9 L147.1,1977.3 L148.1,1978.0 L149.1,1977.7 L150.1,1978.1 L151.1,1977.3 L152.1,1977.4 L153.1,1976.7 L154.1,1976.6 L155.1,1976.7 L156.1,1976.0 L157.1,1974.5 L158.1,1974.9 L159.1,1973.5 L160.1,1973.7 L161.1,1975.0 L162.1,1971.0 L163.1,1971.8 L164.1,1970.0 L165.1,1970.4 L166.1,1972.4 L167.1,1969.7 L168.1,1969.7 L169.1,1971.4 L170.1,1968.1 L171.1,1967.4 L172.1,1963.0 L173.1,1962.0 L174.1,1965.4 L175.1,1961.3 L176.1,1958.5 L177.1,1959.2 L178.1,1960.2 L179.1,1955.5 L180.1,1960.5 L181.1,1952.6 L182.1,1951.8 L183.1,1952.3 L184.1,1948.5 L185.1,1954.4 L186.1,1950.9 L187.1,1948.6 L188.1,1949.4 L189.1,1947.7 L190.1,1946.1 L191.1,1946.6 L192.1,1943.9 L193.1,1942.6 L194.1,1945.4 L195.1,1948.8 L196.1,1949.2 L197.1,1948.8 L198.1,1948.0 L199.1,1948.2 L200.1,1951.4 L201.1,1945.2 L202.1,1951.8 L203.1,1948.1 L204.1,1946.8 L205.1,1947.2 L206.1,1947.0 L207.1,1948.8 L208.1,1944.4 L209.1,1945.7 L210.1,1948.1 L211.1,1945.5 L212.1,1944.2 L213.1,1947.1 L214.1,1945.1 L215.1,1947.8 L216.1,1940.0 L217.1,1947.7 L218.1,1943.5 L219.1,1942.3 L220.1,1945.6 L221.1,1947.9 L222.1,1949.8 L223.1,1955.0 L224.1,1955.2 L225.1,1956.3 L226.1,1953.6 L227.1,1958.9 L228.1,1958.6 L229.1,1962.1 L230.1,1964.1 L231.1,1962.1 L232.1,1963.2 L233.1,1965.2 L234.1,1966.1 L235.1,1966.9 L236.1,1968.8 L237.1,1971.0 L238.1,1968.9 L239.1,1971.7 L240.1,1973.5 L241.1,1973.5 L242.1,1972.7 L243.1,1970.4 L244.1,1971.6 L245.1,1974.1 L246.1,1976.7 L247.1,1975.9 L248.1,1976.8 L249.1,1976.3 L250.1,1975.8 L251.1,1975.9 L252.1,1977.6 L253.1,1978.1 L254.1,1977.4 L255.1,1979.5 L256.1,1977.9 L257.1,1978.4 L258.1,1978.0 L259.1,1979.7 L260.1,1978.3 L261.1,1978.5 L262.1,1980.8 L263.1,1980.1 L264.1,1981.7 L265.1,1979.9 L266.1,1978.7 L267.1,1980.2 L268.1,1980.6 L269.1,1981.2 L270.1,1980.4 L271.1,1980.7 L272.1,1981.4 L273.1,1981.9 L274.1,1981.7 L275.1,1981.6 L276.1,1981.2 L277.1,1981.4 L278.1,1981.5 L279.1,1981.6 L280.1,1981.5 L281.1,1981.8 L282.1,1981.9 L283.1,1981.9 L284.1,1981.4 L285.1,1981.8 L286.1,1981.9 L287.1,1981.6 L288.1,1981.9 L289.1,1981.9 L290.1,1981.7 L291.1,1981.5 L292.1,1981.6 L293.1,1981.9 L294.1,1981.9 L295.1,1981.9 L296.1,1981.9 L297.1,1981.9 L298.1,1981.9 L299.1,1981.4 L300.1,1981.9 L301.1,1981.7 L302.1,1981.9 L303.1,1981.9 L304.1,1981.9 L305.1,1981.9 L306.1,1981.6 L307.1,1981.9 L308.1,1981.6 L309.1,1981.8 L310.1,1981.9 L311.1,1981.9 L312.1,1981.7 L313.1,1981.6 L314.1,1981.9 L315.1,1981.9 L316.1,1981.9 L317.1,1981.9 L318.1,1981.8 L319.1,1981.8 L320.1,1981.4 L321.1,1981.9 L322.1,1981.9 L323.1,1981.9 L324.1,1981.9 L324.1,1982.1 Z" fill="#cacaca" />
<line x1="138.4" y1="1982.1" x2="138.4" y2="1924.5" stroke="#555" stroke-width="1.6" />
<path d="M138.1,1942.9 L139.1,1935.6 L140.1,1923.0 L141.1,1910.8 L142.1,1896.2 L143.1,1895.6 L144.1,1893.3 L145.1,1885.1 L146.1,1886.6 L147.1,1893.9 L148.1,1897.0 L149.1,1898.0 L150.1,1909.3 L151.1,1911.5 L152.1,1919.5 L153.1,1922.3 L154.1,1926.9 L155.1,1933.6 L156.1,1946.0 L157.1,1946.9 L158.1,1955.0 L159.1,1961.3 L160.1,1963.8 L161.1,1967.0 L162.1,1973.3 L163.1,1971.7 L164.1,1973.8 L165.1,1974.3 L166.1,1973.3 L167.1,1976.5 L168.1,1975.7 L169.1,1976.5 L170.1,1976.7 L171.1,1976.5 L172.1,1977.0 L173.1,1977.7 L174.1,1977.2 L175.1,1977.3 L176.1,1977.8 L177.1,1978.7 L178.1,1977.7 L179.1,1978.6 L180.1,1979.1 L181.1,1979.4 L182.1,1979.5 L183.1,1977.7 L184.1,1978.7 L185.1,1979.4 L186.1,1979.7 L187.1,1979.5 L188.1,1979.6 L189.1,1979.4 L190.1,1981.1 L191.1,1980.5 L192.1,1980.8 L193.1,1980.5 L194.1,1981.5 L195.1,1981.3 L196.1,1981.9 L197.1,1980.3 L198.1,1981.6 L199.1,1981.6 L200.1,1980.2 L201.1,1981.9 L202.1,1981.9 L203.1,1980.6 L204.1,1980.6 L205.1,1980.8 L206.1,1981.0 L207.1,1980.7 L208.1,1981.9 L209.1,1981.9 L210.1,1981.8 L211.1,1980.8 L212.1,1981.3 L213.1,1981.6 L214.1,1981.3 L215.1,1981.0 L216.1,1981.4 L217.1,1981.4 L218.1,1981.1 L219.1,1981.5 L220.1,1981.9 L221.1,1981.9 L222.1,1981.6 L223.1,1981.6 L224.1,1981.0 L225.1,1981.2 L226.1,1981.5 L227.1,1981.5 L228.1,1980.9 L229.1,1981.3 L230.1,1981.0 L231.1,1981.7 L232.1,1981.3 L233.1,1981.6 L234.1,1981.9 L235.1,1981.9 L236.1,1981.4 L237.1,1981.1 L238.1,1981.0 L239.1,1981.5 L240.1,1981.6 L241.1,1981.9 L242.1,1981.5 L243.1,1981.9 L244.1,1981.9 L245.1,1981.9 L246.1,1981.8 L247.1,1981.7 L248.1,1981.9 L249.1,1981.4 L250.1,1981.6 L251.1,1981.0 L252.1,1981.1 L253.1,1981.6 L254.1,1981.0 L255.1,1981.9 L256.1,1981.9 L257.1,1981.7 L258.1,1981.8 L259.1,1981.9 L260.1,1981.9 L261.1,1981.0 L262.1,1981.9 L263.1,1981.9 L264.1,1981.8 L265.1,1981.5 L266.1,1981.4 L267.1,1981.1 L268.1,1981.9 L269.1,1981.9 L270.1,1981.9 L271.1,1981.5 L272.1,1981.9 L273.1,1981.8 L274.1,1981.1 L275.1,1981.9 L276.1,1981.9 L277.1,1981.2 L278.1,1981.1 L279.1,1981.9 L280.1,1981.9 L281.1,1981.9 L282.1,1981.6 L283.1,1981.9 L284.1,1981.9 L285.1,1981.5 L286.1,1981.2 L287.1,1981.5 L288.1,1981.9 L289.1,1981.9 L290.1,1981.9 L291.1,1980.7 L292.1,1981.8 L293.1,1981.9 L294.1,1981.6 L295.1,1980.7 L296.1,1981.9 L297.1,1981.9 L298.1,1981.7 L299.1,1981.5 L300.1,1981.4 L301.1,1980.8 L302.1,1981.9 L303.1,1981.5 L304.1,1981.9 L305.1,1981.9 L306.1,1981.8 L307.1,1981.5 L308.1,1981.5 L309.1,1981.8 L310.1,1981.3 L311.1,1981.8 L312.1,1981.4 L313.1,1981.7 L314.1,1981.7 L315.1,1981.9 L316.1,1981.7 L317.1,1981.7 L318.1,1981.3 L319.1,1981.6 L320.1,1981.9 L321.1,1981.3 L322.1,1981.5 L323.1,1981.5 L324.1,1981.9" fill="none" stroke="#6a6a6a" stroke-width="1.25" stroke-dasharray="5 3" stroke-linejoin="round"/>
<path d="M138.1,1978.0 L139.1,1978.5 L140.1,1979.7 L141.1,1979.5 L142.1,1978.9 L143.1,1980.0 L144.1,1978.3 L145.1,1979.7 L146.1,1978.7 L147.1,1979.7 L148.1,1978.4 L149.1,1977.7 L150.1,1977.5 L151.1,1977.9 L152.1,1980.1 L153.1,1978.4 L154.1,1977.7 L155.1,1976.4 L156.1,1977.1 L157.1,1975.7 L158.1,1975.7 L159.1,1976.0 L160.1,1973.4 L161.1,1973.6 L162.1,1973.9 L163.1,1973.0 L164.1,1971.4 L165.1,1973.0 L166.1,1974.0 L167.1,1971.4 L168.1,1974.4 L169.1,1971.5 L170.1,1969.9 L171.1,1970.4 L172.1,1970.4 L173.1,1971.4 L174.1,1970.9 L175.1,1968.5 L176.1,1969.5 L177.1,1964.2 L178.1,1966.0 L179.1,1963.3 L180.1,1962.7 L181.1,1963.7 L182.1,1961.1 L183.1,1960.8 L184.1,1959.8 L185.1,1959.2 L186.1,1958.7 L187.1,1956.6 L188.1,1957.3 L189.1,1959.4 L190.1,1956.1 L191.1,1956.6 L192.1,1958.9 L193.1,1955.0 L194.1,1957.3 L195.1,1957.4 L196.1,1954.3 L197.1,1959.3 L198.1,1950.1 L199.1,1956.5 L200.1,1950.1 L201.1,1956.7 L202.1,1954.6 L203.1,1956.4 L204.1,1954.9 L205.1,1953.6 L206.1,1951.2 L207.1,1953.0 L208.1,1949.3 L209.1,1951.6 L210.1,1946.8 L211.1,1949.8 L212.1,1950.5 L213.1,1950.3 L214.1,1949.0 L215.1,1953.3 L216.1,1948.8 L217.1,1951.8 L218.1,1950.4 L219.1,1951.0 L220.1,1955.9 L221.1,1955.1 L222.1,1956.7 L223.1,1956.6 L224.1,1954.6 L225.1,1955.4 L226.1,1956.9 L227.1,1962.2 L228.1,1963.8 L229.1,1963.9 L230.1,1964.1 L231.1,1963.5 L232.1,1964.8 L233.1,1968.7 L234.1,1965.7 L235.1,1966.9 L236.1,1969.9 L237.1,1970.4 L238.1,1969.6 L239.1,1971.4 L240.1,1970.9 L241.1,1971.2 L242.1,1969.3 L243.1,1971.0 L244.1,1974.4 L245.1,1972.1 L246.1,1974.2 L247.1,1972.9 L248.1,1972.0 L249.1,1972.5 L250.1,1974.2 L251.1,1972.6 L252.1,1974.3 L253.1,1974.2 L254.1,1973.9 L255.1,1974.6 L256.1,1974.3 L257.1,1976.2 L258.1,1975.8 L259.1,1975.7 L260.1,1974.4 L261.1,1974.8 L262.1,1974.4 L263.1,1972.7 L264.1,1974.5 L265.1,1974.4 L266.1,1974.0 L267.1,1973.4 L268.1,1971.4 L269.1,1971.5 L270.1,1973.3 L271.1,1971.5 L272.1,1972.5 L273.1,1968.3 L274.1,1968.1 L275.1,1971.6 L276.1,1967.9 L277.1,1968.2 L278.1,1967.4 L279.1,1966.7 L280.1,1964.1 L281.1,1962.4 L282.1,1963.5 L283.1,1960.5 L284.1,1960.0 L285.1,1960.0 L286.1,1957.5 L287.1,1957.3 L288.1,1963.0 L289.1,1961.5 L290.1,1962.1 L291.1,1962.7 L292.1,1961.9 L293.1,1966.3 L294.1,1966.5 L295.1,1969.4 L296.1,1969.6 L297.1,1974.4 L298.1,1975.0 L299.1,1974.8 L300.1,1975.1 L301.1,1976.7 L302.1,1976.9 L303.1,1976.2 L304.1,1979.0 L305.1,1978.6 L306.1,1980.1 L307.1,1978.7 L308.1,1979.4 L309.1,1980.2 L310.1,1978.9 L311.1,1979.7 L312.1,1979.7 L313.1,1978.9 L314.1,1978.9 L315.1,1979.8 L316.1,1980.4 L317.1,1979.9 L318.1,1980.8 L319.1,1979.8 L320.1,1980.9 L321.1,1980.6 L322.1,1980.5 L323.1,1979.7 L324.1,1980.0" fill="none" stroke="#333" stroke-width="1.0" stroke-linejoin="round"/>
</g>
<rect x="137.1" y="1862.3" width="188.0" height="119.8" fill="none" stroke="#000" stroke-width="1.8" />
<line x1="130.1" y1="1982.1" x2="137.1" y2="1982.1" stroke="#000" stroke-width="1.5" />
<text x="118.88" y="1987.95" font-size="16.96" textLength="9.43" lengthAdjust="spacingAndGlyphs" >0</text>
<line x1="133.3" y1="1977.3" x2="137.6" y2="1977.3" stroke="#000" stroke-width="1.2" />
<line x1="133.3" y1="1972.6" x2="137.6" y2="1972.6" stroke="#000" stroke-width="1.2" />
<line x1="133.3" y1="1967.8" x2="137.6" y2="1967.8" stroke="#000" stroke-width="1.2" />
<line x1="133.3" y1="1963.1" x2="137.6" y2="1963.1" stroke="#000" stroke-width="1.2" />
<line x1="130.1" y1="1958.3" x2="137.1" y2="1958.3" stroke="#000" stroke-width="1.5" />
<text x="109.47" y="1964.19" font-size="16.96" textLength="18.86" lengthAdjust="spacingAndGlyphs" >40</text>
<line x1="133.3" y1="1953.6" x2="137.6" y2="1953.6" stroke="#000" stroke-width="1.2" />
<line x1="133.3" y1="1948.8" x2="137.6" y2="1948.8" stroke="#000" stroke-width="1.2" />
<line x1="133.3" y1="1944.1" x2="137.6" y2="1944.1" stroke="#000" stroke-width="1.2" />
<line x1="133.3" y1="1939.3" x2="137.6" y2="1939.3" stroke="#000" stroke-width="1.2" />
<line x1="130.1" y1="1934.6" x2="137.1" y2="1934.6" stroke="#000" stroke-width="1.5" />
<text x="109.47" y="1940.43" font-size="16.96" textLength="18.86" lengthAdjust="spacingAndGlyphs" >80</text>
<line x1="133.3" y1="1929.8" x2="137.6" y2="1929.8" stroke="#000" stroke-width="1.2" />
<line x1="133.3" y1="1925.1" x2="137.6" y2="1925.1" stroke="#000" stroke-width="1.2" />
<line x1="133.3" y1="1920.3" x2="137.6" y2="1920.3" stroke="#000" stroke-width="1.2" />
<line x1="133.3" y1="1915.6" x2="137.6" y2="1915.6" stroke="#000" stroke-width="1.2" />
<line x1="130.1" y1="1910.8" x2="137.1" y2="1910.8" stroke="#000" stroke-width="1.5" />
<text x="100.06" y="1916.67" font-size="16.96" textLength="28.29" lengthAdjust="spacingAndGlyphs" >120</text>
<line x1="133.3" y1="1906.1" x2="137.6" y2="1906.1" stroke="#000" stroke-width="1.2" />
<line x1="133.3" y1="1901.3" x2="137.6" y2="1901.3" stroke="#000" stroke-width="1.2" />
<line x1="133.3" y1="1896.6" x2="137.6" y2="1896.6" stroke="#000" stroke-width="1.2" />
<line x1="133.3" y1="1891.8" x2="137.6" y2="1891.8" stroke="#000" stroke-width="1.2" />
<line x1="130.1" y1="1887.1" x2="137.1" y2="1887.1" stroke="#000" stroke-width="1.5" />
<text x="100.06" y="1892.91" font-size="16.96" textLength="28.29" lengthAdjust="spacingAndGlyphs" >160</text>
<line x1="133.3" y1="1882.3" x2="137.6" y2="1882.3" stroke="#000" stroke-width="1.2" />
<line x1="133.3" y1="1877.6" x2="137.6" y2="1877.6" stroke="#000" stroke-width="1.2" />
<line x1="133.3" y1="1872.8" x2="137.6" y2="1872.8" stroke="#000" stroke-width="1.2" />
<line x1="133.3" y1="1868.1" x2="137.6" y2="1868.1" stroke="#000" stroke-width="1.2" />
<line x1="130.1" y1="1863.3" x2="137.1" y2="1863.3" stroke="#000" stroke-width="1.5" />
<text x="100.06" y="1869.15" font-size="16.96" textLength="28.29" lengthAdjust="spacingAndGlyphs" >200</text>
<line x1="137.6" y1="1982.1" x2="137.6" y2="1988.1" stroke="#000" stroke-width="1.5" />
<line x1="151.6" y1="1982.1" x2="151.6" y2="1985.5" stroke="#000" stroke-width="1.2" />
<line x1="159.8" y1="1982.1" x2="159.8" y2="1985.5" stroke="#000" stroke-width="1.2" />
<line x1="165.7" y1="1982.1" x2="165.7" y2="1985.5" stroke="#000" stroke-width="1.2" />
<line x1="170.2" y1="1982.1" x2="170.2" y2="1985.5" stroke="#000" stroke-width="1.2" />
<line x1="173.9" y1="1982.1" x2="173.9" y2="1985.5" stroke="#000" stroke-width="1.2" />
<line x1="177.0" y1="1982.1" x2="177.0" y2="1985.5" stroke="#000" stroke-width="1.2" />
<line x1="179.7" y1="1982.1" x2="179.7" y2="1985.5" stroke="#000" stroke-width="1.2" />
<line x1="182.1" y1="1982.1" x2="182.1" y2="1985.5" stroke="#000" stroke-width="1.2" />
<text x="124.80" y="2004.50" font-size="16.67" textLength="18.54" lengthAdjust="spacingAndGlyphs" >10</text>
<text x="143.05" y="1999.30" font-size="11.74" textLength="6.53" lengthAdjust="spacingAndGlyphs" >0</text>
<line x1="184.2" y1="1982.1" x2="184.2" y2="1988.1" stroke="#000" stroke-width="1.5" />
<line x1="198.2" y1="1982.1" x2="198.2" y2="1985.5" stroke="#000" stroke-width="1.2" />
<line x1="206.4" y1="1982.1" x2="206.4" y2="1985.5" stroke="#000" stroke-width="1.2" />
<line x1="212.3" y1="1982.1" x2="212.3" y2="1985.5" stroke="#000" stroke-width="1.2" />
<line x1="216.8" y1="1982.1" x2="216.8" y2="1985.5" stroke="#000" stroke-width="1.2" />
<line x1="220.5" y1="1982.1" x2="220.5" y2="1985.5" stroke="#000" stroke-width="1.2" />
<line x1="223.6" y1="1982.1" x2="223.6" y2="1985.5" stroke="#000" stroke-width="1.2" />
<line x1="226.3" y1="1982.1" x2="226.3" y2="1985.5" stroke="#000" stroke-width="1.2" />
<line x1="228.7" y1="1982.1" x2="228.7" y2="1985.5" stroke="#000" stroke-width="1.2" />
<text x="171.66" y="2004.50" font-size="16.67" textLength="18.54" lengthAdjust="spacingAndGlyphs" >10</text>
<text x="189.50" y="1999.30" font-size="11.74" textLength="6.53" lengthAdjust="spacingAndGlyphs" >1</text>
<line x1="230.8" y1="1982.1" x2="230.8" y2="1988.1" stroke="#000" stroke-width="1.5" />
<line x1="244.8" y1="1982.1" x2="244.8" y2="1985.5" stroke="#000" stroke-width="1.2" />
<line x1="253.0" y1="1982.1" x2="253.0" y2="1985.5" stroke="#000" stroke-width="1.2" />
<line x1="258.9" y1="1982.1" x2="258.9" y2="1985.5" stroke="#000" stroke-width="1.2" />
<line x1="263.4" y1="1982.1" x2="263.4" y2="1985.5" stroke="#000" stroke-width="1.2" />
<line x1="267.1" y1="1982.1" x2="267.1" y2="1985.5" stroke="#000" stroke-width="1.2" />
<line x1="270.2" y1="1982.1" x2="270.2" y2="1985.5" stroke="#000" stroke-width="1.2" />
<line x1="272.9" y1="1982.1" x2="272.9" y2="1985.5" stroke="#000" stroke-width="1.2" />
<line x1="275.3" y1="1982.1" x2="275.3" y2="1985.5" stroke="#000" stroke-width="1.2" />
<text x="218.15" y="2004.50" font-size="16.67" textLength="18.54" lengthAdjust="spacingAndGlyphs" >10</text>
<text x="236.28" y="1999.30" font-size="11.74" textLength="6.53" lengthAdjust="spacingAndGlyphs" >2</text>
<line x1="277.4" y1="1982.1" x2="277.4" y2="1988.1" stroke="#000" stroke-width="1.5" />
<line x1="291.4" y1="1982.1" x2="291.4" y2="1985.5" stroke="#000" stroke-width="1.2" />
<line x1="299.6" y1="1982.1" x2="299.6" y2="1985.5" stroke="#000" stroke-width="1.2" />
<line x1="305.5" y1="1982.1" x2="305.5" y2="1985.5" stroke="#000" stroke-width="1.2" />
<line x1="310.0" y1="1982.1" x2="310.0" y2="1985.5" stroke="#000" stroke-width="1.2" />
<line x1="313.7" y1="1982.1" x2="313.7" y2="1985.5" stroke="#000" stroke-width="1.2" />
<line x1="316.8" y1="1982.1" x2="316.8" y2="1985.5" stroke="#000" stroke-width="1.2" />
<line x1="319.5" y1="1982.1" x2="319.5" y2="1985.5" stroke="#000" stroke-width="1.2" />
<line x1="321.9" y1="1982.1" x2="321.9" y2="1985.5" stroke="#000" stroke-width="1.2" />
<text x="264.63" y="2004.50" font-size="16.67" textLength="18.54" lengthAdjust="spacingAndGlyphs" >10</text>
<text x="282.88" y="1999.30" font-size="11.74" textLength="6.53" lengthAdjust="spacingAndGlyphs" >3</text>
<line x1="324.0" y1="1982.1" x2="324.0" y2="1988.1" stroke="#000" stroke-width="1.5" />
<text x="311.05" y="2004.50" font-size="16.67" textLength="18.54" lengthAdjust="spacingAndGlyphs" >10</text>
<text x="329.53" y="1999.30" font-size="11.74" textLength="6.53" lengthAdjust="spacingAndGlyphs" >4</text>
<text x="199.19" y="1882.90" font-size="19.86" textLength="68.23" lengthAdjust="spacingAndGlyphs" >HeLa/N</text>
<g clip-path="url(#hc11)">
<path d="M371.6,1801.7 L371.6,1801.5 L372.6,1801.5 L373.6,1801.1 L374.6,1801.5 L375.6,1801.5 L376.6,1800.9 L377.6,1801.1 L378.6,1800.9 L379.6,1801.5 L380.6,1800.9 L381.6,1801.2 L382.6,1801.1 L383.6,1800.6 L384.6,1799.3 L385.6,1799.1 L386.6,1797.6 L387.6,1798.0 L388.6,1798.8 L389.6,1797.7 L390.6,1798.1 L391.6,1796.2 L392.6,1796.0 L393.6,1795.2 L394.6,1793.6 L395.6,1790.8 L396.6,1793.3 L397.6,1790.3 L398.6,1789.0 L399.6,1788.8 L400.6,1785.7 L401.6,1783.7 L402.6,1778.0 L403.6,1780.2 L404.6,1779.2 L405.6,1775.5 L406.6,1777.0 L407.6,1772.7 L408.6,1776.6 L409.6,1775.2 L410.6,1775.8 L411.6,1774.0 L412.6,1770.5 L413.6,1769.5 L414.6,1770.1 L415.6,1769.5 L416.6,1770.0 L417.6,1763.6 L418.6,1761.7 L419.6,1761.6 L420.6,1758.9 L421.6,1763.2 L422.6,1765.3 L423.6,1767.6 L424.6,1765.1 L425.6,1763.2 L426.6,1761.4 L427.6,1764.8 L428.6,1768.0 L429.6,1761.8 L430.6,1761.2 L431.6,1767.2 L432.6,1762.7 L433.6,1770.7 L434.6,1765.1 L435.6,1771.5 L436.6,1769.7 L437.6,1766.6 L438.6,1768.4 L439.6,1765.1 L440.6,1770.2 L441.6,1767.6 L442.6,1767.8 L443.6,1770.6 L444.6,1770.5 L445.6,1769.9 L446.6,1771.4 L447.6,1771.9 L448.6,1773.7 L449.6,1777.4 L450.6,1777.0 L451.6,1777.9 L452.6,1774.5 L453.6,1780.1 L454.6,1779.7 L455.6,1783.8 L456.6,1779.1 L457.6,1781.9 L458.6,1781.5 L459.6,1782.5 L460.6,1783.5 L461.6,1782.3 L462.6,1783.1 L463.6,1784.2 L464.6,1784.7 L465.6,1787.5 L466.6,1790.2 L467.6,1788.6 L468.6,1790.0 L469.6,1789.7 L470.6,1792.1 L471.6,1791.8 L472.6,1792.8 L473.6,1791.4 L474.6,1792.7 L475.6,1794.0 L476.6,1793.3 L477.6,1795.4 L478.6,1796.1 L479.6,1796.2 L480.6,1795.8 L481.6,1796.4 L482.6,1795.5 L483.6,1797.3 L484.6,1797.0 L485.6,1798.5 L486.6,1799.4 L487.6,1798.3 L488.6,1796.9 L489.6,1796.8 L490.6,1797.4 L491.6,1799.7 L492.6,1799.0 L493.6,1799.4 L494.6,1799.4 L495.6,1799.4 L496.6,1799.8 L497.6,1799.6 L498.6,1799.3 L499.6,1799.2 L500.6,1800.7 L501.6,1799.8 L502.6,1800.8 L503.6,1801.4 L504.6,1801.0 L505.6,1800.8 L506.6,1800.7 L507.6,1801.2 L508.6,1801.0 L509.6,1801.0 L510.6,1801.4 L511.6,1801.0 L512.6,1801.5 L513.6,1801.4 L514.6,1801.5 L515.6,1801.5 L516.6,1801.3 L517.6,1801.5 L518.6,1801.1 L519.6,1801.5 L520.6,1801.3 L521.6,1801.1 L522.6,1801.4 L523.6,1801.5 L524.6,1801.5 L525.6,1801.5 L526.6,1801.4 L527.6,1801.5 L528.6,1801.5 L529.6,1801.5 L530.6,1801.3 L531.6,1801.5 L532.6,1801.5 L533.6,1801.0 L534.6,1801.5 L535.6,1801.2 L536.6,1800.7 L537.6,1801.5 L538.6,1800.8 L539.6,1801.5 L540.6,1801.5 L541.6,1801.4 L542.6,1801.5 L543.6,1801.3 L544.6,1801.5 L545.6,1801.5 L546.6,1801.5 L547.6,1801.5 L548.6,1801.5 L549.6,1801.3 L550.6,1801.5 L551.6,1801.5 L552.6,1801.5 L553.6,1801.5 L554.6,1801.4 L555.6,1801.5 L556.6,1800.9 L557.6,1801.5 L557.6,1801.7 Z" fill="#cacaca" />
<line x1="371.9" y1="1801.7" x2="371.9" y2="1765.9" stroke="#555" stroke-width="1.6" />
<path d="M371.6,1800.6 L372.6,1798.4 L373.6,1798.1 L374.6,1796.8 L375.6,1793.4 L376.6,1794.9 L377.6,1791.9 L378.6,1789.6 L379.6,1789.5 L380.6,1786.1 L381.6,1783.1 L382.6,1783.5 L383.6,1780.9 L384.6,1775.5 L385.6,1772.6 L386.6,1767.6 L387.6,1763.4 L388.6,1758.5 L389.6,1754.7 L390.6,1748.8 L391.6,1745.3 L392.6,1738.9 L393.6,1729.8 L394.6,1728.4 L395.6,1726.3 L396.6,1717.9 L397.6,1716.9 L398.6,1719.6 L399.6,1710.9 L400.6,1717.7 L401.6,1716.7 L402.6,1721.7 L403.6,1726.4 L404.6,1731.2 L405.6,1728.2 L406.6,1736.2 L407.6,1742.2 L408.6,1750.1 L409.6,1754.8 L410.6,1759.1 L411.6,1767.4 L412.6,1771.6 L413.6,1781.0 L414.6,1787.2 L415.6,1789.0 L416.6,1790.5 L417.6,1795.0 L418.6,1795.9 L419.6,1796.1 L420.6,1796.1 L421.6,1797.2 L422.6,1797.0 L423.6,1795.2 L424.6,1795.9 L425.6,1797.9 L426.6,1798.5 L427.6,1798.7 L428.6,1798.8 L429.6,1799.7 L430.6,1798.9 L431.6,1799.6 L432.6,1799.4 L433.6,1798.9 L434.6,1799.6 L435.6,1800.4 L436.6,1801.2 L437.6,1800.1 L438.6,1801.0 L439.6,1801.3 L440.6,1800.8 L441.6,1801.5 L442.6,1801.1 L443.6,1801.0 L444.6,1801.3 L445.6,1801.5 L446.6,1801.5 L447.6,1801.1 L448.6,1801.5 L449.6,1800.7 L450.6,1800.9 L451.6,1801.5 L452.6,1801.5 L453.6,1801.0 L454.6,1800.7 L455.6,1801.2 L456.6,1801.0 L457.6,1800.7 L458.6,1801.2 L459.6,1801.5 L460.6,1800.7 L461.6,1801.1 L462.6,1801.5 L463.6,1800.3 L464.6,1801.5 L465.6,1801.5 L466.6,1801.4 L467.6,1800.5 L468.6,1801.5 L469.6,1801.4 L470.6,1801.5 L471.6,1800.7 L472.6,1801.5 L473.6,1800.4 L474.6,1801.5 L475.6,1801.5 L476.6,1801.5 L477.6,1801.5 L478.6,1800.9 L479.6,1801.2 L480.6,1801.5 L481.6,1800.6 L482.6,1800.5 L483.6,1801.5 L484.6,1801.3 L485.6,1801.5 L486.6,1801.3 L487.6,1801.0 L488.6,1801.5 L489.6,1801.2 L490.6,1800.6 L491.6,1801.5 L492.6,1801.2 L493.6,1800.8 L494.6,1801.0 L495.6,1801.5 L496.6,1800.9 L497.6,1801.5 L498.6,1801.5 L499.6,1801.1 L500.6,1801.2 L501.6,1801.5 L502.6,1801.5 L503.6,1801.3 L504.6,1801.5 L505.6,1801.1 L506.6,1801.0 L507.6,1801.4 L508.6,1801.5 L509.6,1801.5 L510.6,1800.9 L511.6,1800.3 L512.6,1800.8 L513.6,1801.1 L514.6,1800.7 L515.6,1801.5 L516.6,1801.5 L517.6,1801.4 L518.6,1801.5 L519.6,1801.2 L520.6,1800.7 L521.6,1801.2 L522.6,1801.4 L523.6,1800.3 L524.6,1800.5 L525.6,1801.1 L526.6,1801.3 L527.6,1801.5 L528.6,1801.4 L529.6,1801.5 L530.6,1801.5 L531.6,1801.3 L532.6,1801.5 L533.6,1801.3 L534.6,1801.1 L535.6,1800.8 L536.6,1801.5 L537.6,1801.5 L538.6,1801.1 L539.6,1801.1 L540.6,1801.2 L541.6,1800.3 L542.6,1801.5 L543.6,1801.1 L544.6,1801.5 L545.6,1800.1 L546.6,1800.7 L547.6,1801.5 L548.6,1801.5 L549.6,1800.7 L550.6,1801.5 L551.6,1800.5 L552.6,1801.3 L553.6,1801.5 L554.6,1801.5 L555.6,1801.3 L556.6,1801.0 L557.6,1800.9" fill="none" stroke="#6a6a6a" stroke-width="1.25" stroke-dasharray="5 3" stroke-linejoin="round"/>
<path d="M371.6,1796.7 L372.6,1798.0 L373.6,1798.3 L374.6,1798.4 L375.6,1798.9 L376.6,1798.5 L377.6,1797.1 L378.6,1799.4 L379.6,1798.6 L380.6,1797.3 L381.6,1798.9 L382.6,1798.3 L383.6,1799.0 L384.6,1798.0 L385.6,1800.2 L386.6,1797.9 L387.6,1798.3 L388.6,1798.2 L389.6,1799.0 L390.6,1795.6 L391.6,1796.9 L392.6,1797.9 L393.6,1797.1 L394.6,1797.1 L395.6,1795.2 L396.6,1794.6 L397.6,1795.4 L398.6,1794.4 L399.6,1794.8 L400.6,1794.6 L401.6,1793.2 L402.6,1792.1 L403.6,1792.5 L404.6,1793.6 L405.6,1791.5 L406.6,1794.4 L407.6,1791.1 L408.6,1790.2 L409.6,1791.4 L410.6,1790.7 L411.6,1791.2 L412.6,1791.1 L413.6,1792.4 L414.6,1793.0 L415.6,1790.1 L416.6,1789.9 L417.6,1791.4 L418.6,1790.8 L419.6,1787.9 L420.6,1787.1 L421.6,1785.7 L422.6,1785.8 L423.6,1788.3 L424.6,1788.8 L425.6,1786.0 L426.6,1787.1 L427.6,1785.7 L428.6,1784.1 L429.6,1783.0 L430.6,1787.3 L431.6,1784.4 L432.6,1786.5 L433.6,1786.1 L434.6,1782.2 L435.6,1785.6 L436.6,1785.3 L437.6,1782.2 L438.6,1783.3 L439.6,1781.4 L440.6,1780.8 L441.6,1779.9 L442.6,1776.2 L443.6,1778.7 L444.6,1778.7 L445.6,1777.4 L446.6,1775.8 L447.6,1778.4 L448.6,1777.2 L449.6,1779.0 L450.6,1773.0 L451.6,1776.4 L452.6,1772.1 L453.6,1770.1 L454.6,1770.7 L455.6,1770.6 L456.6,1770.6 L457.6,1769.6 L458.6,1775.5 L459.6,1773.6 L460.6,1771.8 L461.6,1774.5 L462.6,1771.9 L463.6,1777.2 L464.6,1776.4 L465.6,1775.2 L466.6,1777.9 L467.6,1781.8 L468.6,1780.0 L469.6,1779.6 L470.6,1778.3 L471.6,1779.7 L472.6,1782.6 L473.6,1781.3 L474.6,1784.8 L475.6,1781.7 L476.6,1784.7 L477.6,1783.6 L478.6,1786.7 L479.6,1786.2 L480.6,1785.9 L481.6,1789.6 L482.6,1788.0 L483.6,1789.7 L484.6,1788.6 L485.6,1789.6 L486.6,1788.6 L487.6,1791.4 L488.6,1792.9 L489.6,1791.0 L490.6,1792.2 L491.6,1793.3 L492.6,1793.9 L493.6,1793.0 L494.6,1791.1 L495.6,1791.2 L496.6,1792.0 L497.6,1791.3 L498.6,1792.6 L499.6,1791.1 L500.6,1790.5 L501.6,1792.7 L502.6,1792.5 L503.6,1791.7 L504.6,1791.4 L505.6,1789.6 L506.6,1789.8 L507.6,1792.7 L508.6,1789.2 L509.6,1788.1 L510.6,1790.2 L511.6,1789.9 L512.6,1788.8 L513.6,1788.4 L514.6,1789.2 L515.6,1787.3 L516.6,1786.3 L517.6,1786.6 L518.6,1784.4 L519.6,1784.3 L520.6,1783.1 L521.6,1779.3 L522.6,1781.4 L523.6,1780.1 L524.6,1779.8 L525.6,1781.1 L526.6,1780.2 L527.6,1774.3 L528.6,1779.1 L529.6,1776.4 L530.6,1775.3 L531.6,1775.7 L532.6,1777.1 L533.6,1776.7 L534.6,1777.6 L535.6,1781.8 L536.6,1781.6 L537.6,1783.9 L538.6,1783.5 L539.6,1782.3 L540.6,1785.7 L541.6,1790.6 L542.6,1790.7 L543.6,1790.6 L544.6,1791.6 L545.6,1790.5 L546.6,1792.9 L547.6,1795.2 L548.6,1796.4 L549.6,1796.6 L550.6,1797.9 L551.6,1800.3 L552.6,1798.0 L553.6,1797.0 L554.6,1797.6 L555.6,1799.1 L556.6,1798.8 L557.6,1798.8" fill="none" stroke="#333" stroke-width="1.0" stroke-linejoin="round"/>
</g>
<rect x="370.6" y="1681.4" width="188.0" height="120.3" fill="none" stroke="#000" stroke-width="1.8" />
<line x1="363.6" y1="1801.7" x2="370.6" y2="1801.7" stroke="#000" stroke-width="1.5" />
<text x="352.38" y="1807.55" font-size="16.96" textLength="9.43" lengthAdjust="spacingAndGlyphs" >0</text>
<line x1="366.8" y1="1796.9" x2="371.1" y2="1796.9" stroke="#000" stroke-width="1.2" />
<line x1="366.8" y1="1792.2" x2="371.1" y2="1792.2" stroke="#000" stroke-width="1.2" />
<line x1="366.8" y1="1787.4" x2="371.1" y2="1787.4" stroke="#000" stroke-width="1.2" />
<line x1="366.8" y1="1782.6" x2="371.1" y2="1782.6" stroke="#000" stroke-width="1.2" />
<line x1="363.6" y1="1777.8" x2="370.6" y2="1777.8" stroke="#000" stroke-width="1.5" />
<text x="342.97" y="1783.69" font-size="16.96" textLength="18.86" lengthAdjust="spacingAndGlyphs" >40</text>
<line x1="366.8" y1="1773.1" x2="371.1" y2="1773.1" stroke="#000" stroke-width="1.2" />
<line x1="366.8" y1="1768.3" x2="371.1" y2="1768.3" stroke="#000" stroke-width="1.2" />
<line x1="366.8" y1="1763.5" x2="371.1" y2="1763.5" stroke="#000" stroke-width="1.2" />
<line x1="366.8" y1="1758.8" x2="371.1" y2="1758.8" stroke="#000" stroke-width="1.2" />
<line x1="363.6" y1="1754.0" x2="370.6" y2="1754.0" stroke="#000" stroke-width="1.5" />
<text x="342.97" y="1759.83" font-size="16.96" textLength="18.86" lengthAdjust="spacingAndGlyphs" >80</text>
<line x1="366.8" y1="1749.2" x2="371.1" y2="1749.2" stroke="#000" stroke-width="1.2" />
<line x1="366.8" y1="1744.4" x2="371.1" y2="1744.4" stroke="#000" stroke-width="1.2" />
<line x1="366.8" y1="1739.7" x2="371.1" y2="1739.7" stroke="#000" stroke-width="1.2" />
<line x1="366.8" y1="1734.9" x2="371.1" y2="1734.9" stroke="#000" stroke-width="1.2" />
<line x1="363.6" y1="1730.1" x2="370.6" y2="1730.1" stroke="#000" stroke-width="1.5" />
<text x="333.56" y="1735.97" font-size="16.96" textLength="28.29" lengthAdjust="spacingAndGlyphs" >120</text>
<line x1="366.8" y1="1725.3" x2="371.1" y2="1725.3" stroke="#000" stroke-width="1.2" />
<line x1="366.8" y1="1720.6" x2="371.1" y2="1720.6" stroke="#000" stroke-width="1.2" />
<line x1="366.8" y1="1715.8" x2="371.1" y2="1715.8" stroke="#000" stroke-width="1.2" />
<line x1="366.8" y1="1711.0" x2="371.1" y2="1711.0" stroke="#000" stroke-width="1.2" />
<line x1="363.6" y1="1706.3" x2="370.6" y2="1706.3" stroke="#000" stroke-width="1.5" />
<text x="333.56" y="1712.11" font-size="16.96" textLength="28.29" lengthAdjust="spacingAndGlyphs" >160</text>
<line x1="366.8" y1="1701.5" x2="371.1" y2="1701.5" stroke="#000" stroke-width="1.2" />
<line x1="366.8" y1="1696.7" x2="371.1" y2="1696.7" stroke="#000" stroke-width="1.2" />
<line x1="366.8" y1="1691.9" x2="371.1" y2="1691.9" stroke="#000" stroke-width="1.2" />
<line x1="366.8" y1="1687.2" x2="371.1" y2="1687.2" stroke="#000" stroke-width="1.2" />
<line x1="363.6" y1="1682.4" x2="370.6" y2="1682.4" stroke="#000" stroke-width="1.5" />
<text x="333.56" y="1688.25" font-size="16.96" textLength="28.29" lengthAdjust="spacingAndGlyphs" >200</text>
<line x1="371.1" y1="1801.7" x2="371.1" y2="1807.7" stroke="#000" stroke-width="1.5" />
<line x1="385.1" y1="1801.7" x2="385.1" y2="1805.1" stroke="#000" stroke-width="1.2" />
<line x1="393.3" y1="1801.7" x2="393.3" y2="1805.1" stroke="#000" stroke-width="1.2" />
<line x1="399.2" y1="1801.7" x2="399.2" y2="1805.1" stroke="#000" stroke-width="1.2" />
<line x1="403.7" y1="1801.7" x2="403.7" y2="1805.1" stroke="#000" stroke-width="1.2" />
<line x1="407.4" y1="1801.7" x2="407.4" y2="1805.1" stroke="#000" stroke-width="1.2" />
<line x1="410.5" y1="1801.7" x2="410.5" y2="1805.1" stroke="#000" stroke-width="1.2" />
<line x1="413.2" y1="1801.7" x2="413.2" y2="1805.1" stroke="#000" stroke-width="1.2" />
<line x1="415.6" y1="1801.7" x2="415.6" y2="1805.1" stroke="#000" stroke-width="1.2" />
<text x="358.30" y="1824.10" font-size="16.67" textLength="18.54" lengthAdjust="spacingAndGlyphs" >10</text>
<text x="376.55" y="1818.90" font-size="11.74" textLength="6.53" lengthAdjust="spacingAndGlyphs" >0</text>
<line x1="417.7" y1="1801.7" x2="417.7" y2="1807.7" stroke="#000" stroke-width="1.5" />
<line x1="431.7" y1="1801.7" x2="431.7" y2="1805.1" stroke="#000" stroke-width="1.2" />
<line x1="439.9" y1="1801.7" x2="439.9" y2="1805.1" stroke="#000" stroke-width="1.2" />
<line x1="445.8" y1="1801.7" x2="445.8" y2="1805.1" stroke="#000" stroke-width="1.2" />
<line x1="450.3" y1="1801.7" x2="450.3" y2="1805.1" stroke="#000" stroke-width="1.2" />
<line x1="454.0" y1="1801.7" x2="454.0" y2="1805.1" stroke="#000" stroke-width="1.2" />
<line x1="457.1" y1="1801.7" x2="457.1" y2="1805.1" stroke="#000" stroke-width="1.2" />
<line x1="459.8" y1="1801.7" x2="459.8" y2="1805.1" stroke="#000" stroke-width="1.2" />
<line x1="462.2" y1="1801.7" x2="462.2" y2="1805.1" stroke="#000" stroke-width="1.2" />
<text x="405.16" y="1824.10" font-size="16.67" textLength="18.54" lengthAdjust="spacingAndGlyphs" >10</text>
<text x="423.00" y="1818.90" font-size="11.74" textLength="6.53" lengthAdjust="spacingAndGlyphs" >1</text>
<line x1="464.3" y1="1801.7" x2="464.3" y2="1807.7" stroke="#000" stroke-width="1.5" />
<line x1="478.3" y1="1801.7" x2="478.3" y2="1805.1" stroke="#000" stroke-width="1.2" />
<line x1="486.5" y1="1801.7" x2="486.5" y2="1805.1" stroke="#000" stroke-width="1.2" />
<line x1="492.4" y1="1801.7" x2="492.4" y2="1805.1" stroke="#000" stroke-width="1.2" />
<line x1="496.9" y1="1801.7" x2="496.9" y2="1805.1" stroke="#000" stroke-width="1.2" />
<line x1="500.6" y1="1801.7" x2="500.6" y2="1805.1" stroke="#000" stroke-width="1.2" />
<line x1="503.7" y1="1801.7" x2="503.7" y2="1805.1" stroke="#000" stroke-width="1.2" />
<line x1="506.4" y1="1801.7" x2="506.4" y2="1805.1" stroke="#000" stroke-width="1.2" />
<line x1="508.8" y1="1801.7" x2="508.8" y2="1805.1" stroke="#000" stroke-width="1.2" />
<text x="451.65" y="1824.10" font-size="16.67" textLength="18.54" lengthAdjust="spacingAndGlyphs" >10</text>
<text x="469.78" y="1818.90" font-size="11.74" textLength="6.53" lengthAdjust="spacingAndGlyphs" >2</text>
<line x1="510.9" y1="1801.7" x2="510.9" y2="1807.7" stroke="#000" stroke-width="1.5" />
<line x1="524.9" y1="1801.7" x2="524.9" y2="1805.1" stroke="#000" stroke-width="1.2" />
<line x1="533.1" y1="1801.7" x2="533.1" y2="1805.1" stroke="#000" stroke-width="1.2" />
<line x1="539.0" y1="1801.7" x2="539.0" y2="1805.1" stroke="#000" stroke-width="1.2" />
<line x1="543.5" y1="1801.7" x2="543.5" y2="1805.1" stroke="#000" stroke-width="1.2" />
<line x1="547.2" y1="1801.7" x2="547.2" y2="1805.1" stroke="#000" stroke-width="1.2" />
<line x1="550.3" y1="1801.7" x2="550.3" y2="1805.1" stroke="#000" stroke-width="1.2" />
<line x1="553.0" y1="1801.7" x2="553.0" y2="1805.1" stroke="#000" stroke-width="1.2" />
<line x1="555.4" y1="1801.7" x2="555.4" y2="1805.1" stroke="#000" stroke-width="1.2" />
<text x="498.13" y="1824.10" font-size="16.67" textLength="18.54" lengthAdjust="spacingAndGlyphs" >10</text>
<text x="516.38" y="1818.90" font-size="11.74" textLength="6.53" lengthAdjust="spacingAndGlyphs" >3</text>
<line x1="557.5" y1="1801.7" x2="557.5" y2="1807.7" stroke="#000" stroke-width="1.5" />
<text x="544.55" y="1824.10" font-size="16.67" textLength="18.54" lengthAdjust="spacingAndGlyphs" >10</text>
<text x="563.03" y="1818.90" font-size="11.74" textLength="6.53" lengthAdjust="spacingAndGlyphs" >4</text>
<text x="425.26" y="1703.70" font-size="19.86" textLength="82.00" lengthAdjust="spacingAndGlyphs" >HeLa/ctrl</text>
<g clip-path="url(#hc21)">
<path d="M371.6,1982.1 L371.6,1981.9 L372.6,1981.1 L373.6,1977.9 L374.6,1979.0 L375.6,1979.9 L376.6,1979.8 L377.6,1978.2 L378.6,1979.1 L379.6,1977.7 L380.6,1979.2 L381.6,1976.5 L382.6,1976.2 L383.6,1978.6 L384.6,1977.9 L385.6,1975.9 L386.6,1977.9 L387.6,1978.3 L388.6,1977.7 L389.6,1975.4 L390.6,1974.7 L391.6,1975.8 L392.6,1975.7 L393.6,1971.8 L394.6,1973.6 L395.6,1975.3 L396.6,1972.9 L397.6,1971.0 L398.6,1970.6 L399.6,1968.9 L400.6,1971.0 L401.6,1971.0 L402.6,1970.2 L403.6,1966.2 L404.6,1965.6 L405.6,1964.5 L406.6,1962.0 L407.6,1962.6 L408.6,1960.3 L409.6,1958.9 L410.6,1959.3 L411.6,1955.5 L412.6,1957.0 L413.6,1956.3 L414.6,1953.7 L415.6,1954.2 L416.6,1955.4 L417.6,1948.1 L418.6,1954.6 L419.6,1949.6 L420.6,1946.0 L421.6,1948.7 L422.6,1945.2 L423.6,1945.7 L424.6,1942.6 L425.6,1948.3 L426.6,1944.8 L427.6,1941.3 L428.6,1946.9 L429.6,1945.3 L430.6,1946.6 L431.6,1943.4 L432.6,1950.4 L433.6,1949.9 L434.6,1948.7 L435.6,1947.6 L436.6,1947.6 L437.6,1943.9 L438.6,1948.3 L439.6,1949.4 L440.6,1947.6 L441.6,1947.5 L442.6,1943.6 L443.6,1944.9 L444.6,1942.2 L445.6,1947.9 L446.6,1947.5 L447.6,1945.2 L448.6,1945.2 L449.6,1941.9 L450.6,1945.5 L451.6,1942.8 L452.6,1947.2 L453.6,1947.3 L454.6,1951.2 L455.6,1952.9 L456.6,1953.5 L457.6,1955.0 L458.6,1956.6 L459.6,1956.3 L460.6,1962.3 L461.6,1959.4 L462.6,1959.4 L463.6,1966.3 L464.6,1963.3 L465.6,1964.5 L466.6,1964.0 L467.6,1968.1 L468.6,1967.9 L469.6,1969.6 L470.6,1969.1 L471.6,1972.7 L472.6,1972.2 L473.6,1972.3 L474.6,1972.8 L475.6,1971.3 L476.6,1974.3 L477.6,1976.2 L478.6,1973.1 L479.6,1974.7 L480.6,1975.7 L481.6,1976.4 L482.6,1975.9 L483.6,1976.3 L484.6,1978.1 L485.6,1976.6 L486.6,1976.2 L487.6,1976.9 L488.6,1979.0 L489.6,1978.7 L490.6,1978.0 L491.6,1977.8 L492.6,1978.6 L493.6,1978.6 L494.6,1980.0 L495.6,1979.3 L496.6,1979.6 L497.6,1977.7 L498.6,1980.5 L499.6,1979.1 L500.6,1979.8 L501.6,1979.0 L502.6,1980.2 L503.6,1981.5 L504.6,1980.8 L505.6,1980.6 L506.6,1981.9 L507.6,1981.9 L508.6,1981.9 L509.6,1981.4 L510.6,1981.9 L511.6,1981.9 L512.6,1981.9 L513.6,1981.9 L514.6,1981.7 L515.6,1981.9 L516.6,1981.7 L517.6,1981.9 L518.6,1981.9 L519.6,1981.9 L520.6,1981.8 L521.6,1980.9 L522.6,1981.6 L523.6,1981.9 L524.6,1981.9 L525.6,1980.8 L526.6,1981.9 L527.6,1981.6 L528.6,1980.9 L529.6,1981.9 L530.6,1981.9 L531.6,1981.2 L532.6,1981.6 L533.6,1981.9 L534.6,1981.9 L535.6,1981.9 L536.6,1981.7 L537.6,1981.9 L538.6,1981.9 L539.6,1981.9 L540.6,1981.9 L541.6,1981.9 L542.6,1981.9 L543.6,1981.9 L544.6,1981.7 L545.6,1981.8 L546.6,1981.3 L547.6,1981.9 L548.6,1981.8 L549.6,1981.7 L550.6,1981.9 L551.6,1981.9 L552.6,1981.6 L553.6,1981.9 L554.6,1981.9 L555.6,1981.9 L556.6,1981.9 L557.6,1981.9 L557.6,1982.1 Z" fill="#cacaca" />
<line x1="371.9" y1="1982.1" x2="371.9" y2="1940.5" stroke="#555" stroke-width="1.6" />
<path d="M371.6,1947.7 L372.6,1928.5 L373.6,1921.9 L374.6,1912.6 L375.6,1894.4 L376.6,1889.3 L377.6,1882.8 L378.6,1886.1 L379.6,1886.6 L380.6,1895.0 L381.6,1899.0 L382.6,1902.2 L383.6,1903.3 L384.6,1907.0 L385.6,1910.4 L386.6,1919.8 L387.6,1924.9 L388.6,1932.6 L389.6,1941.6 L390.6,1947.1 L391.6,1956.0 L392.6,1959.3 L393.6,1964.3 L394.6,1966.4 L395.6,1971.5 L396.6,1972.5 L397.6,1974.2 L398.6,1974.8 L399.6,1976.0 L400.6,1976.8 L401.6,1973.9 L402.6,1977.0 L403.6,1978.6 L404.6,1978.2 L405.6,1977.8 L406.6,1978.7 L407.6,1977.4 L408.6,1977.7 L409.6,1978.0 L410.6,1976.4 L411.6,1977.1 L412.6,1979.4 L413.6,1979.3 L414.6,1978.9 L415.6,1980.4 L416.6,1977.9 L417.6,1979.2 L418.6,1977.9 L419.6,1980.2 L420.6,1980.3 L421.6,1979.9 L422.6,1979.5 L423.6,1980.2 L424.6,1979.2 L425.6,1980.0 L426.6,1980.7 L427.6,1981.3 L428.6,1981.5 L429.6,1980.2 L430.6,1979.4 L431.6,1981.9 L432.6,1980.1 L433.6,1981.9 L434.6,1981.8 L435.6,1981.9 L436.6,1981.1 L437.6,1981.9 L438.6,1981.1 L439.6,1981.1 L440.6,1981.2 L441.6,1981.9 L442.6,1981.9 L443.6,1980.4 L444.6,1981.0 L445.6,1981.2 L446.6,1981.3 L447.6,1981.8 L448.6,1981.3 L449.6,1981.4 L450.6,1981.7 L451.6,1981.9 L452.6,1981.1 L453.6,1981.5 L454.6,1981.7 L455.6,1981.9 L456.6,1981.9 L457.6,1981.1 L458.6,1981.5 L459.6,1981.3 L460.6,1981.6 L461.6,1981.8 L462.6,1981.0 L463.6,1981.6 L464.6,1981.9 L465.6,1981.3 L466.6,1980.7 L467.6,1981.6 L468.6,1981.8 L469.6,1981.7 L470.6,1981.5 L471.6,1980.8 L472.6,1981.9 L473.6,1981.9 L474.6,1981.9 L475.6,1981.2 L476.6,1981.5 L477.6,1981.6 L478.6,1981.0 L479.6,1981.6 L480.6,1981.9 L481.6,1981.9 L482.6,1981.9 L483.6,1981.9 L484.6,1981.3 L485.6,1981.9 L486.6,1981.9 L487.6,1981.0 L488.6,1981.9 L489.6,1981.9 L490.6,1981.6 L491.6,1981.9 L492.6,1981.8 L493.6,1981.9 L494.6,1981.5 L495.6,1981.9 L496.6,1980.9 L497.6,1981.9 L498.6,1981.9 L499.6,1981.9 L500.6,1981.9 L501.6,1980.6 L502.6,1981.9 L503.6,1981.9 L504.6,1981.9 L505.6,1981.8 L506.6,1981.5 L507.6,1981.0 L508.6,1981.4 L509.6,1981.5 L510.6,1981.8 L511.6,1981.5 L512.6,1981.4 L513.6,1981.4 L514.6,1981.9 L515.6,1981.7 L516.6,1981.9 L517.6,1981.2 L518.6,1981.7 L519.6,1981.9 L520.6,1981.9 L521.6,1981.9 L522.6,1981.3 L523.6,1981.5 L524.6,1981.9 L525.6,1981.8 L526.6,1981.9 L527.6,1981.3 L528.6,1981.5 L529.6,1981.5 L530.6,1981.9 L531.6,1981.4 L532.6,1981.1 L533.6,1981.7 L534.6,1981.1 L535.6,1981.9 L536.6,1981.6 L537.6,1981.9 L538.6,1981.9 L539.6,1981.7 L540.6,1981.9 L541.6,1981.9 L542.6,1981.4 L543.6,1981.9 L544.6,1981.5 L545.6,1981.2 L546.6,1981.9 L547.6,1981.9 L548.6,1981.9 L549.6,1981.9 L550.6,1981.9 L551.6,1981.9 L552.6,1981.5 L553.6,1981.3 L554.6,1981.9 L555.6,1980.9 L556.6,1981.8 L557.6,1981.9" fill="none" stroke="#6a6a6a" stroke-width="1.25" stroke-dasharray="5 3" stroke-linejoin="round"/>
<path d="M371.6,1978.8 L372.6,1978.7 L373.6,1978.3 L374.6,1978.9 L375.6,1979.6 L376.6,1978.8 L377.6,1979.2 L378.6,1977.7 L379.6,1978.2 L380.6,1977.4 L381.6,1978.9 L382.6,1978.1 L383.6,1977.2 L384.6,1979.0 L385.6,1977.9 L386.6,1978.4 L387.6,1977.4 L388.6,1975.0 L389.6,1976.0 L390.6,1976.2 L391.6,1974.4 L392.6,1972.9 L393.6,1974.0 L394.6,1972.1 L395.6,1973.4 L396.6,1971.5 L397.6,1970.5 L398.6,1971.0 L399.6,1970.2 L400.6,1970.2 L401.6,1969.9 L402.6,1970.6 L403.6,1967.2 L404.6,1968.1 L405.6,1967.9 L406.6,1967.4 L407.6,1965.2 L408.6,1964.2 L409.6,1964.7 L410.6,1963.5 L411.6,1962.9 L412.6,1964.9 L413.6,1963.6 L414.6,1963.8 L415.6,1960.3 L416.6,1962.8 L417.6,1965.7 L418.6,1956.7 L419.6,1960.3 L420.6,1958.8 L421.6,1959.1 L422.6,1954.2 L423.6,1957.1 L424.6,1958.9 L425.6,1957.8 L426.6,1957.7 L427.6,1956.2 L428.6,1955.5 L429.6,1956.7 L430.6,1957.5 L431.6,1953.9 L432.6,1957.4 L433.6,1957.2 L434.6,1952.9 L435.6,1954.2 L436.6,1951.1 L437.6,1952.2 L438.6,1953.6 L439.6,1949.8 L440.6,1949.8 L441.6,1948.9 L442.6,1952.1 L443.6,1945.7 L444.6,1948.2 L445.6,1950.3 L446.6,1947.4 L447.6,1946.2 L448.6,1947.5 L449.6,1949.8 L450.6,1949.6 L451.6,1950.5 L452.6,1953.4 L453.6,1954.5 L454.6,1953.7 L455.6,1956.6 L456.6,1957.8 L457.6,1961.2 L458.6,1959.2 L459.6,1962.0 L460.6,1964.1 L461.6,1965.1 L462.6,1963.9 L463.6,1965.4 L464.6,1969.8 L465.6,1967.5 L466.6,1969.7 L467.6,1970.8 L468.6,1970.6 L469.6,1971.7 L470.6,1970.9 L471.6,1972.2 L472.6,1972.6 L473.6,1971.7 L474.6,1975.0 L475.6,1973.0 L476.6,1973.6 L477.6,1975.1 L478.6,1974.8 L479.6,1973.2 L480.6,1974.8 L481.6,1974.7 L482.6,1974.3 L483.6,1976.1 L484.6,1975.6 L485.6,1974.9 L486.6,1976.3 L487.6,1977.7 L488.6,1976.8 L489.6,1974.9 L490.6,1974.7 L491.6,1975.4 L492.6,1975.1 L493.6,1974.5 L494.6,1974.5 L495.6,1974.5 L496.6,1971.7 L497.6,1975.3 L498.6,1975.3 L499.6,1973.4 L500.6,1972.9 L501.6,1971.5 L502.6,1971.0 L503.6,1973.0 L504.6,1970.3 L505.6,1970.0 L506.6,1968.8 L507.6,1966.9 L508.6,1968.0 L509.6,1965.8 L510.6,1968.4 L511.6,1965.1 L512.6,1965.4 L513.6,1964.7 L514.6,1963.2 L515.6,1961.5 L516.6,1962.2 L517.6,1959.2 L518.6,1956.3 L519.6,1957.5 L520.6,1960.1 L521.6,1959.0 L522.6,1963.5 L523.6,1963.0 L524.6,1963.5 L525.6,1967.3 L526.6,1967.1 L527.6,1970.0 L528.6,1972.7 L529.6,1973.2 L530.6,1973.8 L531.6,1974.5 L532.6,1975.0 L533.6,1974.9 L534.6,1976.9 L535.6,1978.7 L536.6,1978.0 L537.6,1977.4 L538.6,1979.1 L539.6,1978.7 L540.6,1977.7 L541.6,1978.3 L542.6,1978.0 L543.6,1979.4 L544.6,1978.4 L545.6,1979.2 L546.6,1979.1 L547.6,1980.5 L548.6,1980.3 L549.6,1979.6 L550.6,1979.3 L551.6,1979.5 L552.6,1980.7 L553.6,1980.5 L554.6,1979.5 L555.6,1980.3 L556.6,1979.6 L557.6,1981.9" fill="none" stroke="#333" stroke-width="1.0" stroke-linejoin="round"/>
</g>
<rect x="370.6" y="1862.3" width="188.0" height="119.8" fill="none" stroke="#000" stroke-width="1.8" />
<line x1="363.6" y1="1982.1" x2="370.6" y2="1982.1" stroke="#000" stroke-width="1.5" />
<text x="352.38" y="1987.95" font-size="16.96" textLength="9.43" lengthAdjust="spacingAndGlyphs" >0</text>
<line x1="366.8" y1="1977.3" x2="371.1" y2="1977.3" stroke="#000" stroke-width="1.2" />
<line x1="366.8" y1="1972.6" x2="371.1" y2="1972.6" stroke="#000" stroke-width="1.2" />
<line x1="366.8" y1="1967.8" x2="371.1" y2="1967.8" stroke="#000" stroke-width="1.2" />
<line x1="366.8" y1="1963.1" x2="371.1" y2="1963.1" stroke="#000" stroke-width="1.2" />
<line x1="363.6" y1="1958.3" x2="370.6" y2="1958.3" stroke="#000" stroke-width="1.5" />
<text x="342.97" y="1964.19" font-size="16.96" textLength="18.86" lengthAdjust="spacingAndGlyphs" >40</text>
<line x1="366.8" y1="1953.6" x2="371.1" y2="1953.6" stroke="#000" stroke-width="1.2" />
<line x1="366.8" y1="1948.8" x2="371.1" y2="1948.8" stroke="#000" stroke-width="1.2" />
<line x1="366.8" y1="1944.1" x2="371.1" y2="1944.1" stroke="#000" stroke-width="1.2" />
<line x1="366.8" y1="1939.3" x2="371.1" y2="1939.3" stroke="#000" stroke-width="1.2" />
<line x1="363.6" y1="1934.6" x2="370.6" y2="1934.6" stroke="#000" stroke-width="1.5" />
<text x="342.97" y="1940.43" font-size="16.96" textLength="18.86" lengthAdjust="spacingAndGlyphs" >80</text>
<line x1="366.8" y1="1929.8" x2="371.1" y2="1929.8" stroke="#000" stroke-width="1.2" />
<line x1="366.8" y1="1925.1" x2="371.1" y2="1925.1" stroke="#000" stroke-width="1.2" />
<line x1="366.8" y1="1920.3" x2="371.1" y2="1920.3" stroke="#000" stroke-width="1.2" />
<line x1="366.8" y1="1915.6" x2="371.1" y2="1915.6" stroke="#000" stroke-width="1.2" />
<line x1="363.6" y1="1910.8" x2="370.6" y2="1910.8" stroke="#000" stroke-width="1.5" />
<text x="333.56" y="1916.67" font-size="16.96" textLength="28.29" lengthAdjust="spacingAndGlyphs" >120</text>
<line x1="366.8" y1="1906.1" x2="371.1" y2="1906.1" stroke="#000" stroke-width="1.2" />
<line x1="366.8" y1="1901.3" x2="371.1" y2="1901.3" stroke="#000" stroke-width="1.2" />
<line x1="366.8" y1="1896.6" x2="371.1" y2="1896.6" stroke="#000" stroke-width="1.2" />
<line x1="366.8" y1="1891.8" x2="371.1" y2="1891.8" stroke="#000" stroke-width="1.2" />
<line x1="363.6" y1="1887.1" x2="370.6" y2="1887.1" stroke="#000" stroke-width="1.5" />
<text x="333.56" y="1892.91" font-size="16.96" textLength="28.29" lengthAdjust="spacingAndGlyphs" >160</text>
<line x1="366.8" y1="1882.3" x2="371.1" y2="1882.3" stroke="#000" stroke-width="1.2" />
<line x1="366.8" y1="1877.6" x2="371.1" y2="1877.6" stroke="#000" stroke-width="1.2" />
<line x1="366.8" y1="1872.8" x2="371.1" y2="1872.8" stroke="#000" stroke-width="1.2" />
<line x1="366.8" y1="1868.1" x2="371.1" y2="1868.1" stroke="#000" stroke-width="1.2" />
<line x1="363.6" y1="1863.3" x2="370.6" y2="1863.3" stroke="#000" stroke-width="1.5" />
<text x="333.56" y="1869.15" font-size="16.96" textLength="28.29" lengthAdjust="spacingAndGlyphs" >200</text>
<line x1="371.1" y1="1982.1" x2="371.1" y2="1988.1" stroke="#000" stroke-width="1.5" />
<line x1="385.1" y1="1982.1" x2="385.1" y2="1985.5" stroke="#000" stroke-width="1.2" />
<line x1="393.3" y1="1982.1" x2="393.3" y2="1985.5" stroke="#000" stroke-width="1.2" />
<line x1="399.2" y1="1982.1" x2="399.2" y2="1985.5" stroke="#000" stroke-width="1.2" />
<line x1="403.7" y1="1982.1" x2="403.7" y2="1985.5" stroke="#000" stroke-width="1.2" />
<line x1="407.4" y1="1982.1" x2="407.4" y2="1985.5" stroke="#000" stroke-width="1.2" />
<line x1="410.5" y1="1982.1" x2="410.5" y2="1985.5" stroke="#000" stroke-width="1.2" />
<line x1="413.2" y1="1982.1" x2="413.2" y2="1985.5" stroke="#000" stroke-width="1.2" />
<line x1="415.6" y1="1982.1" x2="415.6" y2="1985.5" stroke="#000" stroke-width="1.2" />
<text x="358.30" y="2004.50" font-size="16.67" textLength="18.54" lengthAdjust="spacingAndGlyphs" >10</text>
<text x="376.55" y="1999.30" font-size="11.74" textLength="6.53" lengthAdjust="spacingAndGlyphs" >0</text>
<line x1="417.7" y1="1982.1" x2="417.7" y2="1988.1" stroke="#000" stroke-width="1.5" />
<line x1="431.7" y1="1982.1" x2="431.7" y2="1985.5" stroke="#000" stroke-width="1.2" />
<line x1="439.9" y1="1982.1" x2="439.9" y2="1985.5" stroke="#000" stroke-width="1.2" />
<line x1="445.8" y1="1982.1" x2="445.8" y2="1985.5" stroke="#000" stroke-width="1.2" />
<line x1="450.3" y1="1982.1" x2="450.3" y2="1985.5" stroke="#000" stroke-width="1.2" />
<line x1="454.0" y1="1982.1" x2="454.0" y2="1985.5" stroke="#000" stroke-width="1.2" />
<line x1="457.1" y1="1982.1" x2="457.1" y2="1985.5" stroke="#000" stroke-width="1.2" />
<line x1="459.8" y1="1982.1" x2="459.8" y2="1985.5" stroke="#000" stroke-width="1.2" />
<line x1="462.2" y1="1982.1" x2="462.2" y2="1985.5" stroke="#000" stroke-width="1.2" />
<text x="405.16" y="2004.50" font-size="16.67" textLength="18.54" lengthAdjust="spacingAndGlyphs" >10</text>
<text x="423.00" y="1999.30" font-size="11.74" textLength="6.53" lengthAdjust="spacingAndGlyphs" >1</text>
<line x1="464.3" y1="1982.1" x2="464.3" y2="1988.1" stroke="#000" stroke-width="1.5" />
<line x1="478.3" y1="1982.1" x2="478.3" y2="1985.5" stroke="#000" stroke-width="1.2" />
<line x1="486.5" y1="1982.1" x2="486.5" y2="1985.5" stroke="#000" stroke-width="1.2" />
<line x1="492.4" y1="1982.1" x2="492.4" y2="1985.5" stroke="#000" stroke-width="1.2" />
<line x1="496.9" y1="1982.1" x2="496.9" y2="1985.5" stroke="#000" stroke-width="1.2" />
<line x1="500.6" y1="1982.1" x2="500.6" y2="1985.5" stroke="#000" stroke-width="1.2" />
<line x1="503.7" y1="1982.1" x2="503.7" y2="1985.5" stroke="#000" stroke-width="1.2" />
<line x1="506.4" y1="1982.1" x2="506.4" y2="1985.5" stroke="#000" stroke-width="1.2" />
<line x1="508.8" y1="1982.1" x2="508.8" y2="1985.5" stroke="#000" stroke-width="1.2" />
<text x="451.65" y="2004.50" font-size="16.67" textLength="18.54" lengthAdjust="spacingAndGlyphs" >10</text>
<text x="469.78" y="1999.30" font-size="11.74" textLength="6.53" lengthAdjust="spacingAndGlyphs" >2</text>
<line x1="510.9" y1="1982.1" x2="510.9" y2="1988.1" stroke="#000" stroke-width="1.5" />
<line x1="524.9" y1="1982.1" x2="524.9" y2="1985.5" stroke="#000" stroke-width="1.2" />
<line x1="533.1" y1="1982.1" x2="533.1" y2="1985.5" stroke="#000" stroke-width="1.2" />
<line x1="539.0" y1="1982.1" x2="539.0" y2="1985.5" stroke="#000" stroke-width="1.2" />
<line x1="543.5" y1="1982.1" x2="543.5" y2="1985.5" stroke="#000" stroke-width="1.2" />
<line x1="547.2" y1="1982.1" x2="547.2" y2="1985.5" stroke="#000" stroke-width="1.2" />
<line x1="550.3" y1="1982.1" x2="550.3" y2="1985.5" stroke="#000" stroke-width="1.2" />
<line x1="553.0" y1="1982.1" x2="553.0" y2="1985.5" stroke="#000" stroke-width="1.2" />
<line x1="555.4" y1="1982.1" x2="555.4" y2="1985.5" stroke="#000" stroke-width="1.2" />
<text x="498.13" y="2004.50" font-size="16.67" textLength="18.54" lengthAdjust="spacingAndGlyphs" >10</text>
<text x="516.38" y="1999.30" font-size="11.74" textLength="6.53" lengthAdjust="spacingAndGlyphs" >3</text>
<line x1="557.5" y1="1982.1" x2="557.5" y2="1988.1" stroke="#000" stroke-width="1.5" />
<text x="544.55" y="2004.50" font-size="16.67" textLength="18.54" lengthAdjust="spacingAndGlyphs" >10</text>
<text x="563.03" y="1999.30" font-size="11.74" textLength="6.53" lengthAdjust="spacingAndGlyphs" >4</text>
<text x="432.69" y="1882.90" font-size="19.86" textLength="68.23" lengthAdjust="spacingAndGlyphs" >HeLa/N</text>
<g clip-path="url(#hc12)">
<path d="M605.0,1801.7 L605.0,1801.3 L606.0,1801.4 L607.0,1801.5 L608.0,1800.9 L609.0,1801.5 L610.0,1801.5 L611.0,1800.9 L612.0,1801.4 L613.0,1800.8 L614.0,1801.5 L615.0,1801.5 L616.0,1801.5 L617.0,1799.8 L618.0,1800.7 L619.0,1799.3 L620.0,1799.1 L621.0,1800.2 L622.0,1797.6 L623.0,1798.0 L624.0,1798.3 L625.0,1796.2 L626.0,1794.2 L627.0,1794.6 L628.0,1792.8 L629.0,1790.6 L630.0,1792.5 L631.0,1791.6 L632.0,1789.6 L633.0,1788.4 L634.0,1784.5 L635.0,1783.1 L636.0,1780.9 L637.0,1782.4 L638.0,1776.9 L639.0,1777.8 L640.0,1777.5 L641.0,1774.0 L642.0,1772.5 L643.0,1772.5 L644.0,1772.7 L645.0,1773.9 L646.0,1771.7 L647.0,1769.4 L648.0,1765.9 L649.0,1768.2 L650.0,1767.1 L651.0,1766.2 L652.0,1767.0 L653.0,1767.4 L654.0,1763.9 L655.0,1765.8 L656.0,1766.1 L657.0,1761.6 L658.0,1760.6 L659.0,1761.8 L660.0,1761.2 L661.0,1761.9 L662.0,1767.8 L663.0,1766.2 L664.0,1761.8 L665.0,1763.5 L666.0,1769.2 L667.0,1764.9 L668.0,1768.7 L669.0,1765.9 L670.0,1768.9 L671.0,1769.1 L672.0,1769.1 L673.0,1770.2 L674.0,1767.6 L675.0,1769.4 L676.0,1769.9 L677.0,1772.8 L678.0,1770.3 L679.0,1769.0 L680.0,1773.8 L681.0,1771.3 L682.0,1771.5 L683.0,1774.0 L684.0,1775.8 L685.0,1775.5 L686.0,1777.2 L687.0,1778.6 L688.0,1780.1 L689.0,1777.0 L690.0,1780.1 L691.0,1781.3 L692.0,1781.2 L693.0,1783.6 L694.0,1783.0 L695.0,1786.3 L696.0,1786.2 L697.0,1784.8 L698.0,1784.1 L699.0,1784.3 L700.0,1787.1 L701.0,1789.6 L702.0,1788.0 L703.0,1791.3 L704.0,1794.8 L705.0,1791.9 L706.0,1792.3 L707.0,1792.3 L708.0,1796.3 L709.0,1793.1 L710.0,1795.4 L711.0,1794.2 L712.0,1794.8 L713.0,1795.2 L714.0,1793.7 L715.0,1794.9 L716.0,1794.8 L717.0,1796.3 L718.0,1798.0 L719.0,1797.3 L720.0,1799.1 L721.0,1797.8 L722.0,1798.1 L723.0,1798.9 L724.0,1799.4 L725.0,1798.2 L726.0,1799.3 L727.0,1798.8 L728.0,1799.0 L729.0,1799.9 L730.0,1799.6 L731.0,1799.8 L732.0,1801.0 L733.0,1800.6 L734.0,1799.8 L735.0,1800.0 L736.0,1800.3 L737.0,1800.3 L738.0,1801.0 L739.0,1801.5 L740.0,1801.2 L741.0,1801.1 L742.0,1801.5 L743.0,1801.5 L744.0,1801.2 L745.0,1801.0 L746.0,1801.1 L747.0,1801.5 L748.0,1801.5 L749.0,1801.5 L750.0,1801.0 L751.0,1800.5 L752.0,1801.3 L753.0,1801.0 L754.0,1801.4 L755.0,1801.5 L756.0,1801.5 L757.0,1801.4 L758.0,1801.4 L759.0,1801.1 L760.0,1801.0 L761.0,1801.5 L762.0,1801.5 L763.0,1801.5 L764.0,1801.5 L765.0,1801.5 L766.0,1801.3 L767.0,1801.4 L768.0,1801.5 L769.0,1801.2 L770.0,1801.5 L771.0,1801.5 L772.0,1801.2 L773.0,1801.5 L774.0,1801.2 L775.0,1801.5 L776.0,1801.5 L777.0,1801.5 L778.0,1801.5 L779.0,1801.5 L780.0,1801.5 L781.0,1801.4 L782.0,1801.5 L783.0,1801.5 L784.0,1801.4 L785.0,1801.5 L786.0,1801.5 L787.0,1801.5 L788.0,1801.5 L789.0,1801.5 L790.0,1801.5 L791.0,1801.5 L791.0,1801.7 Z" fill="#cacaca" />
<line x1="605.3" y1="1801.7" x2="605.3" y2="1765.9" stroke="#555" stroke-width="1.6" />
<path d="M605.0,1800.5 L606.0,1798.6 L607.0,1797.8 L608.0,1793.7 L609.0,1795.0 L610.0,1795.7 L611.0,1794.4 L612.0,1789.7 L613.0,1788.4 L614.0,1788.3 L615.0,1784.1 L616.0,1782.0 L617.0,1777.5 L618.0,1776.2 L619.0,1774.7 L620.0,1768.3 L621.0,1763.4 L622.0,1756.4 L623.0,1752.3 L624.0,1752.0 L625.0,1748.8 L626.0,1733.3 L627.0,1736.2 L628.0,1730.3 L629.0,1721.7 L630.0,1719.8 L631.0,1722.2 L632.0,1717.4 L633.0,1711.6 L634.0,1716.7 L635.0,1724.1 L636.0,1723.8 L637.0,1730.8 L638.0,1724.2 L639.0,1734.0 L640.0,1738.6 L641.0,1746.9 L642.0,1746.4 L643.0,1753.7 L644.0,1759.1 L645.0,1765.2 L646.0,1772.8 L647.0,1779.6 L648.0,1782.7 L649.0,1788.7 L650.0,1789.8 L651.0,1793.9 L652.0,1795.7 L653.0,1797.3 L654.0,1796.8 L655.0,1797.4 L656.0,1798.3 L657.0,1795.3 L658.0,1796.1 L659.0,1796.1 L660.0,1800.2 L661.0,1798.0 L662.0,1800.6 L663.0,1799.8 L664.0,1800.1 L665.0,1799.2 L666.0,1799.9 L667.0,1799.8 L668.0,1800.8 L669.0,1800.6 L670.0,1800.5 L671.0,1799.6 L672.0,1801.1 L673.0,1800.8 L674.0,1801.4 L675.0,1800.9 L676.0,1800.8 L677.0,1801.4 L678.0,1800.8 L679.0,1801.1 L680.0,1801.5 L681.0,1800.9 L682.0,1801.1 L683.0,1801.5 L684.0,1800.5 L685.0,1801.5 L686.0,1801.1 L687.0,1800.7 L688.0,1801.5 L689.0,1801.1 L690.0,1801.0 L691.0,1800.6 L692.0,1801.2 L693.0,1801.4 L694.0,1801.2 L695.0,1801.5 L696.0,1801.2 L697.0,1800.8 L698.0,1800.5 L699.0,1801.4 L700.0,1801.5 L701.0,1800.5 L702.0,1801.5 L703.0,1801.1 L704.0,1801.3 L705.0,1801.5 L706.0,1801.3 L707.0,1800.7 L708.0,1801.5 L709.0,1801.5 L710.0,1801.1 L711.0,1801.0 L712.0,1800.3 L713.0,1800.4 L714.0,1801.1 L715.0,1801.0 L716.0,1801.2 L717.0,1801.0 L718.0,1800.8 L719.0,1800.9 L720.0,1801.5 L721.0,1800.6 L722.0,1801.5 L723.0,1801.5 L724.0,1801.3 L725.0,1801.5 L726.0,1801.5 L727.0,1801.5 L728.0,1800.2 L729.0,1800.7 L730.0,1800.0 L731.0,1801.4 L732.0,1801.2 L733.0,1800.7 L734.0,1800.8 L735.0,1801.1 L736.0,1801.4 L737.0,1800.8 L738.0,1801.2 L739.0,1801.2 L740.0,1801.5 L741.0,1801.5 L742.0,1801.1 L743.0,1801.1 L744.0,1801.3 L745.0,1801.5 L746.0,1800.8 L747.0,1801.5 L748.0,1801.5 L749.0,1800.8 L750.0,1801.5 L751.0,1801.5 L752.0,1801.5 L753.0,1801.5 L754.0,1800.0 L755.0,1800.7 L756.0,1800.6 L757.0,1801.5 L758.0,1801.3 L759.0,1801.5 L760.0,1800.9 L761.0,1801.2 L762.0,1801.2 L763.0,1801.4 L764.0,1800.2 L765.0,1801.3 L766.0,1801.5 L767.0,1801.4 L768.0,1801.5 L769.0,1801.0 L770.0,1801.0 L771.0,1801.5 L772.0,1800.4 L773.0,1800.7 L774.0,1800.9 L775.0,1800.5 L776.0,1800.8 L777.0,1801.4 L778.0,1801.5 L779.0,1801.5 L780.0,1801.5 L781.0,1800.4 L782.0,1801.5 L783.0,1801.5 L784.0,1801.5 L785.0,1801.5 L786.0,1801.5 L787.0,1801.5 L788.0,1801.1 L789.0,1801.5 L790.0,1801.5 L791.0,1801.5" fill="none" stroke="#6a6a6a" stroke-width="1.25" stroke-dasharray="5 3" stroke-linejoin="round"/>
<path d="M605.0,1798.0 L606.0,1798.2 L607.0,1798.6 L608.0,1798.1 L609.0,1798.1 L610.0,1798.4 L611.0,1799.0 L612.0,1798.5 L613.0,1798.0 L614.0,1798.7 L615.0,1798.7 L616.0,1797.7 L617.0,1798.3 L618.0,1798.3 L619.0,1798.6 L620.0,1798.2 L621.0,1798.5 L622.0,1798.2 L623.0,1798.1 L624.0,1796.5 L625.0,1796.7 L626.0,1796.8 L627.0,1795.2 L628.0,1794.6 L629.0,1793.6 L630.0,1795.2 L631.0,1796.0 L632.0,1795.4 L633.0,1793.8 L634.0,1795.9 L635.0,1795.0 L636.0,1792.0 L637.0,1792.9 L638.0,1791.5 L639.0,1794.8 L640.0,1793.0 L641.0,1793.0 L642.0,1791.3 L643.0,1791.9 L644.0,1793.2 L645.0,1792.3 L646.0,1792.9 L647.0,1792.4 L648.0,1793.2 L649.0,1792.7 L650.0,1790.4 L651.0,1790.4 L652.0,1789.5 L653.0,1789.1 L654.0,1789.4 L655.0,1786.9 L656.0,1790.3 L657.0,1787.8 L658.0,1787.8 L659.0,1787.6 L660.0,1785.5 L661.0,1785.0 L662.0,1785.3 L663.0,1786.7 L664.0,1785.8 L665.0,1784.7 L666.0,1784.1 L667.0,1784.6 L668.0,1784.3 L669.0,1784.3 L670.0,1782.2 L671.0,1784.7 L672.0,1782.0 L673.0,1778.8 L674.0,1781.2 L675.0,1775.2 L676.0,1779.1 L677.0,1779.4 L678.0,1779.2 L679.0,1778.9 L680.0,1777.3 L681.0,1775.2 L682.0,1776.6 L683.0,1776.1 L684.0,1776.4 L685.0,1774.2 L686.0,1772.5 L687.0,1771.7 L688.0,1768.4 L689.0,1769.8 L690.0,1768.4 L691.0,1772.4 L692.0,1772.4 L693.0,1772.3 L694.0,1773.6 L695.0,1773.1 L696.0,1774.2 L697.0,1773.7 L698.0,1776.4 L699.0,1774.8 L700.0,1776.4 L701.0,1781.8 L702.0,1775.7 L703.0,1779.3 L704.0,1778.2 L705.0,1780.9 L706.0,1783.2 L707.0,1783.9 L708.0,1781.5 L709.0,1780.6 L710.0,1784.7 L711.0,1786.8 L712.0,1784.5 L713.0,1787.0 L714.0,1788.3 L715.0,1787.7 L716.0,1787.6 L717.0,1788.1 L718.0,1789.2 L719.0,1791.0 L720.0,1790.3 L721.0,1789.7 L722.0,1790.0 L723.0,1790.2 L724.0,1793.4 L725.0,1793.1 L726.0,1792.3 L727.0,1791.3 L728.0,1792.8 L729.0,1793.9 L730.0,1793.8 L731.0,1792.6 L732.0,1791.9 L733.0,1790.9 L734.0,1790.7 L735.0,1793.2 L736.0,1789.9 L737.0,1791.9 L738.0,1794.8 L739.0,1791.8 L740.0,1791.9 L741.0,1790.6 L742.0,1790.7 L743.0,1792.5 L744.0,1790.1 L745.0,1790.2 L746.0,1789.3 L747.0,1790.7 L748.0,1788.8 L749.0,1790.1 L750.0,1785.4 L751.0,1787.1 L752.0,1784.5 L753.0,1785.4 L754.0,1783.5 L755.0,1783.3 L756.0,1780.6 L757.0,1780.9 L758.0,1781.0 L759.0,1779.4 L760.0,1777.5 L761.0,1773.8 L762.0,1776.1 L763.0,1774.2 L764.0,1772.1 L765.0,1773.3 L766.0,1775.1 L767.0,1778.7 L768.0,1777.6 L769.0,1778.1 L770.0,1782.8 L771.0,1785.1 L772.0,1784.4 L773.0,1787.8 L774.0,1787.1 L775.0,1788.8 L776.0,1791.3 L777.0,1790.7 L778.0,1793.4 L779.0,1793.8 L780.0,1793.5 L781.0,1794.3 L782.0,1794.3 L783.0,1795.4 L784.0,1796.1 L785.0,1796.2 L786.0,1798.5 L787.0,1798.7 L788.0,1798.9 L789.0,1798.8 L790.0,1799.4 L791.0,1797.9" fill="none" stroke="#333" stroke-width="1.0" stroke-linejoin="round"/>
</g>
<rect x="604.0" y="1681.4" width="188.0" height="120.3" fill="none" stroke="#000" stroke-width="1.8" />
<line x1="597.0" y1="1801.7" x2="604.0" y2="1801.7" stroke="#000" stroke-width="1.5" />
<text x="585.78" y="1807.55" font-size="16.96" textLength="9.43" lengthAdjust="spacingAndGlyphs" >0</text>
<line x1="600.2" y1="1796.9" x2="604.5" y2="1796.9" stroke="#000" stroke-width="1.2" />
<line x1="600.2" y1="1792.2" x2="604.5" y2="1792.2" stroke="#000" stroke-width="1.2" />
<line x1="600.2" y1="1787.4" x2="604.5" y2="1787.4" stroke="#000" stroke-width="1.2" />
<line x1="600.2" y1="1782.6" x2="604.5" y2="1782.6" stroke="#000" stroke-width="1.2" />
<line x1="597.0" y1="1777.8" x2="604.0" y2="1777.8" stroke="#000" stroke-width="1.5" />
<text x="576.37" y="1783.69" font-size="16.96" textLength="18.86" lengthAdjust="spacingAndGlyphs" >40</text>
<line x1="600.2" y1="1773.1" x2="604.5" y2="1773.1" stroke="#000" stroke-width="1.2" />
<line x1="600.2" y1="1768.3" x2="604.5" y2="1768.3" stroke="#000" stroke-width="1.2" />
<line x1="600.2" y1="1763.5" x2="604.5" y2="1763.5" stroke="#000" stroke-width="1.2" />
<line x1="600.2" y1="1758.8" x2="604.5" y2="1758.8" stroke="#000" stroke-width="1.2" />
<line x1="597.0" y1="1754.0" x2="604.0" y2="1754.0" stroke="#000" stroke-width="1.5" />
<text x="576.37" y="1759.83" font-size="16.96" textLength="18.86" lengthAdjust="spacingAndGlyphs" >80</text>
<line x1="600.2" y1="1749.2" x2="604.5" y2="1749.2" stroke="#000" stroke-width="1.2" />
<line x1="600.2" y1="1744.4" x2="604.5" y2="1744.4" stroke="#000" stroke-width="1.2" />
<line x1="600.2" y1="1739.7" x2="604.5" y2="1739.7" stroke="#000" stroke-width="1.2" />
<line x1="600.2" y1="1734.9" x2="604.5" y2="1734.9" stroke="#000" stroke-width="1.2" />
<line x1="597.0" y1="1730.1" x2="604.0" y2="1730.1" stroke="#000" stroke-width="1.5" />
<text x="566.96" y="1735.97" font-size="16.96" textLength="28.29" lengthAdjust="spacingAndGlyphs" >120</text>
<line x1="600.2" y1="1725.3" x2="604.5" y2="1725.3" stroke="#000" stroke-width="1.2" />
<line x1="600.2" y1="1720.6" x2="604.5" y2="1720.6" stroke="#000" stroke-width="1.2" />
<line x1="600.2" y1="1715.8" x2="604.5" y2="1715.8" stroke="#000" stroke-width="1.2" />
<line x1="600.2" y1="1711.0" x2="604.5" y2="1711.0" stroke="#000" stroke-width="1.2" />
<line x1="597.0" y1="1706.3" x2="604.0" y2="1706.3" stroke="#000" stroke-width="1.5" />
<text x="566.96" y="1712.11" font-size="16.96" textLength="28.29" lengthAdjust="spacingAndGlyphs" >160</text>
<line x1="600.2" y1="1701.5" x2="604.5" y2="1701.5" stroke="#000" stroke-width="1.2" />
<line x1="600.2" y1="1696.7" x2="604.5" y2="1696.7" stroke="#000" stroke-width="1.2" />
<line x1="600.2" y1="1691.9" x2="604.5" y2="1691.9" stroke="#000" stroke-width="1.2" />
<line x1="600.2" y1="1687.2" x2="604.5" y2="1687.2" stroke="#000" stroke-width="1.2" />
<line x1="597.0" y1="1682.4" x2="604.0" y2="1682.4" stroke="#000" stroke-width="1.5" />
<text x="566.96" y="1688.25" font-size="16.96" textLength="28.29" lengthAdjust="spacingAndGlyphs" >200</text>
<line x1="604.5" y1="1801.7" x2="604.5" y2="1807.7" stroke="#000" stroke-width="1.5" />
<line x1="618.5" y1="1801.7" x2="618.5" y2="1805.1" stroke="#000" stroke-width="1.2" />
<line x1="626.7" y1="1801.7" x2="626.7" y2="1805.1" stroke="#000" stroke-width="1.2" />
<line x1="632.6" y1="1801.7" x2="632.6" y2="1805.1" stroke="#000" stroke-width="1.2" />
<line x1="637.1" y1="1801.7" x2="637.1" y2="1805.1" stroke="#000" stroke-width="1.2" />
<line x1="640.8" y1="1801.7" x2="640.8" y2="1805.1" stroke="#000" stroke-width="1.2" />
<line x1="643.9" y1="1801.7" x2="643.9" y2="1805.1" stroke="#000" stroke-width="1.2" />
<line x1="646.6" y1="1801.7" x2="646.6" y2="1805.1" stroke="#000" stroke-width="1.2" />
<line x1="649.0" y1="1801.7" x2="649.0" y2="1805.1" stroke="#000" stroke-width="1.2" />
<text x="591.70" y="1824.10" font-size="16.67" textLength="18.54" lengthAdjust="spacingAndGlyphs" >10</text>
<text x="609.95" y="1818.90" font-size="11.74" textLength="6.53" lengthAdjust="spacingAndGlyphs" >0</text>
<line x1="651.1" y1="1801.7" x2="651.1" y2="1807.7" stroke="#000" stroke-width="1.5" />
<line x1="665.1" y1="1801.7" x2="665.1" y2="1805.1" stroke="#000" stroke-width="1.2" />
<line x1="673.3" y1="1801.7" x2="673.3" y2="1805.1" stroke="#000" stroke-width="1.2" />
<line x1="679.2" y1="1801.7" x2="679.2" y2="1805.1" stroke="#000" stroke-width="1.2" />
<line x1="683.7" y1="1801.7" x2="683.7" y2="1805.1" stroke="#000" stroke-width="1.2" />
<line x1="687.4" y1="1801.7" x2="687.4" y2="1805.1" stroke="#000" stroke-width="1.2" />
<line x1="690.5" y1="1801.7" x2="690.5" y2="1805.1" stroke="#000" stroke-width="1.2" />
<line x1="693.2" y1="1801.7" x2="693.2" y2="1805.1" stroke="#000" stroke-width="1.2" />
<line x1="695.6" y1="1801.7" x2="695.6" y2="1805.1" stroke="#000" stroke-width="1.2" />
<text x="638.56" y="1824.10" font-size="16.67" textLength="18.54" lengthAdjust="spacingAndGlyphs" >10</text>
<text x="656.40" y="1818.90" font-size="11.74" textLength="6.53" lengthAdjust="spacingAndGlyphs" >1</text>
<line x1="697.7" y1="1801.7" x2="697.7" y2="1807.7" stroke="#000" stroke-width="1.5" />
<line x1="711.7" y1="1801.7" x2="711.7" y2="1805.1" stroke="#000" stroke-width="1.2" />
<line x1="719.9" y1="1801.7" x2="719.9" y2="1805.1" stroke="#000" stroke-width="1.2" />
<line x1="725.8" y1="1801.7" x2="725.8" y2="1805.1" stroke="#000" stroke-width="1.2" />
<line x1="730.3" y1="1801.7" x2="730.3" y2="1805.1" stroke="#000" stroke-width="1.2" />
<line x1="734.0" y1="1801.7" x2="734.0" y2="1805.1" stroke="#000" stroke-width="1.2" />
<line x1="737.1" y1="1801.7" x2="737.1" y2="1805.1" stroke="#000" stroke-width="1.2" />
<line x1="739.8" y1="1801.7" x2="739.8" y2="1805.1" stroke="#000" stroke-width="1.2" />
<line x1="742.2" y1="1801.7" x2="742.2" y2="1805.1" stroke="#000" stroke-width="1.2" />
<text x="685.05" y="1824.10" font-size="16.67" textLength="18.54" lengthAdjust="spacingAndGlyphs" >10</text>
<text x="703.18" y="1818.90" font-size="11.74" textLength="6.53" lengthAdjust="spacingAndGlyphs" >2</text>
<line x1="744.3" y1="1801.7" x2="744.3" y2="1807.7" stroke="#000" stroke-width="1.5" />
<line x1="758.3" y1="1801.7" x2="758.3" y2="1805.1" stroke="#000" stroke-width="1.2" />
<line x1="766.5" y1="1801.7" x2="766.5" y2="1805.1" stroke="#000" stroke-width="1.2" />
<line x1="772.4" y1="1801.7" x2="772.4" y2="1805.1" stroke="#000" stroke-width="1.2" />
<line x1="776.9" y1="1801.7" x2="776.9" y2="1805.1" stroke="#000" stroke-width="1.2" />
<line x1="780.6" y1="1801.7" x2="780.6" y2="1805.1" stroke="#000" stroke-width="1.2" />
<line x1="783.7" y1="1801.7" x2="783.7" y2="1805.1" stroke="#000" stroke-width="1.2" />
<line x1="786.4" y1="1801.7" x2="786.4" y2="1805.1" stroke="#000" stroke-width="1.2" />
<line x1="788.8" y1="1801.7" x2="788.8" y2="1805.1" stroke="#000" stroke-width="1.2" />
<text x="731.53" y="1824.10" font-size="16.67" textLength="18.54" lengthAdjust="spacingAndGlyphs" >10</text>
<text x="749.78" y="1818.90" font-size="11.74" textLength="6.53" lengthAdjust="spacingAndGlyphs" >3</text>
<line x1="790.9" y1="1801.7" x2="790.9" y2="1807.7" stroke="#000" stroke-width="1.5" />
<text x="777.95" y="1824.10" font-size="16.67" textLength="18.54" lengthAdjust="spacingAndGlyphs" >10</text>
<text x="796.43" y="1818.90" font-size="11.74" textLength="6.53" lengthAdjust="spacingAndGlyphs" >4</text>
<text x="658.66" y="1703.70" font-size="19.86" textLength="82.00" lengthAdjust="spacingAndGlyphs" >HeLa/ctrl</text>
<g clip-path="url(#hc22)">
<path d="M605.0,1982.1 L605.0,1981.8 L606.0,1980.4 L607.0,1979.9 L608.0,1977.6 L609.0,1978.9 L610.0,1977.4 L611.0,1979.2 L612.0,1977.6 L613.0,1978.2 L614.0,1978.2 L615.0,1976.7 L616.0,1978.4 L617.0,1977.1 L618.0,1976.2 L619.0,1978.6 L620.0,1976.5 L621.0,1976.0 L622.0,1976.3 L623.0,1977.2 L624.0,1973.0 L625.0,1975.0 L626.0,1972.2 L627.0,1975.1 L628.0,1974.5 L629.0,1973.2 L630.0,1973.1 L631.0,1969.7 L632.0,1971.2 L633.0,1968.4 L634.0,1970.1 L635.0,1965.4 L636.0,1966.6 L637.0,1963.1 L638.0,1962.4 L639.0,1963.1 L640.0,1957.2 L641.0,1961.1 L642.0,1959.9 L643.0,1956.8 L644.0,1960.4 L645.0,1958.8 L646.0,1957.5 L647.0,1954.8 L648.0,1953.1 L649.0,1954.1 L650.0,1957.1 L651.0,1949.9 L652.0,1949.5 L653.0,1944.3 L654.0,1947.1 L655.0,1947.0 L656.0,1947.2 L657.0,1945.0 L658.0,1946.6 L659.0,1947.4 L660.0,1947.5 L661.0,1942.8 L662.0,1944.4 L663.0,1945.3 L664.0,1946.7 L665.0,1943.0 L666.0,1946.5 L667.0,1943.9 L668.0,1945.0 L669.0,1939.8 L670.0,1944.9 L671.0,1946.3 L672.0,1944.3 L673.0,1942.3 L674.0,1945.0 L675.0,1944.6 L676.0,1943.3 L677.0,1947.5 L678.0,1946.2 L679.0,1948.7 L680.0,1950.7 L681.0,1952.1 L682.0,1945.4 L683.0,1953.9 L684.0,1951.3 L685.0,1950.5 L686.0,1951.3 L687.0,1948.1 L688.0,1957.1 L689.0,1955.0 L690.0,1953.0 L691.0,1960.1 L692.0,1957.1 L693.0,1963.2 L694.0,1959.6 L695.0,1962.2 L696.0,1963.1 L697.0,1963.3 L698.0,1966.7 L699.0,1967.7 L700.0,1971.5 L701.0,1971.6 L702.0,1972.2 L703.0,1972.6 L704.0,1973.8 L705.0,1975.5 L706.0,1975.9 L707.0,1975.3 L708.0,1977.6 L709.0,1976.4 L710.0,1978.6 L711.0,1977.3 L712.0,1977.6 L713.0,1979.2 L714.0,1977.4 L715.0,1979.1 L716.0,1979.5 L717.0,1977.9 L718.0,1979.1 L719.0,1979.4 L720.0,1978.4 L721.0,1980.0 L722.0,1980.9 L723.0,1979.7 L724.0,1981.3 L725.0,1980.8 L726.0,1981.6 L727.0,1981.2 L728.0,1979.3 L729.0,1981.1 L730.0,1980.2 L731.0,1981.9 L732.0,1980.8 L733.0,1981.4 L734.0,1981.9 L735.0,1980.6 L736.0,1981.1 L737.0,1981.9 L738.0,1981.9 L739.0,1981.6 L740.0,1981.9 L741.0,1981.1 L742.0,1981.9 L743.0,1981.9 L744.0,1981.2 L745.0,1981.7 L746.0,1981.3 L747.0,1981.8 L748.0,1981.9 L749.0,1981.9 L750.0,1981.9 L751.0,1981.8 L752.0,1981.9 L753.0,1981.4 L754.0,1980.9 L755.0,1981.9 L756.0,1981.4 L757.0,1981.6 L758.0,1981.7 L759.0,1981.9 L760.0,1981.8 L761.0,1981.9 L762.0,1981.9 L763.0,1981.9 L764.0,1981.9 L765.0,1981.9 L766.0,1981.5 L767.0,1981.9 L768.0,1981.9 L769.0,1981.9 L770.0,1981.9 L771.0,1981.9 L772.0,1981.6 L773.0,1981.9 L774.0,1981.9 L775.0,1981.9 L776.0,1981.1 L777.0,1981.9 L778.0,1981.7 L779.0,1981.9 L780.0,1981.9 L781.0,1981.9 L782.0,1981.9 L783.0,1981.9 L784.0,1981.9 L785.0,1981.9 L786.0,1981.9 L787.0,1981.9 L788.0,1981.9 L789.0,1981.9 L790.0,1981.9 L791.0,1981.7 L791.0,1982.1 Z" fill="#cacaca" />
<line x1="605.3" y1="1982.1" x2="605.3" y2="1940.5" stroke="#555" stroke-width="1.6" />
<path d="M605.0,1942.9 L606.0,1934.0 L607.0,1921.9 L608.0,1911.2 L609.0,1892.0 L610.0,1883.8 L611.0,1889.2 L612.0,1887.3 L613.0,1883.3 L614.0,1894.1 L615.0,1895.1 L616.0,1899.7 L617.0,1907.8 L618.0,1908.4 L619.0,1914.4 L620.0,1919.4 L621.0,1928.7 L622.0,1933.8 L623.0,1939.3 L624.0,1950.0 L625.0,1953.6 L626.0,1960.4 L627.0,1962.1 L628.0,1967.8 L629.0,1971.7 L630.0,1973.3 L631.0,1973.0 L632.0,1974.2 L633.0,1974.2 L634.0,1973.8 L635.0,1975.2 L636.0,1977.5 L637.0,1978.7 L638.0,1977.3 L639.0,1977.8 L640.0,1977.9 L641.0,1976.6 L642.0,1978.4 L643.0,1977.3 L644.0,1978.7 L645.0,1979.5 L646.0,1978.9 L647.0,1979.1 L648.0,1979.0 L649.0,1978.9 L650.0,1978.5 L651.0,1979.1 L652.0,1979.4 L653.0,1980.1 L654.0,1981.0 L655.0,1979.9 L656.0,1980.7 L657.0,1979.8 L658.0,1980.9 L659.0,1980.1 L660.0,1980.6 L661.0,1980.1 L662.0,1981.9 L663.0,1981.1 L664.0,1981.9 L665.0,1981.3 L666.0,1981.1 L667.0,1981.9 L668.0,1981.6 L669.0,1981.3 L670.0,1981.4 L671.0,1981.6 L672.0,1981.6 L673.0,1981.5 L674.0,1981.2 L675.0,1981.4 L676.0,1981.2 L677.0,1981.3 L678.0,1981.9 L679.0,1981.5 L680.0,1980.6 L681.0,1981.4 L682.0,1981.5 L683.0,1981.6 L684.0,1980.7 L685.0,1981.6 L686.0,1981.7 L687.0,1981.2 L688.0,1981.9 L689.0,1981.9 L690.0,1981.1 L691.0,1981.3 L692.0,1981.0 L693.0,1981.3 L694.0,1981.0 L695.0,1981.7 L696.0,1981.7 L697.0,1981.7 L698.0,1981.9 L699.0,1981.9 L700.0,1981.9 L701.0,1981.8 L702.0,1981.0 L703.0,1981.9 L704.0,1981.7 L705.0,1981.7 L706.0,1981.5 L707.0,1981.5 L708.0,1981.0 L709.0,1981.0 L710.0,1981.6 L711.0,1981.2 L712.0,1981.3 L713.0,1981.8 L714.0,1981.7 L715.0,1981.3 L716.0,1981.0 L717.0,1981.9 L718.0,1981.8 L719.0,1981.0 L720.0,1981.6 L721.0,1981.7 L722.0,1981.1 L723.0,1981.9 L724.0,1981.9 L725.0,1981.5 L726.0,1981.5 L727.0,1981.9 L728.0,1981.9 L729.0,1981.2 L730.0,1981.6 L731.0,1981.4 L732.0,1981.7 L733.0,1981.6 L734.0,1981.9 L735.0,1981.9 L736.0,1981.7 L737.0,1981.9 L738.0,1981.9 L739.0,1981.4 L740.0,1981.9 L741.0,1981.6 L742.0,1981.9 L743.0,1981.9 L744.0,1981.4 L745.0,1981.2 L746.0,1981.5 L747.0,1981.9 L748.0,1981.9 L749.0,1981.9 L750.0,1981.9 L751.0,1981.9 L752.0,1981.5 L753.0,1981.9 L754.0,1981.2 L755.0,1981.9 L756.0,1981.9 L757.0,1981.3 L758.0,1981.7 L759.0,1980.9 L760.0,1981.5 L761.0,1981.6 L762.0,1981.9 L763.0,1981.9 L764.0,1981.9 L765.0,1981.5 L766.0,1981.1 L767.0,1981.9 L768.0,1981.9 L769.0,1981.7 L770.0,1981.4 L771.0,1981.9 L772.0,1981.5 L773.0,1981.9 L774.0,1981.4 L775.0,1981.2 L776.0,1981.9 L777.0,1981.9 L778.0,1981.9 L779.0,1981.2 L780.0,1981.9 L781.0,1981.8 L782.0,1981.9 L783.0,1981.9 L784.0,1981.6 L785.0,1981.3 L786.0,1981.9 L787.0,1981.9 L788.0,1981.9 L789.0,1981.9 L790.0,1981.9 L791.0,1981.4" fill="none" stroke="#6a6a6a" stroke-width="1.25" stroke-dasharray="5 3" stroke-linejoin="round"/>
<path d="M605.0,1979.5 L606.0,1978.4 L607.0,1979.9 L608.0,1978.5 L609.0,1980.1 L610.0,1978.9 L611.0,1978.6 L612.0,1979.5 L613.0,1979.1 L614.0,1979.4 L615.0,1979.6 L616.0,1979.4 L617.0,1978.7 L618.0,1979.2 L619.0,1976.8 L620.0,1976.8 L621.0,1977.8 L622.0,1976.4 L623.0,1975.7 L624.0,1976.1 L625.0,1976.7 L626.0,1978.8 L627.0,1977.4 L628.0,1974.7 L629.0,1975.1 L630.0,1976.7 L631.0,1975.4 L632.0,1974.3 L633.0,1974.4 L634.0,1974.7 L635.0,1973.3 L636.0,1974.6 L637.0,1972.1 L638.0,1972.4 L639.0,1974.5 L640.0,1972.8 L641.0,1973.1 L642.0,1969.9 L643.0,1969.6 L644.0,1971.2 L645.0,1968.5 L646.0,1967.7 L647.0,1968.1 L648.0,1969.4 L649.0,1970.0 L650.0,1968.4 L651.0,1969.8 L652.0,1965.5 L653.0,1964.0 L654.0,1965.3 L655.0,1964.9 L656.0,1964.1 L657.0,1963.0 L658.0,1962.7 L659.0,1962.4 L660.0,1964.0 L661.0,1962.4 L662.0,1962.0 L663.0,1960.5 L664.0,1959.7 L665.0,1960.6 L666.0,1958.3 L667.0,1958.6 L668.0,1956.7 L669.0,1958.6 L670.0,1957.7 L671.0,1958.1 L672.0,1956.7 L673.0,1953.3 L674.0,1953.3 L675.0,1956.1 L676.0,1955.2 L677.0,1952.4 L678.0,1952.9 L679.0,1950.7 L680.0,1948.9 L681.0,1948.2 L682.0,1950.3 L683.0,1947.8 L684.0,1949.5 L685.0,1946.0 L686.0,1945.9 L687.0,1950.1 L688.0,1950.3 L689.0,1952.2 L690.0,1950.6 L691.0,1951.8 L692.0,1950.9 L693.0,1956.2 L694.0,1954.3 L695.0,1953.3 L696.0,1957.9 L697.0,1956.4 L698.0,1957.3 L699.0,1962.4 L700.0,1964.0 L701.0,1964.5 L702.0,1964.4 L703.0,1965.5 L704.0,1968.5 L705.0,1966.9 L706.0,1968.4 L707.0,1968.9 L708.0,1969.9 L709.0,1972.3 L710.0,1970.7 L711.0,1970.6 L712.0,1970.9 L713.0,1972.2 L714.0,1972.7 L715.0,1973.1 L716.0,1972.4 L717.0,1972.8 L718.0,1974.7 L719.0,1975.6 L720.0,1973.7 L721.0,1974.7 L722.0,1975.3 L723.0,1974.5 L724.0,1976.0 L725.0,1974.2 L726.0,1974.5 L727.0,1972.1 L728.0,1973.3 L729.0,1973.8 L730.0,1973.0 L731.0,1973.7 L732.0,1972.3 L733.0,1973.0 L734.0,1971.7 L735.0,1970.4 L736.0,1971.5 L737.0,1971.8 L738.0,1972.0 L739.0,1970.0 L740.0,1970.6 L741.0,1970.9 L742.0,1968.1 L743.0,1969.6 L744.0,1969.6 L745.0,1968.5 L746.0,1968.3 L747.0,1968.8 L748.0,1966.5 L749.0,1966.8 L750.0,1964.0 L751.0,1962.7 L752.0,1962.4 L753.0,1962.3 L754.0,1962.2 L755.0,1961.6 L756.0,1961.1 L757.0,1959.7 L758.0,1958.7 L759.0,1957.9 L760.0,1957.3 L761.0,1955.0 L762.0,1957.4 L763.0,1960.5 L764.0,1961.2 L765.0,1960.7 L766.0,1963.9 L767.0,1962.9 L768.0,1965.9 L769.0,1972.6 L770.0,1971.5 L771.0,1972.3 L772.0,1974.4 L773.0,1973.5 L774.0,1973.4 L775.0,1977.3 L776.0,1978.3 L777.0,1979.2 L778.0,1978.8 L779.0,1979.8 L780.0,1978.9 L781.0,1979.1 L782.0,1980.4 L783.0,1978.5 L784.0,1980.2 L785.0,1978.3 L786.0,1980.1 L787.0,1979.7 L788.0,1980.7 L789.0,1981.1 L790.0,1980.3 L791.0,1979.4" fill="none" stroke="#333" stroke-width="1.0" stroke-linejoin="round"/>
</g>
<rect x="604.0" y="1862.3" width="188.0" height="119.8" fill="none" stroke="#000" stroke-width="1.8" />
<line x1="597.0" y1="1982.1" x2="604.0" y2="1982.1" stroke="#000" stroke-width="1.5" />
<text x="585.78" y="1987.95" font-size="16.96" textLength="9.43" lengthAdjust="spacingAndGlyphs" >0</text>
<line x1="600.2" y1="1977.3" x2="604.5" y2="1977.3" stroke="#000" stroke-width="1.2" />
<line x1="600.2" y1="1972.6" x2="604.5" y2="1972.6" stroke="#000" stroke-width="1.2" />
<line x1="600.2" y1="1967.8" x2="604.5" y2="1967.8" stroke="#000" stroke-width="1.2" />
<line x1="600.2" y1="1963.1" x2="604.5" y2="1963.1" stroke="#000" stroke-width="1.2" />
<line x1="597.0" y1="1958.3" x2="604.0" y2="1958.3" stroke="#000" stroke-width="1.5" />
<text x="576.37" y="1964.19" font-size="16.96" textLength="18.86" lengthAdjust="spacingAndGlyphs" >40</text>
<line x1="600.2" y1="1953.6" x2="604.5" y2="1953.6" stroke="#000" stroke-width="1.2" />
<line x1="600.2" y1="1948.8" x2="604.5" y2="1948.8" stroke="#000" stroke-width="1.2" />
<line x1="600.2" y1="1944.1" x2="604.5" y2="1944.1" stroke="#000" stroke-width="1.2" />
<line x1="600.2" y1="1939.3" x2="604.5" y2="1939.3" stroke="#000" stroke-width="1.2" />
<line x1="597.0" y1="1934.6" x2="604.0" y2="1934.6" stroke="#000" stroke-width="1.5" />
<text x="576.37" y="1940.43" font-size="16.96" textLength="18.86" lengthAdjust="spacingAndGlyphs" >80</text>
<line x1="600.2" y1="1929.8" x2="604.5" y2="1929.8" stroke="#000" stroke-width="1.2" />
<line x1="600.2" y1="1925.1" x2="604.5" y2="1925.1" stroke="#000" stroke-width="1.2" />
<line x1="600.2" y1="1920.3" x2="604.5" y2="1920.3" stroke="#000" stroke-width="1.2" />
<line x1="600.2" y1="1915.6" x2="604.5" y2="1915.6" stroke="#000" stroke-width="1.2" />
<line x1="597.0" y1="1910.8" x2="604.0" y2="1910.8" stroke="#000" stroke-width="1.5" />
<text x="566.96" y="1916.67" font-size="16.96" textLength="28.29" lengthAdjust="spacingAndGlyphs" >120</text>
<line x1="600.2" y1="1906.1" x2="604.5" y2="1906.1" stroke="#000" stroke-width="1.2" />
<line x1="600.2" y1="1901.3" x2="604.5" y2="1901.3" stroke="#000" stroke-width="1.2" />
<line x1="600.2" y1="1896.6" x2="604.5" y2="1896.6" stroke="#000" stroke-width="1.2" />
<line x1="600.2" y1="1891.8" x2="604.5" y2="1891.8" stroke="#000" stroke-width="1.2" />
<line x1="597.0" y1="1887.1" x2="604.0" y2="1887.1" stroke="#000" stroke-width="1.5" />
<text x="566.96" y="1892.91" font-size="16.96" textLength="28.29" lengthAdjust="spacingAndGlyphs" >160</text>
<line x1="600.2" y1="1882.3" x2="604.5" y2="1882.3" stroke="#000" stroke-width="1.2" />
<line x1="600.2" y1="1877.6" x2="604.5" y2="1877.6" stroke="#000" stroke-width="1.2" />
<line x1="600.2" y1="1872.8" x2="604.5" y2="1872.8" stroke="#000" stroke-width="1.2" />
<line x1="600.2" y1="1868.1" x2="604.5" y2="1868.1" stroke="#000" stroke-width="1.2" />
<line x1="597.0" y1="1863.3" x2="604.0" y2="1863.3" stroke="#000" stroke-width="1.5" />
<text x="566.96" y="1869.15" font-size="16.96" textLength="28.29" lengthAdjust="spacingAndGlyphs" >200</text>
<line x1="604.5" y1="1982.1" x2="604.5" y2="1988.1" stroke="#000" stroke-width="1.5" />
<line x1="618.5" y1="1982.1" x2="618.5" y2="1985.5" stroke="#000" stroke-width="1.2" />
<line x1="626.7" y1="1982.1" x2="626.7" y2="1985.5" stroke="#000" stroke-width="1.2" />
<line x1="632.6" y1="1982.1" x2="632.6" y2="1985.5" stroke="#000" stroke-width="1.2" />
<line x1="637.1" y1="1982.1" x2="637.1" y2="1985.5" stroke="#000" stroke-width="1.2" />
<line x1="640.8" y1="1982.1" x2="640.8" y2="1985.5" stroke="#000" stroke-width="1.2" />
<line x1="643.9" y1="1982.1" x2="643.9" y2="1985.5" stroke="#000" stroke-width="1.2" />
<line x1="646.6" y1="1982.1" x2="646.6" y2="1985.5" stroke="#000" stroke-width="1.2" />
<line x1="649.0" y1="1982.1" x2="649.0" y2="1985.5" stroke="#000" stroke-width="1.2" />
<text x="591.70" y="2004.50" font-size="16.67" textLength="18.54" lengthAdjust="spacingAndGlyphs" >10</text>
<text x="609.95" y="1999.30" font-size="11.74" textLength="6.53" lengthAdjust="spacingAndGlyphs" >0</text>
<line x1="651.1" y1="1982.1" x2="651.1" y2="1988.1" stroke="#000" stroke-width="1.5" />
<line x1="665.1" y1="1982.1" x2="665.1" y2="1985.5" stroke="#000" stroke-width="1.2" />
<line x1="673.3" y1="1982.1" x2="673.3" y2="1985.5" stroke="#000" stroke-width="1.2" />
<line x1="679.2" y1="1982.1" x2="679.2" y2="1985.5" stroke="#000" stroke-width="1.2" />
<line x1="683.7" y1="1982.1" x2="683.7" y2="1985.5" stroke="#000" stroke-width="1.2" />
<line x1="687.4" y1="1982.1" x2="687.4" y2="1985.5" stroke="#000" stroke-width="1.2" />
<line x1="690.5" y1="1982.1" x2="690.5" y2="1985.5" stroke="#000" stroke-width="1.2" />
<line x1="693.2" y1="1982.1" x2="693.2" y2="1985.5" stroke="#000" stroke-width="1.2" />
<line x1="695.6" y1="1982.1" x2="695.6" y2="1985.5" stroke="#000" stroke-width="1.2" />
<text x="638.56" y="2004.50" font-size="16.67" textLength="18.54" lengthAdjust="spacingAndGlyphs" >10</text>
<text x="656.40" y="1999.30" font-size="11.74" textLength="6.53" lengthAdjust="spacingAndGlyphs" >1</text>
<line x1="697.7" y1="1982.1" x2="697.7" y2="1988.1" stroke="#000" stroke-width="1.5" />
<line x1="711.7" y1="1982.1" x2="711.7" y2="1985.5" stroke="#000" stroke-width="1.2" />
<line x1="719.9" y1="1982.1" x2="719.9" y2="1985.5" stroke="#000" stroke-width="1.2" />
<line x1="725.8" y1="1982.1" x2="725.8" y2="1985.5" stroke="#000" stroke-width="1.2" />
<line x1="730.3" y1="1982.1" x2="730.3" y2="1985.5" stroke="#000" stroke-width="1.2" />
<line x1="734.0" y1="1982.1" x2="734.0" y2="1985.5" stroke="#000" stroke-width="1.2" />
<line x1="737.1" y1="1982.1" x2="737.1" y2="1985.5" stroke="#000" stroke-width="1.2" />
<line x1="739.8" y1="1982.1" x2="739.8" y2="1985.5" stroke="#000" stroke-width="1.2" />
<line x1="742.2" y1="1982.1" x2="742.2" y2="1985.5" stroke="#000" stroke-width="1.2" />
<text x="685.05" y="2004.50" font-size="16.67" textLength="18.54" lengthAdjust="spacingAndGlyphs" >10</text>
<text x="703.18" y="1999.30" font-size="11.74" textLength="6.53" lengthAdjust="spacingAndGlyphs" >2</text>
<line x1="744.3" y1="1982.1" x2="744.3" y2="1988.1" stroke="#000" stroke-width="1.5" />
<line x1="758.3" y1="1982.1" x2="758.3" y2="1985.5" stroke="#000" stroke-width="1.2" />
<line x1="766.5" y1="1982.1" x2="766.5" y2="1985.5" stroke="#000" stroke-width="1.2" />
<line x1="772.4" y1="1982.1" x2="772.4" y2="1985.5" stroke="#000" stroke-width="1.2" />
<line x1="776.9" y1="1982.1" x2="776.9" y2="1985.5" stroke="#000" stroke-width="1.2" />
<line x1="780.6" y1="1982.1" x2="780.6" y2="1985.5" stroke="#000" stroke-width="1.2" />
<line x1="783.7" y1="1982.1" x2="783.7" y2="1985.5" stroke="#000" stroke-width="1.2" />
<line x1="786.4" y1="1982.1" x2="786.4" y2="1985.5" stroke="#000" stroke-width="1.2" />
<line x1="788.8" y1="1982.1" x2="788.8" y2="1985.5" stroke="#000" stroke-width="1.2" />
<text x="731.53" y="2004.50" font-size="16.67" textLength="18.54" lengthAdjust="spacingAndGlyphs" >10</text>
<text x="749.78" y="1999.30" font-size="11.74" textLength="6.53" lengthAdjust="spacingAndGlyphs" >3</text>
<line x1="790.9" y1="1982.1" x2="790.9" y2="1988.1" stroke="#000" stroke-width="1.5" />
<text x="777.95" y="2004.50" font-size="16.67" textLength="18.54" lengthAdjust="spacingAndGlyphs" >10</text>
<text x="796.43" y="1999.30" font-size="11.74" textLength="6.53" lengthAdjust="spacingAndGlyphs" >4</text>
<text x="666.09" y="1882.90" font-size="19.86" textLength="68.23" lengthAdjust="spacingAndGlyphs" >HeLa/N</text>
<g clip-path="url(#hc13)">
<path d="M838.3,1801.7 L838.3,1801.5 L839.3,1801.0 L840.3,1801.3 L841.3,1801.3 L842.3,1801.5 L843.3,1800.6 L844.3,1801.5 L845.3,1800.6 L846.3,1800.9 L847.3,1800.9 L848.3,1801.1 L849.3,1801.3 L850.3,1800.3 L851.3,1800.6 L852.3,1799.9 L853.3,1798.9 L854.3,1798.6 L855.3,1798.1 L856.3,1797.5 L857.3,1796.3 L858.3,1797.7 L859.3,1796.2 L860.3,1795.5 L861.3,1794.9 L862.3,1792.3 L863.3,1791.9 L864.3,1789.5 L865.3,1790.5 L866.3,1788.3 L867.3,1785.7 L868.3,1783.7 L869.3,1781.6 L870.3,1777.9 L871.3,1777.3 L872.3,1780.3 L873.3,1775.1 L874.3,1773.8 L875.3,1775.6 L876.3,1773.7 L877.3,1771.6 L878.3,1769.3 L879.3,1771.3 L880.3,1772.8 L881.3,1764.8 L882.3,1766.0 L883.3,1763.0 L884.3,1763.4 L885.3,1764.7 L886.3,1767.6 L887.3,1758.8 L888.3,1766.2 L889.3,1761.9 L890.3,1761.1 L891.3,1765.0 L892.3,1760.1 L893.3,1766.2 L894.3,1761.9 L895.3,1763.0 L896.3,1765.8 L897.3,1763.1 L898.3,1764.1 L899.3,1766.0 L900.3,1761.3 L901.3,1766.2 L902.3,1767.5 L903.3,1768.5 L904.3,1767.0 L905.3,1771.4 L906.3,1767.3 L907.3,1770.2 L908.3,1769.0 L909.3,1771.3 L910.3,1771.6 L911.3,1770.9 L912.3,1772.1 L913.3,1767.2 L914.3,1771.3 L915.3,1773.2 L916.3,1774.1 L917.3,1775.1 L918.3,1777.2 L919.3,1775.2 L920.3,1777.4 L921.3,1777.4 L922.3,1780.6 L923.3,1783.1 L924.3,1780.4 L925.3,1780.6 L926.3,1783.5 L927.3,1787.0 L928.3,1785.6 L929.3,1786.9 L930.3,1783.5 L931.3,1787.8 L932.3,1787.0 L933.3,1790.5 L934.3,1787.9 L935.3,1787.4 L936.3,1792.3 L937.3,1792.4 L938.3,1792.9 L939.3,1794.2 L940.3,1792.1 L941.3,1792.3 L942.3,1793.9 L943.3,1793.5 L944.3,1794.7 L945.3,1795.5 L946.3,1796.4 L947.3,1796.5 L948.3,1795.7 L949.3,1797.8 L950.3,1796.9 L951.3,1796.8 L952.3,1795.9 L953.3,1798.2 L954.3,1799.6 L955.3,1798.1 L956.3,1797.8 L957.3,1799.5 L958.3,1799.0 L959.3,1798.4 L960.3,1798.7 L961.3,1799.1 L962.3,1798.3 L963.3,1799.5 L964.3,1799.1 L965.3,1799.3 L966.3,1800.2 L967.3,1799.8 L968.3,1799.7 L969.3,1800.6 L970.3,1799.8 L971.3,1800.2 L972.3,1801.5 L973.3,1801.5 L974.3,1801.0 L975.3,1801.5 L976.3,1801.5 L977.3,1801.5 L978.3,1801.5 L979.3,1800.9 L980.3,1801.3 L981.3,1800.5 L982.3,1801.3 L983.3,1801.5 L984.3,1801.2 L985.3,1801.5 L986.3,1801.3 L987.3,1801.1 L988.3,1800.9 L989.3,1801.0 L990.3,1801.5 L991.3,1801.3 L992.3,1801.0 L993.3,1801.3 L994.3,1801.3 L995.3,1801.5 L996.3,1801.2 L997.3,1801.5 L998.3,1801.2 L999.3,1801.4 L1000.3,1800.9 L1001.3,1801.5 L1002.3,1801.5 L1003.3,1801.5 L1004.3,1801.5 L1005.3,1800.9 L1006.3,1801.4 L1007.3,1801.4 L1008.3,1801.2 L1009.3,1801.4 L1010.3,1801.4 L1011.3,1800.9 L1012.3,1801.1 L1013.3,1801.3 L1014.3,1801.4 L1015.3,1801.5 L1016.3,1801.5 L1017.3,1801.2 L1018.3,1801.5 L1019.3,1801.3 L1020.3,1801.5 L1021.3,1801.4 L1022.3,1801.5 L1023.3,1801.5 L1024.3,1801.4 L1024.3,1801.7 Z" fill="#cacaca" />
<line x1="838.6" y1="1801.7" x2="838.6" y2="1765.9" stroke="#555" stroke-width="1.6" />
<path d="M838.3,1800.2 L839.3,1798.1 L840.3,1795.6 L841.3,1797.0 L842.3,1795.5 L843.3,1792.0 L844.3,1790.2 L845.3,1790.9 L846.3,1784.6 L847.3,1785.9 L848.3,1785.4 L849.3,1780.3 L850.3,1778.5 L851.3,1773.8 L852.3,1775.1 L853.3,1768.5 L854.3,1764.0 L855.3,1762.0 L856.3,1750.6 L857.3,1753.5 L858.3,1746.0 L859.3,1739.8 L860.3,1732.7 L861.3,1733.6 L862.3,1724.2 L863.3,1724.3 L864.3,1714.3 L865.3,1719.1 L866.3,1713.6 L867.3,1710.2 L868.3,1722.3 L869.3,1723.6 L870.3,1723.5 L871.3,1732.4 L872.3,1735.7 L873.3,1740.9 L874.3,1740.1 L875.3,1747.4 L876.3,1753.9 L877.3,1756.9 L878.3,1766.0 L879.3,1770.9 L880.3,1782.2 L881.3,1784.0 L882.3,1788.9 L883.3,1792.7 L884.3,1792.0 L885.3,1795.9 L886.3,1796.8 L887.3,1797.0 L888.3,1797.2 L889.3,1795.9 L890.3,1795.8 L891.3,1796.1 L892.3,1797.3 L893.3,1797.9 L894.3,1798.6 L895.3,1797.4 L896.3,1799.7 L897.3,1798.4 L898.3,1798.9 L899.3,1799.0 L900.3,1799.4 L901.3,1801.0 L902.3,1799.4 L903.3,1799.8 L904.3,1800.4 L905.3,1801.5 L906.3,1801.0 L907.3,1801.5 L908.3,1801.5 L909.3,1800.6 L910.3,1801.2 L911.3,1800.5 L912.3,1801.1 L913.3,1801.5 L914.3,1801.2 L915.3,1801.5 L916.3,1800.3 L917.3,1800.4 L918.3,1801.5 L919.3,1800.5 L920.3,1800.5 L921.3,1800.8 L922.3,1801.5 L923.3,1801.1 L924.3,1801.1 L925.3,1801.5 L926.3,1801.2 L927.3,1801.5 L928.3,1800.9 L929.3,1801.2 L930.3,1800.2 L931.3,1801.5 L932.3,1801.4 L933.3,1800.4 L934.3,1800.8 L935.3,1801.5 L936.3,1800.6 L937.3,1801.5 L938.3,1801.5 L939.3,1801.0 L940.3,1801.5 L941.3,1801.2 L942.3,1801.1 L943.3,1801.4 L944.3,1801.2 L945.3,1800.5 L946.3,1801.5 L947.3,1800.4 L948.3,1801.5 L949.3,1801.3 L950.3,1801.5 L951.3,1801.2 L952.3,1801.3 L953.3,1801.4 L954.3,1801.3 L955.3,1801.5 L956.3,1801.3 L957.3,1801.0 L958.3,1801.5 L959.3,1801.1 L960.3,1801.4 L961.3,1801.5 L962.3,1801.5 L963.3,1801.0 L964.3,1801.3 L965.3,1801.3 L966.3,1801.5 L967.3,1801.0 L968.3,1801.0 L969.3,1801.1 L970.3,1800.5 L971.3,1801.4 L972.3,1801.4 L973.3,1801.0 L974.3,1800.7 L975.3,1801.5 L976.3,1801.5 L977.3,1801.1 L978.3,1801.2 L979.3,1801.4 L980.3,1801.2 L981.3,1801.1 L982.3,1801.2 L983.3,1801.4 L984.3,1800.3 L985.3,1801.0 L986.3,1801.3 L987.3,1801.2 L988.3,1800.6 L989.3,1801.4 L990.3,1801.5 L991.3,1800.7 L992.3,1801.2 L993.3,1801.4 L994.3,1801.5 L995.3,1801.5 L996.3,1800.6 L997.3,1801.5 L998.3,1801.5 L999.3,1801.5 L1000.3,1801.5 L1001.3,1801.5 L1002.3,1801.1 L1003.3,1801.0 L1004.3,1800.6 L1005.3,1801.1 L1006.3,1801.2 L1007.3,1801.5 L1008.3,1801.5 L1009.3,1801.5 L1010.3,1801.5 L1011.3,1801.0 L1012.3,1801.4 L1013.3,1801.5 L1014.3,1801.4 L1015.3,1801.0 L1016.3,1801.5 L1017.3,1801.5 L1018.3,1801.1 L1019.3,1801.4 L1020.3,1801.5 L1021.3,1801.5 L1022.3,1800.3 L1023.3,1801.5 L1024.3,1800.9" fill="none" stroke="#6a6a6a" stroke-width="1.25" stroke-dasharray="5 3" stroke-linejoin="round"/>
<path d="M838.3,1799.2 L839.3,1798.3 L840.3,1798.1 L841.3,1799.7 L842.3,1798.8 L843.3,1797.4 L844.3,1799.2 L845.3,1799.2 L846.3,1797.0 L847.3,1798.7 L848.3,1797.5 L849.3,1799.1 L850.3,1798.4 L851.3,1797.6 L852.3,1797.4 L853.3,1798.3 L854.3,1797.9 L855.3,1797.5 L856.3,1797.7 L857.3,1797.3 L858.3,1796.9 L859.3,1797.4 L860.3,1797.4 L861.3,1797.6 L862.3,1796.0 L863.3,1794.2 L864.3,1794.9 L865.3,1794.7 L866.3,1794.8 L867.3,1794.8 L868.3,1793.2 L869.3,1793.7 L870.3,1791.2 L871.3,1795.0 L872.3,1791.8 L873.3,1792.2 L874.3,1793.3 L875.3,1792.3 L876.3,1792.1 L877.3,1790.7 L878.3,1792.5 L879.3,1791.2 L880.3,1792.4 L881.3,1792.0 L882.3,1791.2 L883.3,1790.7 L884.3,1789.1 L885.3,1790.4 L886.3,1789.8 L887.3,1788.2 L888.3,1788.4 L889.3,1785.9 L890.3,1790.0 L891.3,1785.7 L892.3,1788.2 L893.3,1786.4 L894.3,1785.0 L895.3,1788.1 L896.3,1782.9 L897.3,1785.9 L898.3,1787.3 L899.3,1785.9 L900.3,1784.0 L901.3,1783.6 L902.3,1781.5 L903.3,1782.9 L904.3,1782.0 L905.3,1782.5 L906.3,1780.7 L907.3,1781.2 L908.3,1778.8 L909.3,1779.7 L910.3,1778.9 L911.3,1776.9 L912.3,1780.7 L913.3,1776.8 L914.3,1780.1 L915.3,1776.6 L916.3,1774.0 L917.3,1774.8 L918.3,1774.3 L919.3,1773.1 L920.3,1774.8 L921.3,1768.3 L922.3,1770.8 L923.3,1773.0 L924.3,1769.8 L925.3,1769.1 L926.3,1771.9 L927.3,1775.5 L928.3,1773.9 L929.3,1777.1 L930.3,1775.1 L931.3,1778.1 L932.3,1778.2 L933.3,1778.1 L934.3,1779.0 L935.3,1780.1 L936.3,1778.4 L937.3,1783.9 L938.3,1779.3 L939.3,1783.3 L940.3,1782.9 L941.3,1783.9 L942.3,1782.7 L943.3,1784.1 L944.3,1786.0 L945.3,1786.2 L946.3,1787.1 L947.3,1786.3 L948.3,1788.5 L949.3,1788.7 L950.3,1788.5 L951.3,1788.9 L952.3,1788.7 L953.3,1790.8 L954.3,1790.7 L955.3,1792.2 L956.3,1792.9 L957.3,1793.5 L958.3,1793.6 L959.3,1791.5 L960.3,1793.4 L961.3,1793.0 L962.3,1793.1 L963.3,1792.3 L964.3,1791.7 L965.3,1792.4 L966.3,1790.5 L967.3,1791.6 L968.3,1792.7 L969.3,1791.6 L970.3,1790.6 L971.3,1789.6 L972.3,1792.7 L973.3,1791.1 L974.3,1793.2 L975.3,1789.1 L976.3,1789.1 L977.3,1789.1 L978.3,1790.1 L979.3,1788.2 L980.3,1789.7 L981.3,1791.4 L982.3,1788.6 L983.3,1788.3 L984.3,1785.6 L985.3,1784.0 L986.3,1785.4 L987.3,1785.2 L988.3,1784.6 L989.3,1781.0 L990.3,1782.4 L991.3,1780.6 L992.3,1779.4 L993.3,1777.1 L994.3,1777.7 L995.3,1774.9 L996.3,1774.5 L997.3,1775.1 L998.3,1772.2 L999.3,1775.8 L1000.3,1778.3 L1001.3,1780.6 L1002.3,1782.0 L1003.3,1780.9 L1004.3,1783.3 L1005.3,1783.2 L1006.3,1783.7 L1007.3,1787.4 L1008.3,1789.8 L1009.3,1791.1 L1010.3,1791.1 L1011.3,1792.5 L1012.3,1792.1 L1013.3,1793.0 L1014.3,1795.8 L1015.3,1795.3 L1016.3,1796.7 L1017.3,1796.7 L1018.3,1796.6 L1019.3,1798.1 L1020.3,1799.3 L1021.3,1798.2 L1022.3,1799.1 L1023.3,1798.9 L1024.3,1799.4" fill="none" stroke="#333" stroke-width="1.0" stroke-linejoin="round"/>
</g>
<rect x="837.3" y="1681.4" width="188.0" height="120.3" fill="none" stroke="#000" stroke-width="1.8" />
<line x1="830.3" y1="1801.7" x2="837.3" y2="1801.7" stroke="#000" stroke-width="1.5" />
<text x="819.08" y="1807.55" font-size="16.96" textLength="9.43" lengthAdjust="spacingAndGlyphs" >0</text>
<line x1="833.5" y1="1796.9" x2="837.8" y2="1796.9" stroke="#000" stroke-width="1.2" />
<line x1="833.5" y1="1792.2" x2="837.8" y2="1792.2" stroke="#000" stroke-width="1.2" />
<line x1="833.5" y1="1787.4" x2="837.8" y2="1787.4" stroke="#000" stroke-width="1.2" />
<line x1="833.5" y1="1782.6" x2="837.8" y2="1782.6" stroke="#000" stroke-width="1.2" />
<line x1="830.3" y1="1777.8" x2="837.3" y2="1777.8" stroke="#000" stroke-width="1.5" />
<text x="809.67" y="1783.69" font-size="16.96" textLength="18.86" lengthAdjust="spacingAndGlyphs" >40</text>
<line x1="833.5" y1="1773.1" x2="837.8" y2="1773.1" stroke="#000" stroke-width="1.2" />
<line x1="833.5" y1="1768.3" x2="837.8" y2="1768.3" stroke="#000" stroke-width="1.2" />
<line x1="833.5" y1="1763.5" x2="837.8" y2="1763.5" stroke="#000" stroke-width="1.2" />
<line x1="833.5" y1="1758.8" x2="837.8" y2="1758.8" stroke="#000" stroke-width="1.2" />
<line x1="830.3" y1="1754.0" x2="837.3" y2="1754.0" stroke="#000" stroke-width="1.5" />
<text x="809.67" y="1759.83" font-size="16.96" textLength="18.86" lengthAdjust="spacingAndGlyphs" >80</text>
<line x1="833.5" y1="1749.2" x2="837.8" y2="1749.2" stroke="#000" stroke-width="1.2" />
<line x1="833.5" y1="1744.4" x2="837.8" y2="1744.4" stroke="#000" stroke-width="1.2" />
<line x1="833.5" y1="1739.7" x2="837.8" y2="1739.7" stroke="#000" stroke-width="1.2" />
<line x1="833.5" y1="1734.9" x2="837.8" y2="1734.9" stroke="#000" stroke-width="1.2" />
<line x1="830.3" y1="1730.1" x2="837.3" y2="1730.1" stroke="#000" stroke-width="1.5" />
<text x="800.26" y="1735.97" font-size="16.96" textLength="28.29" lengthAdjust="spacingAndGlyphs" >120</text>
<line x1="833.5" y1="1725.3" x2="837.8" y2="1725.3" stroke="#000" stroke-width="1.2" />
<line x1="833.5" y1="1720.6" x2="837.8" y2="1720.6" stroke="#000" stroke-width="1.2" />
<line x1="833.5" y1="1715.8" x2="837.8" y2="1715.8" stroke="#000" stroke-width="1.2" />
<line x1="833.5" y1="1711.0" x2="837.8" y2="1711.0" stroke="#000" stroke-width="1.2" />
<line x1="830.3" y1="1706.3" x2="837.3" y2="1706.3" stroke="#000" stroke-width="1.5" />
<text x="800.26" y="1712.11" font-size="16.96" textLength="28.29" lengthAdjust="spacingAndGlyphs" >160</text>
<line x1="833.5" y1="1701.5" x2="837.8" y2="1701.5" stroke="#000" stroke-width="1.2" />
<line x1="833.5" y1="1696.7" x2="837.8" y2="1696.7" stroke="#000" stroke-width="1.2" />
<line x1="833.5" y1="1691.9" x2="837.8" y2="1691.9" stroke="#000" stroke-width="1.2" />
<line x1="833.5" y1="1687.2" x2="837.8" y2="1687.2" stroke="#000" stroke-width="1.2" />
<line x1="830.3" y1="1682.4" x2="837.3" y2="1682.4" stroke="#000" stroke-width="1.5" />
<text x="800.26" y="1688.25" font-size="16.96" textLength="28.29" lengthAdjust="spacingAndGlyphs" >200</text>
<line x1="837.8" y1="1801.7" x2="837.8" y2="1807.7" stroke="#000" stroke-width="1.5" />
<line x1="851.8" y1="1801.7" x2="851.8" y2="1805.1" stroke="#000" stroke-width="1.2" />
<line x1="860.0" y1="1801.7" x2="860.0" y2="1805.1" stroke="#000" stroke-width="1.2" />
<line x1="865.9" y1="1801.7" x2="865.9" y2="1805.1" stroke="#000" stroke-width="1.2" />
<line x1="870.4" y1="1801.7" x2="870.4" y2="1805.1" stroke="#000" stroke-width="1.2" />
<line x1="874.1" y1="1801.7" x2="874.1" y2="1805.1" stroke="#000" stroke-width="1.2" />
<line x1="877.2" y1="1801.7" x2="877.2" y2="1805.1" stroke="#000" stroke-width="1.2" />
<line x1="879.9" y1="1801.7" x2="879.9" y2="1805.1" stroke="#000" stroke-width="1.2" />
<line x1="882.3" y1="1801.7" x2="882.3" y2="1805.1" stroke="#000" stroke-width="1.2" />
<text x="825.00" y="1824.10" font-size="16.67" textLength="18.54" lengthAdjust="spacingAndGlyphs" >10</text>
<text x="843.25" y="1818.90" font-size="11.74" textLength="6.53" lengthAdjust="spacingAndGlyphs" >0</text>
<line x1="884.4" y1="1801.7" x2="884.4" y2="1807.7" stroke="#000" stroke-width="1.5" />
<line x1="898.4" y1="1801.7" x2="898.4" y2="1805.1" stroke="#000" stroke-width="1.2" />
<line x1="906.6" y1="1801.7" x2="906.6" y2="1805.1" stroke="#000" stroke-width="1.2" />
<line x1="912.5" y1="1801.7" x2="912.5" y2="1805.1" stroke="#000" stroke-width="1.2" />
<line x1="917.0" y1="1801.7" x2="917.0" y2="1805.1" stroke="#000" stroke-width="1.2" />
<line x1="920.7" y1="1801.7" x2="920.7" y2="1805.1" stroke="#000" stroke-width="1.2" />
<line x1="923.8" y1="1801.7" x2="923.8" y2="1805.1" stroke="#000" stroke-width="1.2" />
<line x1="926.5" y1="1801.7" x2="926.5" y2="1805.1" stroke="#000" stroke-width="1.2" />
<line x1="928.9" y1="1801.7" x2="928.9" y2="1805.1" stroke="#000" stroke-width="1.2" />
<text x="871.86" y="1824.10" font-size="16.67" textLength="18.54" lengthAdjust="spacingAndGlyphs" >10</text>
<text x="889.70" y="1818.90" font-size="11.74" textLength="6.53" lengthAdjust="spacingAndGlyphs" >1</text>
<line x1="931.0" y1="1801.7" x2="931.0" y2="1807.7" stroke="#000" stroke-width="1.5" />
<line x1="945.0" y1="1801.7" x2="945.0" y2="1805.1" stroke="#000" stroke-width="1.2" />
<line x1="953.2" y1="1801.7" x2="953.2" y2="1805.1" stroke="#000" stroke-width="1.2" />
<line x1="959.1" y1="1801.7" x2="959.1" y2="1805.1" stroke="#000" stroke-width="1.2" />
<line x1="963.6" y1="1801.7" x2="963.6" y2="1805.1" stroke="#000" stroke-width="1.2" />
<line x1="967.3" y1="1801.7" x2="967.3" y2="1805.1" stroke="#000" stroke-width="1.2" />
<line x1="970.4" y1="1801.7" x2="970.4" y2="1805.1" stroke="#000" stroke-width="1.2" />
<line x1="973.1" y1="1801.7" x2="973.1" y2="1805.1" stroke="#000" stroke-width="1.2" />
<line x1="975.5" y1="1801.7" x2="975.5" y2="1805.1" stroke="#000" stroke-width="1.2" />
<text x="918.35" y="1824.10" font-size="16.67" textLength="18.54" lengthAdjust="spacingAndGlyphs" >10</text>
<text x="936.48" y="1818.90" font-size="11.74" textLength="6.53" lengthAdjust="spacingAndGlyphs" >2</text>
<line x1="977.6" y1="1801.7" x2="977.6" y2="1807.7" stroke="#000" stroke-width="1.5" />
<line x1="991.6" y1="1801.7" x2="991.6" y2="1805.1" stroke="#000" stroke-width="1.2" />
<line x1="999.8" y1="1801.7" x2="999.8" y2="1805.1" stroke="#000" stroke-width="1.2" />
<line x1="1005.7" y1="1801.7" x2="1005.7" y2="1805.1" stroke="#000" stroke-width="1.2" />
<line x1="1010.2" y1="1801.7" x2="1010.2" y2="1805.1" stroke="#000" stroke-width="1.2" />
<line x1="1013.9" y1="1801.7" x2="1013.9" y2="1805.1" stroke="#000" stroke-width="1.2" />
<line x1="1017.0" y1="1801.7" x2="1017.0" y2="1805.1" stroke="#000" stroke-width="1.2" />
<line x1="1019.7" y1="1801.7" x2="1019.7" y2="1805.1" stroke="#000" stroke-width="1.2" />
<line x1="1022.1" y1="1801.7" x2="1022.1" y2="1805.1" stroke="#000" stroke-width="1.2" />
<text x="964.83" y="1824.10" font-size="16.67" textLength="18.54" lengthAdjust="spacingAndGlyphs" >10</text>
<text x="983.08" y="1818.90" font-size="11.74" textLength="6.53" lengthAdjust="spacingAndGlyphs" >3</text>
<line x1="1024.2" y1="1801.7" x2="1024.2" y2="1807.7" stroke="#000" stroke-width="1.5" />
<text x="1011.25" y="1824.10" font-size="16.67" textLength="18.54" lengthAdjust="spacingAndGlyphs" >10</text>
<text x="1029.73" y="1818.90" font-size="11.74" textLength="6.53" lengthAdjust="spacingAndGlyphs" >4</text>
<text x="891.96" y="1703.70" font-size="19.86" textLength="82.00" lengthAdjust="spacingAndGlyphs" >HeLa/ctrl</text>
<g clip-path="url(#hc23)">
<path d="M838.3,1982.1 L838.3,1981.0 L839.3,1981.9 L840.3,1978.9 L841.3,1980.7 L842.3,1977.6 L843.3,1978.9 L844.3,1978.1 L845.3,1978.7 L846.3,1977.9 L847.3,1979.1 L848.3,1978.0 L849.3,1976.3 L850.3,1978.2 L851.3,1974.6 L852.3,1976.6 L853.3,1977.4 L854.3,1976.7 L855.3,1976.5 L856.3,1974.1 L857.3,1973.7 L858.3,1974.1 L859.3,1975.1 L860.3,1973.9 L861.3,1972.0 L862.3,1970.4 L863.3,1971.9 L864.3,1969.9 L865.3,1972.2 L866.3,1969.7 L867.3,1970.1 L868.3,1969.4 L869.3,1968.9 L870.3,1968.4 L871.3,1968.0 L872.3,1964.1 L873.3,1965.7 L874.3,1962.7 L875.3,1959.1 L876.3,1959.3 L877.3,1957.5 L878.3,1956.7 L879.3,1959.0 L880.3,1954.1 L881.3,1956.8 L882.3,1951.0 L883.3,1952.3 L884.3,1952.1 L885.3,1948.3 L886.3,1945.4 L887.3,1946.5 L888.3,1949.3 L889.3,1948.3 L890.3,1942.2 L891.3,1946.4 L892.3,1946.3 L893.3,1944.0 L894.3,1946.1 L895.3,1944.3 L896.3,1945.8 L897.3,1947.7 L898.3,1947.2 L899.3,1948.1 L900.3,1947.1 L901.3,1952.9 L902.3,1946.0 L903.3,1947.1 L904.3,1945.5 L905.3,1945.6 L906.3,1945.1 L907.3,1946.7 L908.3,1945.8 L909.3,1949.4 L910.3,1947.3 L911.3,1944.6 L912.3,1950.6 L913.3,1947.2 L914.3,1943.8 L915.3,1945.1 L916.3,1951.6 L917.3,1949.3 L918.3,1943.3 L919.3,1941.3 L920.3,1945.9 L921.3,1948.7 L922.3,1948.1 L923.3,1953.5 L924.3,1957.6 L925.3,1956.3 L926.3,1953.7 L927.3,1960.6 L928.3,1962.5 L929.3,1965.8 L930.3,1964.0 L931.3,1967.4 L932.3,1965.5 L933.3,1964.9 L934.3,1964.9 L935.3,1967.0 L936.3,1969.3 L937.3,1971.9 L938.3,1970.7 L939.3,1973.2 L940.3,1971.8 L941.3,1973.9 L942.3,1974.1 L943.3,1973.2 L944.3,1976.6 L945.3,1973.5 L946.3,1975.6 L947.3,1975.9 L948.3,1973.6 L949.3,1976.3 L950.3,1975.7 L951.3,1977.1 L952.3,1977.5 L953.3,1978.0 L954.3,1977.6 L955.3,1978.3 L956.3,1977.1 L957.3,1978.8 L958.3,1979.7 L959.3,1979.3 L960.3,1977.1 L961.3,1979.9 L962.3,1979.2 L963.3,1979.2 L964.3,1980.7 L965.3,1981.1 L966.3,1980.0 L967.3,1981.1 L968.3,1979.0 L969.3,1981.3 L970.3,1979.6 L971.3,1981.1 L972.3,1980.0 L973.3,1980.8 L974.3,1981.6 L975.3,1981.2 L976.3,1981.9 L977.3,1981.5 L978.3,1981.9 L979.3,1981.7 L980.3,1981.3 L981.3,1981.9 L982.3,1981.9 L983.3,1981.3 L984.3,1981.7 L985.3,1981.9 L986.3,1981.9 L987.3,1981.8 L988.3,1981.3 L989.3,1981.9 L990.3,1981.8 L991.3,1981.1 L992.3,1981.9 L993.3,1981.9 L994.3,1981.9 L995.3,1981.9 L996.3,1981.9 L997.3,1981.8 L998.3,1981.9 L999.3,1981.9 L1000.3,1981.9 L1001.3,1981.9 L1002.3,1981.6 L1003.3,1981.9 L1004.3,1981.9 L1005.3,1981.9 L1006.3,1981.8 L1007.3,1981.9 L1008.3,1981.6 L1009.3,1981.4 L1010.3,1981.8 L1011.3,1981.9 L1012.3,1981.9 L1013.3,1981.9 L1014.3,1981.3 L1015.3,1981.9 L1016.3,1981.9 L1017.3,1981.9 L1018.3,1981.9 L1019.3,1981.2 L1020.3,1981.6 L1021.3,1981.9 L1022.3,1981.9 L1023.3,1981.9 L1024.3,1981.9 L1024.3,1982.1 Z" fill="#cacaca" />
<line x1="838.6" y1="1982.1" x2="838.6" y2="1940.5" stroke="#555" stroke-width="1.6" />
<path d="M838.3,1943.5 L839.3,1930.8 L840.3,1917.5 L841.3,1909.3 L842.3,1893.2 L843.3,1886.2 L844.3,1885.2 L845.3,1888.8 L846.3,1891.7 L847.3,1894.7 L848.3,1898.4 L849.3,1898.4 L850.3,1903.5 L851.3,1907.3 L852.3,1918.8 L853.3,1920.1 L854.3,1927.1 L855.3,1935.8 L856.3,1947.3 L857.3,1951.3 L858.3,1955.7 L859.3,1962.9 L860.3,1963.3 L861.3,1967.8 L862.3,1970.3 L863.3,1971.0 L864.3,1975.5 L865.3,1972.6 L866.3,1974.2 L867.3,1974.2 L868.3,1975.8 L869.3,1975.6 L870.3,1975.1 L871.3,1977.2 L872.3,1977.2 L873.3,1977.5 L874.3,1977.9 L875.3,1977.3 L876.3,1977.8 L877.3,1978.3 L878.3,1979.1 L879.3,1977.8 L880.3,1978.1 L881.3,1978.4 L882.3,1979.8 L883.3,1979.1 L884.3,1979.0 L885.3,1980.1 L886.3,1979.4 L887.3,1980.2 L888.3,1980.8 L889.3,1979.6 L890.3,1979.9 L891.3,1980.3 L892.3,1980.9 L893.3,1979.7 L894.3,1980.4 L895.3,1980.9 L896.3,1980.9 L897.3,1980.9 L898.3,1981.6 L899.3,1981.8 L900.3,1981.2 L901.3,1981.3 L902.3,1981.1 L903.3,1981.9 L904.3,1981.7 L905.3,1981.1 L906.3,1981.3 L907.3,1981.4 L908.3,1981.9 L909.3,1981.3 L910.3,1981.0 L911.3,1981.2 L912.3,1981.1 L913.3,1981.7 L914.3,1981.9 L915.3,1981.3 L916.3,1981.5 L917.3,1981.9 L918.3,1981.9 L919.3,1981.5 L920.3,1980.5 L921.3,1981.2 L922.3,1981.4 L923.3,1981.3 L924.3,1981.9 L925.3,1981.9 L926.3,1981.9 L927.3,1981.8 L928.3,1981.9 L929.3,1981.9 L930.3,1981.0 L931.3,1981.2 L932.3,1981.6 L933.3,1981.9 L934.3,1981.9 L935.3,1980.7 L936.3,1981.8 L937.3,1981.7 L938.3,1981.9 L939.3,1980.8 L940.3,1981.0 L941.3,1981.3 L942.3,1981.9 L943.3,1981.9 L944.3,1981.9 L945.3,1981.9 L946.3,1981.5 L947.3,1981.6 L948.3,1981.2 L949.3,1981.6 L950.3,1981.9 L951.3,1981.9 L952.3,1981.9 L953.3,1981.0 L954.3,1980.7 L955.3,1981.8 L956.3,1981.9 L957.3,1981.6 L958.3,1981.8 L959.3,1981.6 L960.3,1981.9 L961.3,1981.2 L962.3,1981.6 L963.3,1981.3 L964.3,1981.6 L965.3,1981.5 L966.3,1981.9 L967.3,1981.9 L968.3,1981.9 L969.3,1981.3 L970.3,1981.2 L971.3,1980.5 L972.3,1981.9 L973.3,1981.6 L974.3,1981.5 L975.3,1981.6 L976.3,1981.9 L977.3,1981.9 L978.3,1981.9 L979.3,1981.9 L980.3,1981.4 L981.3,1981.9 L982.3,1981.8 L983.3,1981.5 L984.3,1981.9 L985.3,1981.9 L986.3,1981.9 L987.3,1981.9 L988.3,1981.9 L989.3,1981.9 L990.3,1981.9 L991.3,1981.7 L992.3,1981.8 L993.3,1981.9 L994.3,1981.8 L995.3,1981.7 L996.3,1981.9 L997.3,1981.7 L998.3,1981.9 L999.3,1981.9 L1000.3,1981.3 L1001.3,1981.8 L1002.3,1981.9 L1003.3,1981.9 L1004.3,1981.9 L1005.3,1981.9 L1006.3,1981.4 L1007.3,1981.8 L1008.3,1981.9 L1009.3,1981.3 L1010.3,1981.7 L1011.3,1981.3 L1012.3,1981.9 L1013.3,1981.2 L1014.3,1981.8 L1015.3,1981.9 L1016.3,1981.1 L1017.3,1981.9 L1018.3,1981.5 L1019.3,1981.6 L1020.3,1981.9 L1021.3,1981.9 L1022.3,1981.9 L1023.3,1981.7 L1024.3,1981.9" fill="none" stroke="#6a6a6a" stroke-width="1.25" stroke-dasharray="5 3" stroke-linejoin="round"/>
<path d="M838.3,1979.6 L839.3,1980.1 L840.3,1980.5 L841.3,1979.3 L842.3,1979.5 L843.3,1978.8 L844.3,1978.4 L845.3,1979.1 L846.3,1978.8 L847.3,1979.4 L848.3,1976.9 L849.3,1977.2 L850.3,1976.3 L851.3,1977.7 L852.3,1977.3 L853.3,1976.6 L854.3,1977.6 L855.3,1976.4 L856.3,1975.6 L857.3,1976.1 L858.3,1975.3 L859.3,1974.1 L860.3,1974.2 L861.3,1973.6 L862.3,1971.3 L863.3,1972.6 L864.3,1972.4 L865.3,1973.2 L866.3,1969.8 L867.3,1970.9 L868.3,1970.6 L869.3,1970.6 L870.3,1970.4 L871.3,1971.1 L872.3,1970.7 L873.3,1968.5 L874.3,1970.1 L875.3,1967.8 L876.3,1966.3 L877.3,1965.2 L878.3,1964.2 L879.3,1964.3 L880.3,1964.5 L881.3,1960.2 L882.3,1961.2 L883.3,1960.2 L884.3,1960.4 L885.3,1957.0 L886.3,1953.8 L887.3,1960.2 L888.3,1955.1 L889.3,1956.4 L890.3,1954.1 L891.3,1957.0 L892.3,1955.0 L893.3,1955.5 L894.3,1957.8 L895.3,1954.2 L896.3,1957.1 L897.3,1953.7 L898.3,1955.5 L899.3,1956.3 L900.3,1954.1 L901.3,1956.9 L902.3,1953.3 L903.3,1953.0 L904.3,1953.0 L905.3,1952.7 L906.3,1955.3 L907.3,1954.9 L908.3,1955.3 L909.3,1952.4 L910.3,1954.9 L911.3,1954.3 L912.3,1953.5 L913.3,1952.6 L914.3,1951.9 L915.3,1953.8 L916.3,1950.9 L917.3,1950.4 L918.3,1949.6 L919.3,1951.0 L920.3,1955.3 L921.3,1957.2 L922.3,1956.9 L923.3,1958.5 L924.3,1958.3 L925.3,1959.2 L926.3,1960.0 L927.3,1964.5 L928.3,1964.3 L929.3,1970.9 L930.3,1969.6 L931.3,1967.4 L932.3,1965.1 L933.3,1971.1 L934.3,1970.4 L935.3,1971.4 L936.3,1971.2 L937.3,1973.6 L938.3,1972.7 L939.3,1975.1 L940.3,1972.8 L941.3,1972.4 L942.3,1975.8 L943.3,1975.7 L944.3,1975.0 L945.3,1974.8 L946.3,1975.5 L947.3,1974.9 L948.3,1974.6 L949.3,1975.1 L950.3,1975.0 L951.3,1975.5 L952.3,1974.8 L953.3,1976.5 L954.3,1976.3 L955.3,1975.6 L956.3,1974.4 L957.3,1973.2 L958.3,1976.5 L959.3,1974.4 L960.3,1973.5 L961.3,1973.8 L962.3,1972.8 L963.3,1972.8 L964.3,1973.1 L965.3,1971.1 L966.3,1970.6 L967.3,1970.7 L968.3,1971.7 L969.3,1973.2 L970.3,1971.9 L971.3,1972.6 L972.3,1973.9 L973.3,1970.7 L974.3,1973.0 L975.3,1969.4 L976.3,1969.2 L977.3,1967.3 L978.3,1965.1 L979.3,1966.7 L980.3,1962.9 L981.3,1965.4 L982.3,1964.7 L983.3,1961.1 L984.3,1963.8 L985.3,1958.8 L986.3,1960.7 L987.3,1960.4 L988.3,1963.2 L989.3,1962.0 L990.3,1964.8 L991.3,1965.8 L992.3,1969.0 L993.3,1966.4 L994.3,1969.1 L995.3,1973.1 L996.3,1972.9 L997.3,1976.2 L998.3,1976.0 L999.3,1978.1 L1000.3,1979.3 L1001.3,1977.6 L1002.3,1977.8 L1003.3,1978.7 L1004.3,1979.4 L1005.3,1980.6 L1006.3,1981.8 L1007.3,1979.6 L1008.3,1979.6 L1009.3,1978.1 L1010.3,1979.4 L1011.3,1979.8 L1012.3,1980.7 L1013.3,1980.4 L1014.3,1979.7 L1015.3,1981.9 L1016.3,1981.5 L1017.3,1981.4 L1018.3,1981.1 L1019.3,1981.7 L1020.3,1981.0 L1021.3,1980.8 L1022.3,1980.4 L1023.3,1980.6 L1024.3,1980.9" fill="none" stroke="#333" stroke-width="1.0" stroke-linejoin="round"/>
</g>
<rect x="837.3" y="1862.3" width="188.0" height="119.8" fill="none" stroke="#000" stroke-width="1.8" />
<line x1="830.3" y1="1982.1" x2="837.3" y2="1982.1" stroke="#000" stroke-width="1.5" />
<text x="819.08" y="1987.95" font-size="16.96" textLength="9.43" lengthAdjust="spacingAndGlyphs" >0</text>
<line x1="833.5" y1="1977.3" x2="837.8" y2="1977.3" stroke="#000" stroke-width="1.2" />
<line x1="833.5" y1="1972.6" x2="837.8" y2="1972.6" stroke="#000" stroke-width="1.2" />
<line x1="833.5" y1="1967.8" x2="837.8" y2="1967.8" stroke="#000" stroke-width="1.2" />
<line x1="833.5" y1="1963.1" x2="837.8" y2="1963.1" stroke="#000" stroke-width="1.2" />
<line x1="830.3" y1="1958.3" x2="837.3" y2="1958.3" stroke="#000" stroke-width="1.5" />
<text x="809.67" y="1964.19" font-size="16.96" textLength="18.86" lengthAdjust="spacingAndGlyphs" >40</text>
<line x1="833.5" y1="1953.6" x2="837.8" y2="1953.6" stroke="#000" stroke-width="1.2" />
<line x1="833.5" y1="1948.8" x2="837.8" y2="1948.8" stroke="#000" stroke-width="1.2" />
<line x1="833.5" y1="1944.1" x2="837.8" y2="1944.1" stroke="#000" stroke-width="1.2" />
<line x1="833.5" y1="1939.3" x2="837.8" y2="1939.3" stroke="#000" stroke-width="1.2" />
<line x1="830.3" y1="1934.6" x2="837.3" y2="1934.6" stroke="#000" stroke-width="1.5" />
<text x="809.67" y="1940.43" font-size="16.96" textLength="18.86" lengthAdjust="spacingAndGlyphs" >80</text>
<line x1="833.5" y1="1929.8" x2="837.8" y2="1929.8" stroke="#000" stroke-width="1.2" />
<line x1="833.5" y1="1925.1" x2="837.8" y2="1925.1" stroke="#000" stroke-width="1.2" />
<line x1="833.5" y1="1920.3" x2="837.8" y2="1920.3" stroke="#000" stroke-width="1.2" />
<line x1="833.5" y1="1915.6" x2="837.8" y2="1915.6" stroke="#000" stroke-width="1.2" />
<line x1="830.3" y1="1910.8" x2="837.3" y2="1910.8" stroke="#000" stroke-width="1.5" />
<text x="800.26" y="1916.67" font-size="16.96" textLength="28.29" lengthAdjust="spacingAndGlyphs" >120</text>
<line x1="833.5" y1="1906.1" x2="837.8" y2="1906.1" stroke="#000" stroke-width="1.2" />
<line x1="833.5" y1="1901.3" x2="837.8" y2="1901.3" stroke="#000" stroke-width="1.2" />
<line x1="833.5" y1="1896.6" x2="837.8" y2="1896.6" stroke="#000" stroke-width="1.2" />
<line x1="833.5" y1="1891.8" x2="837.8" y2="1891.8" stroke="#000" stroke-width="1.2" />
<line x1="830.3" y1="1887.1" x2="837.3" y2="1887.1" stroke="#000" stroke-width="1.5" />
<text x="800.26" y="1892.91" font-size="16.96" textLength="28.29" lengthAdjust="spacingAndGlyphs" >160</text>
<line x1="833.5" y1="1882.3" x2="837.8" y2="1882.3" stroke="#000" stroke-width="1.2" />
<line x1="833.5" y1="1877.6" x2="837.8" y2="1877.6" stroke="#000" stroke-width="1.2" />
<line x1="833.5" y1="1872.8" x2="837.8" y2="1872.8" stroke="#000" stroke-width="1.2" />
<line x1="833.5" y1="1868.1" x2="837.8" y2="1868.1" stroke="#000" stroke-width="1.2" />
<line x1="830.3" y1="1863.3" x2="837.3" y2="1863.3" stroke="#000" stroke-width="1.5" />
<text x="800.26" y="1869.15" font-size="16.96" textLength="28.29" lengthAdjust="spacingAndGlyphs" >200</text>
<line x1="837.8" y1="1982.1" x2="837.8" y2="1988.1" stroke="#000" stroke-width="1.5" />
<line x1="851.8" y1="1982.1" x2="851.8" y2="1985.5" stroke="#000" stroke-width="1.2" />
<line x1="860.0" y1="1982.1" x2="860.0" y2="1985.5" stroke="#000" stroke-width="1.2" />
<line x1="865.9" y1="1982.1" x2="865.9" y2="1985.5" stroke="#000" stroke-width="1.2" />
<line x1="870.4" y1="1982.1" x2="870.4" y2="1985.5" stroke="#000" stroke-width="1.2" />
<line x1="874.1" y1="1982.1" x2="874.1" y2="1985.5" stroke="#000" stroke-width="1.2" />
<line x1="877.2" y1="1982.1" x2="877.2" y2="1985.5" stroke="#000" stroke-width="1.2" />
<line x1="879.9" y1="1982.1" x2="879.9" y2="1985.5" stroke="#000" stroke-width="1.2" />
<line x1="882.3" y1="1982.1" x2="882.3" y2="1985.5" stroke="#000" stroke-width="1.2" />
<text x="825.00" y="2004.50" font-size="16.67" textLength="18.54" lengthAdjust="spacingAndGlyphs" >10</text>
<text x="843.25" y="1999.30" font-size="11.74" textLength="6.53" lengthAdjust="spacingAndGlyphs" >0</text>
<line x1="884.4" y1="1982.1" x2="884.4" y2="1988.1" stroke="#000" stroke-width="1.5" />
<line x1="898.4" y1="1982.1" x2="898.4" y2="1985.5" stroke="#000" stroke-width="1.2" />
<line x1="906.6" y1="1982.1" x2="906.6" y2="1985.5" stroke="#000" stroke-width="1.2" />
<line x1="912.5" y1="1982.1" x2="912.5" y2="1985.5" stroke="#000" stroke-width="1.2" />
<line x1="917.0" y1="1982.1" x2="917.0" y2="1985.5" stroke="#000" stroke-width="1.2" />
<line x1="920.7" y1="1982.1" x2="920.7" y2="1985.5" stroke="#000" stroke-width="1.2" />
<line x1="923.8" y1="1982.1" x2="923.8" y2="1985.5" stroke="#000" stroke-width="1.2" />
<line x1="926.5" y1="1982.1" x2="926.5" y2="1985.5" stroke="#000" stroke-width="1.2" />
<line x1="928.9" y1="1982.1" x2="928.9" y2="1985.5" stroke="#000" stroke-width="1.2" />
<text x="871.86" y="2004.50" font-size="16.67" textLength="18.54" lengthAdjust="spacingAndGlyphs" >10</text>
<text x="889.70" y="1999.30" font-size="11.74" textLength="6.53" lengthAdjust="spacingAndGlyphs" >1</text>
<line x1="931.0" y1="1982.1" x2="931.0" y2="1988.1" stroke="#000" stroke-width="1.5" />
<line x1="945.0" y1="1982.1" x2="945.0" y2="1985.5" stroke="#000" stroke-width="1.2" />
<line x1="953.2" y1="1982.1" x2="953.2" y2="1985.5" stroke="#000" stroke-width="1.2" />
<line x1="959.1" y1="1982.1" x2="959.1" y2="1985.5" stroke="#000" stroke-width="1.2" />
<line x1="963.6" y1="1982.1" x2="963.6" y2="1985.5" stroke="#000" stroke-width="1.2" />
<line x1="967.3" y1="1982.1" x2="967.3" y2="1985.5" stroke="#000" stroke-width="1.2" />
<line x1="970.4" y1="1982.1" x2="970.4" y2="1985.5" stroke="#000" stroke-width="1.2" />
<line x1="973.1" y1="1982.1" x2="973.1" y2="1985.5" stroke="#000" stroke-width="1.2" />
<line x1="975.5" y1="1982.1" x2="975.5" y2="1985.5" stroke="#000" stroke-width="1.2" />
<text x="918.35" y="2004.50" font-size="16.67" textLength="18.54" lengthAdjust="spacingAndGlyphs" >10</text>
<text x="936.48" y="1999.30" font-size="11.74" textLength="6.53" lengthAdjust="spacingAndGlyphs" >2</text>
<line x1="977.6" y1="1982.1" x2="977.6" y2="1988.1" stroke="#000" stroke-width="1.5" />
<line x1="991.6" y1="1982.1" x2="991.6" y2="1985.5" stroke="#000" stroke-width="1.2" />
<line x1="999.8" y1="1982.1" x2="999.8" y2="1985.5" stroke="#000" stroke-width="1.2" />
<line x1="1005.7" y1="1982.1" x2="1005.7" y2="1985.5" stroke="#000" stroke-width="1.2" />
<line x1="1010.2" y1="1982.1" x2="1010.2" y2="1985.5" stroke="#000" stroke-width="1.2" />
<line x1="1013.9" y1="1982.1" x2="1013.9" y2="1985.5" stroke="#000" stroke-width="1.2" />
<line x1="1017.0" y1="1982.1" x2="1017.0" y2="1985.5" stroke="#000" stroke-width="1.2" />
<line x1="1019.7" y1="1982.1" x2="1019.7" y2="1985.5" stroke="#000" stroke-width="1.2" />
<line x1="1022.1" y1="1982.1" x2="1022.1" y2="1985.5" stroke="#000" stroke-width="1.2" />
<text x="964.83" y="2004.50" font-size="16.67" textLength="18.54" lengthAdjust="spacingAndGlyphs" >10</text>
<text x="983.08" y="1999.30" font-size="11.74" textLength="6.53" lengthAdjust="spacingAndGlyphs" >3</text>
<line x1="1024.2" y1="1982.1" x2="1024.2" y2="1988.1" stroke="#000" stroke-width="1.5" />
<text x="1011.25" y="2004.50" font-size="16.67" textLength="18.54" lengthAdjust="spacingAndGlyphs" >10</text>
<text x="1029.73" y="1999.30" font-size="11.74" textLength="6.53" lengthAdjust="spacingAndGlyphs" >4</text>
<text x="899.39" y="1882.90" font-size="19.86" textLength="68.23" lengthAdjust="spacingAndGlyphs" >HeLa/N</text>
<line x1="90.3" y1="2016.0" x2="90.3" y2="1671.0" stroke="#000" stroke-width="1.8" />
<path d="M83.6,1682.4 L90.3,1670.5 L97.0,1682.4" fill="none" stroke="#000" stroke-width="1.8" stroke-linecap="round" stroke-linejoin="miter"/>
<text x="42.24" y="1844.30" font-size="21.45" textLength="66.97" lengthAdjust="spacingAndGlyphs" transform="rotate(-90 75.90 1844.30)" >Counts</text>
<line x1="121.0" y1="2018.3" x2="315.5" y2="2018.3" stroke="#000" stroke-width="1.8" />
<path d="M304.4,2011.8 L316.0,2018.3 L304.4,2024.8" fill="none" stroke="#000" stroke-width="1.8" stroke-linecap="round" stroke-linejoin="miter"/>
<text x="169.00" y="2047.20" font-size="20.87" textLength="93.66" lengthAdjust="spacingAndGlyphs" >wt CLDN1</text>
<line x1="354.7" y1="2018.3" x2="551.8" y2="2018.3" stroke="#000" stroke-width="1.8" />
<path d="M540.7,2011.8 L552.3,2018.3 L540.7,2024.8" fill="none" stroke="#000" stroke-width="1.8" stroke-linecap="round" stroke-linejoin="miter"/>
<text x="399.91" y="2047.20" font-size="20.87" textLength="122.85" lengthAdjust="spacingAndGlyphs" >NTD7 CLDN1</text>
<line x1="592.5" y1="2018.3" x2="789.5" y2="2018.3" stroke="#000" stroke-width="1.8" />
<path d="M778.4,2011.8 L790.0,2018.3 L778.4,2024.8" fill="none" stroke="#000" stroke-width="1.8" stroke-linecap="round" stroke-linejoin="miter"/>
<text x="645.91" y="2047.20" font-size="20.87" textLength="98.42" lengthAdjust="spacingAndGlyphs" >IL7 CLDN1</text>
<line x1="828.3" y1="2018.3" x2="1025.5" y2="2018.3" stroke="#000" stroke-width="1.8" />
<path d="M1014.4,2011.8 L1026.0,2018.3 L1014.4,2024.8" fill="none" stroke="#000" stroke-width="1.8" stroke-linecap="round" stroke-linejoin="miter"/>
<text x="871.03" y="2047.20" font-size="20.87" textLength="119.60" lengthAdjust="spacingAndGlyphs" >CTD7 CLDN1</text>
<line x1="200.0" y1="919.5" x2="203.8" y2="919.5" stroke="#000" stroke-width="1.5" />
<text x="170.83" y="926.90" font-size="19.13" textLength="21.28" lengthAdjust="spacingAndGlyphs" >10</text>
<line x1="200.0" y1="962.0" x2="203.8" y2="962.0" stroke="#000" stroke-width="1.5" />
<text x="181.55" y="969.40" font-size="19.13" textLength="10.64" lengthAdjust="spacingAndGlyphs" >8</text>
<line x1="200.0" y1="1004.5" x2="203.8" y2="1004.5" stroke="#000" stroke-width="1.5" />
<text x="181.55" y="1011.90" font-size="19.13" textLength="10.64" lengthAdjust="spacingAndGlyphs" >6</text>
<line x1="200.0" y1="1047.0" x2="203.8" y2="1047.0" stroke="#000" stroke-width="1.5" />
<text x="181.36" y="1054.40" font-size="19.13" textLength="10.64" lengthAdjust="spacingAndGlyphs" >4</text>
<line x1="200.0" y1="1089.5" x2="203.8" y2="1089.5" stroke="#000" stroke-width="1.5" />
<text x="181.74" y="1096.90" font-size="19.13" textLength="10.64" lengthAdjust="spacingAndGlyphs" >2</text>
<line x1="200.0" y1="1110.8" x2="203.8" y2="1110.8" stroke="#000" stroke-width="1.5" />
<text x="181.64" y="1118.15" font-size="19.13" textLength="10.64" lengthAdjust="spacingAndGlyphs" >1</text>
<line x1="200.0" y1="1132.0" x2="203.8" y2="1132.0" stroke="#000" stroke-width="1.5" />
<text x="181.45" y="1139.40" font-size="19.13" textLength="10.64" lengthAdjust="spacingAndGlyphs" >0</text>
<text x="63.11" y="1020.60" font-size="22.61" textLength="129.27" lengthAdjust="spacingAndGlyphs" transform="rotate(-90 127.60 1020.60)" >Relative MFI</text>
<text x="59.92" y="1020.40" font-size="22.61" textLength="196.19" lengthAdjust="spacingAndGlyphs" transform="rotate(-90 158.00 1020.40)" >(- FLAG-CLDN1 = 1)</text>
<rect x="217.1" y="1111.7" width="34.8" height="20.4" fill="#fff" stroke="#000" stroke-width="1.8" />
<rect x="278.0" y="974.0" width="36.1" height="158.0" fill="#000" />
<rect x="340.4" y="1111.7" width="35.0" height="20.4" fill="#fff" stroke="#000" stroke-width="1.8" />
<rect x="401.2" y="1061.4" width="36.7" height="70.6" fill="#000" />
<line x1="295.9" y1="974.0" x2="295.9" y2="953.3" stroke="#000" stroke-width="1.8" />
<line x1="292.6" y1="953.3" x2="299.1" y2="953.3" stroke="#000" stroke-width="1.8" />
<line x1="419.4" y1="1061.4" x2="419.4" y2="1046.2" stroke="#000" stroke-width="1.8" />
<line x1="416.1" y1="1046.2" x2="422.6" y2="1046.2" stroke="#000" stroke-width="1.8" />
<line x1="203.8" y1="919.5" x2="203.8" y2="1132.0" stroke="#000" stroke-width="1.6" />
<line x1="203.0" y1="1132.0" x2="449.8" y2="1132.0" stroke="#000" stroke-width="1.8" />
<line x1="203.8" y1="1110.8" x2="449.8" y2="1110.8" stroke="#000" stroke-width="1.5" stroke-dasharray="5.5 3.5" />
<path d="M296.1,941.1 L296.1,930.4 L419.2,930.4 L419.2,1038.2" fill="none" stroke="#333" stroke-width="1.1" />
<path d="M358.40,912.65 L358.40,924.15 M353.42,915.52 L363.38,921.27 M353.42,921.27 L363.38,915.52 " fill="none" stroke="#111" stroke-width="2.0" stroke-linecap="round"/>
<text x="83.77" y="1167.20" font-size="20.00" textLength="111.52" lengthAdjust="spacingAndGlyphs" >FLAG-CLDN1</text>
<line x1="231.1" y1="1162.4" x2="237.1" y2="1162.4" stroke="#222" stroke-width="1.5" />
<line x1="355.9" y1="1162.4" x2="361.9" y2="1162.4" stroke="#222" stroke-width="1.5" />
<line x1="291.6" y1="1162.8" x2="300.1" y2="1162.8" stroke="#111" stroke-width="1.5" />
<line x1="295.9" y1="1157.6" x2="295.9" y2="1168.0" stroke="#111" stroke-width="1.5" />
<line x1="415.4" y1="1162.8" x2="423.9" y2="1162.8" stroke="#111" stroke-width="1.5" />
<line x1="419.6" y1="1157.6" x2="419.6" y2="1168.0" stroke="#111" stroke-width="1.5" />
<line x1="219.0" y1="1180.6" x2="315.3" y2="1180.6" stroke="#444" stroke-width="1.2" />
<line x1="342.0" y1="1180.6" x2="440.0" y2="1180.6" stroke="#444" stroke-width="1.2" />
<text x="226.74" y="1209.60" font-size="19.71" textLength="83.04" lengthAdjust="spacingAndGlyphs" >HeLa/ctrl</text>
<text x="358.32" y="1209.60" font-size="19.71" textLength="67.08" lengthAdjust="spacingAndGlyphs" >HeLa/N</text>
<line x1="700.9" y1="918.9" x2="704.7" y2="918.9" stroke="#000" stroke-width="1.5" />
<text x="666.38" y="924.60" font-size="19.42" textLength="27.00" lengthAdjust="spacingAndGlyphs" >2.5</text>
<line x1="700.9" y1="961.4" x2="704.7" y2="961.4" stroke="#000" stroke-width="1.5" />
<text x="666.29" y="967.12" font-size="19.42" textLength="27.00" lengthAdjust="spacingAndGlyphs" >2.0</text>
<line x1="700.9" y1="1003.9" x2="704.7" y2="1003.9" stroke="#000" stroke-width="1.5" />
<text x="666.38" y="1009.64" font-size="19.42" textLength="27.00" lengthAdjust="spacingAndGlyphs" >1.5</text>
<line x1="700.9" y1="1046.5" x2="704.7" y2="1046.5" stroke="#000" stroke-width="1.5" />
<text x="666.29" y="1052.16" font-size="19.42" textLength="27.00" lengthAdjust="spacingAndGlyphs" >1.0</text>
<line x1="700.9" y1="1089.0" x2="704.7" y2="1089.0" stroke="#000" stroke-width="1.5" />
<text x="666.38" y="1094.68" font-size="19.42" textLength="27.00" lengthAdjust="spacingAndGlyphs" >0.5</text>
<line x1="700.9" y1="1131.5" x2="704.7" y2="1131.5" stroke="#000" stroke-width="1.5" />
<text x="682.50" y="1137.20" font-size="19.42" textLength="10.80" lengthAdjust="spacingAndGlyphs" >0</text>
<text x="550.13" y="1020.00" font-size="22.61" textLength="131.03" lengthAdjust="spacingAndGlyphs" transform="rotate(-90 615.50 1020.00)" >Relative MFI</text>
<text x="545.96" y="1021.00" font-size="22.61" textLength="197.31" lengthAdjust="spacingAndGlyphs" transform="rotate(-90 644.60 1021.00)" >(- FLAG-CLDN7 = 1)</text>
<rect x="718.3" y="1047.4" width="33.9" height="84.1" fill="#fff" stroke="#000" stroke-width="1.8" />
<rect x="779.3" y="968.1" width="35.7" height="163.4" fill="#000" />
<rect x="842.1" y="1047.4" width="33.9" height="84.1" fill="#fff" stroke="#000" stroke-width="1.8" />
<rect x="903.8" y="975.7" width="35.7" height="155.8" fill="#000" />
<line x1="796.8" y1="968.1" x2="796.8" y2="956.4" stroke="#000" stroke-width="1.8" />
<line x1="793.5" y1="956.4" x2="800.0" y2="956.4" stroke="#000" stroke-width="1.8" />
<line x1="921.3" y1="975.7" x2="921.3" y2="972.8" stroke="#000" stroke-width="1.8" />
<line x1="918.0" y1="972.8" x2="924.5" y2="972.8" stroke="#000" stroke-width="1.8" />
<line x1="704.7" y1="918.9" x2="704.7" y2="1131.5" stroke="#000" stroke-width="1.6" />
<line x1="703.9" y1="1131.5" x2="952.2" y2="1131.5" stroke="#000" stroke-width="1.8" />
<line x1="704.7" y1="1046.5" x2="953.0" y2="1046.5" stroke="#000" stroke-width="1.5" stroke-dasharray="5.5 3.5" />
<text x="587.47" y="1167.20" font-size="20.00" textLength="111.00" lengthAdjust="spacingAndGlyphs" >FLAG-CLDN7</text>
<line x1="734.3" y1="1162.4" x2="740.3" y2="1162.4" stroke="#222" stroke-width="1.5" />
<line x1="858.8" y1="1162.4" x2="864.8" y2="1162.4" stroke="#222" stroke-width="1.5" />
<line x1="795.0" y1="1162.8" x2="803.5" y2="1162.8" stroke="#111" stroke-width="1.5" />
<line x1="799.2" y1="1157.6" x2="799.2" y2="1168.0" stroke="#111" stroke-width="1.5" />
<line x1="919.2" y1="1162.8" x2="927.8" y2="1162.8" stroke="#111" stroke-width="1.5" />
<line x1="923.5" y1="1157.6" x2="923.5" y2="1168.0" stroke="#111" stroke-width="1.5" />
<line x1="722.4" y1="1180.6" x2="819.4" y2="1180.6" stroke="#444" stroke-width="1.2" />
<line x1="846.0" y1="1180.6" x2="943.0" y2="1180.6" stroke="#444" stroke-width="1.2" />
<text x="730.16" y="1209.60" font-size="19.71" textLength="82.21" lengthAdjust="spacingAndGlyphs" >HeLa/ctrl</text>
<text x="861.41" y="1209.60" font-size="19.71" textLength="67.18" lengthAdjust="spacingAndGlyphs" >HeLa/N</text>
<line x1="343.4" y1="2121.0" x2="346.2" y2="2121.0" stroke="#000" stroke-width="1.5" />
<text x="316.03" y="2127.60" font-size="19.13" textLength="21.28" lengthAdjust="spacingAndGlyphs" >10</text>
<line x1="343.4" y1="2175.0" x2="346.2" y2="2175.0" stroke="#000" stroke-width="1.5" />
<text x="326.75" y="2181.60" font-size="19.13" textLength="10.64" lengthAdjust="spacingAndGlyphs" >8</text>
<line x1="343.4" y1="2229.0" x2="346.2" y2="2229.0" stroke="#000" stroke-width="1.5" />
<text x="326.75" y="2235.60" font-size="19.13" textLength="10.64" lengthAdjust="spacingAndGlyphs" >6</text>
<line x1="343.4" y1="2283.0" x2="346.2" y2="2283.0" stroke="#000" stroke-width="1.5" />
<text x="326.56" y="2289.60" font-size="19.13" textLength="10.64" lengthAdjust="spacingAndGlyphs" >4</text>
<line x1="343.4" y1="2337.0" x2="346.2" y2="2337.0" stroke="#000" stroke-width="1.5" />
<text x="326.94" y="2343.60" font-size="19.13" textLength="10.64" lengthAdjust="spacingAndGlyphs" >2</text>
<line x1="343.4" y1="2364.0" x2="346.2" y2="2364.0" stroke="#000" stroke-width="1.5" />
<text x="326.84" y="2370.60" font-size="19.13" textLength="10.64" lengthAdjust="spacingAndGlyphs" >1</text>
<line x1="343.4" y1="2391.0" x2="346.2" y2="2391.0" stroke="#000" stroke-width="1.5" />
<text x="326.65" y="2397.60" font-size="19.13" textLength="10.64" lengthAdjust="spacingAndGlyphs" >0</text>
<text x="197.66" y="2256.90" font-size="22.61" textLength="129.37" lengthAdjust="spacingAndGlyphs" transform="rotate(-90 262.20 2256.90)" >Relative MFI</text>
<text x="195.53" y="2256.60" font-size="22.61" textLength="194.57" lengthAdjust="spacingAndGlyphs" transform="rotate(-90 292.80 2256.60)" >(- FLAG-CLDN1 = 1)</text>
<rect x="361.4" y="2170.6" width="26.7" height="220.4" fill="#fff" stroke="#000" stroke-width="1.8" />
<rect x="399.0" y="2312.2" width="28.6" height="78.8" fill="#000" />
<rect x="459.1" y="2157.3" width="25.4" height="233.7" fill="#fff" stroke="#000" stroke-width="1.8" />
<rect x="495.5" y="2307.5" width="28.5" height="83.5" fill="#000" />
<rect x="555.7" y="2211.6" width="27.2" height="179.4" fill="#fff" stroke="#000" stroke-width="1.8" />
<rect x="591.7" y="2249.7" width="29.3" height="141.3" fill="#000" />
<rect x="652.9" y="2176.4" width="26.2" height="214.6" fill="#fff" stroke="#000" stroke-width="1.8" />
<rect x="689.0" y="2303.8" width="29.0" height="87.2" fill="#000" />
<line x1="374.8" y1="2169.7" x2="374.8" y2="2141.2" stroke="#000" stroke-width="1.8" />
<line x1="371.5" y1="2141.2" x2="378.0" y2="2141.2" stroke="#000" stroke-width="1.8" />
<line x1="413.3" y1="2312.2" x2="413.3" y2="2291.0" stroke="#000" stroke-width="1.8" />
<line x1="410.1" y1="2291.0" x2="416.6" y2="2291.0" stroke="#000" stroke-width="1.8" />
<line x1="471.8" y1="2156.4" x2="471.8" y2="2137.4" stroke="#000" stroke-width="1.8" />
<line x1="468.5" y1="2137.4" x2="475.0" y2="2137.4" stroke="#000" stroke-width="1.8" />
<line x1="509.8" y1="2307.5" x2="509.8" y2="2293.9" stroke="#000" stroke-width="1.8" />
<line x1="506.5" y1="2293.9" x2="513.0" y2="2293.9" stroke="#000" stroke-width="1.8" />
<line x1="569.3" y1="2210.7" x2="569.3" y2="2182.0" stroke="#000" stroke-width="1.8" />
<line x1="566.0" y1="2182.0" x2="572.5" y2="2182.0" stroke="#000" stroke-width="1.8" />
<line x1="606.4" y1="2249.7" x2="606.4" y2="2220.0" stroke="#000" stroke-width="1.8" />
<line x1="603.1" y1="2220.0" x2="609.6" y2="2220.0" stroke="#000" stroke-width="1.8" />
<line x1="666.0" y1="2175.5" x2="666.0" y2="2160.0" stroke="#000" stroke-width="1.8" />
<line x1="662.8" y1="2160.0" x2="669.2" y2="2160.0" stroke="#000" stroke-width="1.8" />
<line x1="703.5" y1="2303.8" x2="703.5" y2="2280.7" stroke="#000" stroke-width="1.8" />
<line x1="700.2" y1="2280.7" x2="706.8" y2="2280.7" stroke="#000" stroke-width="1.8" />
<line x1="346.2" y1="2121.0" x2="346.2" y2="2391.0" stroke="#000" stroke-width="1.6" />
<line x1="345.4" y1="2391.0" x2="733.8" y2="2391.0" stroke="#000" stroke-width="1.8" />
<line x1="346.2" y1="2364.0" x2="734.8" y2="2364.0" stroke="#000" stroke-width="1.5" stroke-dasharray="5.5 3.5" />
<path d="M375.3,2128.8 L375.3,2119.7 L412.0,2119.7 L412.0,2279.7" fill="none" stroke="#333" stroke-width="1.2" />
<path d="M392.20,2103.65 L392.20,2115.15 M387.22,2106.53 L397.18,2112.28 M387.22,2112.28 L397.18,2106.53 " fill="none" stroke="#111" stroke-width="2.0" stroke-linecap="round"/>
<path d="M471.6,2124.5 L471.6,2115.5 L510.1,2115.5 L510.1,2281.2" fill="none" stroke="#333" stroke-width="1.2" />
<path d="M490.70,2099.65 L490.70,2111.15 M485.72,2102.53 L495.68,2108.28 M485.72,2108.28 L495.68,2102.53 " fill="none" stroke="#111" stroke-width="2.0" stroke-linecap="round"/>
<path d="M665.9,2147 L665.9,2137.2 L703.8,2137.2 L703.8,2265.9" fill="none" stroke="#333" stroke-width="1.1" />
<path d="M684.10,2120.45 L684.10,2131.95 M679.12,2123.32 L689.08,2129.07 M679.12,2129.07 L689.08,2123.32 " fill="none" stroke="#111" stroke-width="2.0" stroke-linecap="round"/>
<rect x="750.0" y="2123.9" width="25.7" height="19.0" fill="#fff" stroke="#000" stroke-width="1.8" />
<rect x="749.1" y="2154.3" width="27.5" height="21.3" fill="#000" />
<text x="785.36" y="2140.50" font-size="19.86" textLength="82.00" lengthAdjust="spacingAndGlyphs" >HeLa/ctrl</text>
<text x="785.41" y="2171.10" font-size="19.86" textLength="67.18" lengthAdjust="spacingAndGlyphs" >HeLa/N</text>
<text x="331.00" y="2446.60" font-size="19.13" textLength="84.87" lengthAdjust="spacingAndGlyphs" transform="rotate(-45 373.00 2446.60)" >wt CLDN1</text>
<text x="402.29" y="2454.40" font-size="19.13" textLength="112.84" lengthAdjust="spacingAndGlyphs" transform="rotate(-45 459.00 2454.40)" >NTD7 CLDN1</text>
<text x="523.13" y="2445.80" font-size="19.13" textLength="88.96" lengthAdjust="spacingAndGlyphs" transform="rotate(-45 568.00 2445.80)" >IL7 CLDN1</text>
<text x="598.72" y="2453.60" font-size="19.13" textLength="108.73" lengthAdjust="spacingAndGlyphs" transform="rotate(-45 653.10 2453.60)" >CTD7 CLDN1</text>
</svg>
</body></html>
